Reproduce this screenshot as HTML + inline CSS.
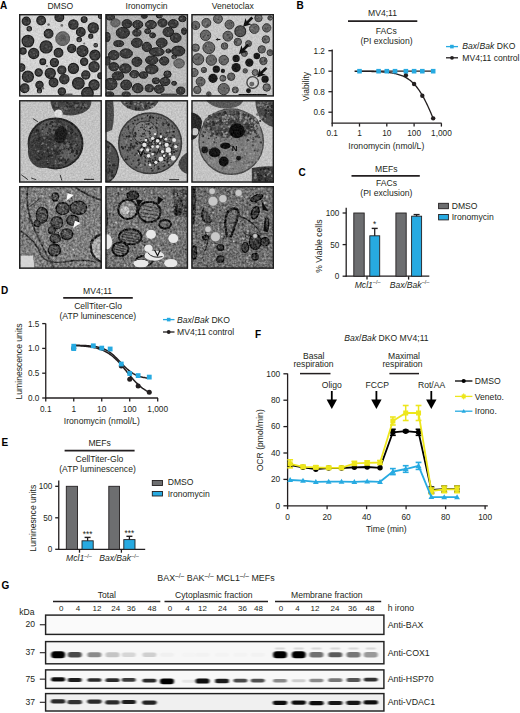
<!DOCTYPE html>
<html><head><meta charset="utf-8"><style>
html,body{margin:0;padding:0;background:#fff;}
svg{display:block;font-family:"Liberation Sans", sans-serif;}
</style></head><body>
<svg width="520" height="713" viewBox="0 0 520 713">
<rect width="520" height="713" fill="#fff"/>
<text x="0" y="9" font-size="10" font-weight="bold" fill="#000">A</text>
<text x="296.5" y="9.2" font-size="10" font-weight="bold" fill="#000">B</text>
<text x="298.5" y="175.6" font-size="10" font-weight="bold" fill="#000">C</text>
<text x="1" y="294" font-size="10" font-weight="bold" fill="#000">D</text>
<text x="1.5" y="446.4" font-size="10" font-weight="bold" fill="#000">E</text>
<text x="255" y="338.4" font-size="10" font-weight="bold" fill="#000">F</text>
<text x="1.5" y="588.6" font-size="10" font-weight="bold" fill="#000">G</text>
<text x="60.3" y="9.3" font-size="8.6" text-anchor="middle" fill="#231f20">DMSO</text>
<text x="146.6" y="9.3" font-size="8.6" text-anchor="middle" fill="#231f20">Ironomycin</text>
<text x="232.7" y="9.3" font-size="8.6" text-anchor="middle" fill="#231f20">Venetoclax</text>
<text x="382.5" y="15.6" font-size="8.6" text-anchor="middle" fill="#231f20">MV4;11</text>
<line x1="348" y1="21.2" x2="417.3" y2="21.2" stroke="#231f20" stroke-width="1.7"/>
<text x="386.2" y="33.8" font-size="8.6" text-anchor="middle" fill="#231f20">FACs</text>
<text x="386.5" y="43.8" font-size="8.6" text-anchor="middle" fill="#231f20">(PI exclusion)</text>
<line x1="332.2" y1="49.5" x2="332.2" y2="123.75" stroke="#231f20" stroke-width="1.3"/>
<line x1="331.65" y1="123.2" x2="441.6" y2="123.2" stroke="#231f20" stroke-width="1.3"/>
<line x1="328.4" y1="50.7" x2="332.2" y2="50.7" stroke="#231f20" stroke-width="1.3"/>
<text x="324.9" y="53.7" font-size="8.2" text-anchor="end" fill="#231f20">1.2</text>
<line x1="328.4" y1="71.2" x2="332.2" y2="71.2" stroke="#231f20" stroke-width="1.3"/>
<text x="324.9" y="74.2" font-size="8.2" text-anchor="end" fill="#231f20">1.0</text>
<line x1="328.4" y1="91.7" x2="332.2" y2="91.7" stroke="#231f20" stroke-width="1.3"/>
<text x="324.9" y="94.7" font-size="8.2" text-anchor="end" fill="#231f20">0.8</text>
<line x1="328.4" y1="112.2" x2="332.2" y2="112.2" stroke="#231f20" stroke-width="1.3"/>
<text x="324.9" y="115.2" font-size="8.2" text-anchor="end" fill="#231f20">0.6</text>
<line x1="332.2" y1="123.2" x2="332.2" y2="126.6" stroke="#231f20" stroke-width="1.3"/>
<text x="332.2" y="136.0" font-size="8.3" text-anchor="middle" fill="#231f20">0.1</text>
<line x1="359.5" y1="123.2" x2="359.5" y2="126.6" stroke="#231f20" stroke-width="1.3"/>
<text x="359.5" y="136.0" font-size="8.3" text-anchor="middle" fill="#231f20">1</text>
<line x1="386.8" y1="123.2" x2="386.8" y2="126.6" stroke="#231f20" stroke-width="1.3"/>
<text x="386.8" y="136.0" font-size="8.3" text-anchor="middle" fill="#231f20">10</text>
<line x1="414.1" y1="123.2" x2="414.1" y2="126.6" stroke="#231f20" stroke-width="1.3"/>
<text x="414.1" y="136.0" font-size="8.3" text-anchor="middle" fill="#231f20">100</text>
<line x1="441.4" y1="123.2" x2="441.4" y2="126.6" stroke="#231f20" stroke-width="1.3"/>
<text x="441.4" y="136.0" font-size="8.3" text-anchor="middle" fill="#231f20">1,000</text>
<text x="386.3" y="149.2" font-size="8.6" text-anchor="middle" fill="#231f20">Ironomycin (nmol/L)</text>
<text transform="translate(308.6,86.6) rotate(-90)" font-size="8.6" text-anchor="middle" fill="#231f20">Viability</text>
<path d="M354.59,71.26 L355.37,71.26 L356.16,71.26 L356.94,71.27 L357.73,71.27 L358.52,71.28 L359.30,71.29 L360.09,71.29 L360.87,71.30 L361.66,71.31 L362.45,71.32 L363.23,71.33 L364.02,71.33 L364.80,71.34 L365.59,71.36 L366.38,71.37 L367.16,71.38 L367.95,71.39 L368.73,71.41 L369.52,71.43 L370.31,71.44 L371.09,71.46 L371.88,71.48 L372.66,71.50 L373.45,71.52 L374.24,71.55 L375.02,71.58 L375.81,71.60 L376.59,71.64 L377.38,71.67 L378.17,71.70 L378.95,71.74 L379.74,71.78 L380.52,71.83 L381.31,71.88 L382.09,71.93 L382.88,71.98 L383.67,72.04 L384.45,72.10 L385.24,72.17 L386.02,72.25 L386.81,72.33 L387.60,72.41 L388.38,72.50 L389.17,72.60 L389.95,72.71 L390.74,72.82 L391.53,72.94 L392.31,73.07 L393.10,73.21 L393.88,73.36 L394.67,73.52 L395.46,73.70 L396.24,73.88 L397.03,74.08 L397.81,74.29 L398.60,74.52 L399.39,74.77 L400.17,75.03 L400.96,75.31 L401.74,75.61 L402.53,75.93 L403.32,76.27 L404.10,76.64 L404.89,77.03 L405.67,77.45 L406.46,77.90 L407.25,78.37 L408.03,78.88 L408.82,79.42 L409.60,79.99 L410.39,80.60 L411.18,81.25 L411.96,81.94 L412.75,82.66 L413.53,83.43 L414.32,84.25 L415.11,85.11 L415.89,86.02 L416.68,86.98 L417.46,87.98 L418.25,89.04 L419.04,90.15 L419.82,91.32 L420.61,92.53 L421.39,93.80 L422.18,95.13 L422.97,96.50 L423.75,97.93 L424.54,99.41 L425.32,100.94 L426.11,102.52 L426.89,104.14 L427.68,105.80 L428.47,107.51 L429.25,109.25 L430.04,111.03 L430.82,112.84 L431.61,114.67 L432.40,116.52 L433.18,118.39" fill="none" stroke="#231f20" stroke-width="1.3"/>
<circle cx="405.88" cy="75.30" r="2.2" fill="#231f20"/>
<circle cx="414.10" cy="84.01" r="2.2" fill="#231f20"/>
<circle cx="422.32" cy="95.80" r="2.2" fill="#231f20"/>
<circle cx="433.18" cy="118.35" r="2.2" fill="#231f20"/>
<line x1="359.5" y1="71.2" x2="433.1818811183733" y2="71.2" stroke="#231f20" stroke-width="1.3"/>
<rect x="357.20" y="68.90" width="4.6" height="4.6" fill="#27aae1"/>
<rect x="376.28" y="68.90" width="4.6" height="4.6" fill="#27aae1"/>
<rect x="384.50" y="68.90" width="4.6" height="4.6" fill="#27aae1"/>
<rect x="392.72" y="68.90" width="4.6" height="4.6" fill="#27aae1"/>
<rect x="403.58" y="68.90" width="4.6" height="4.6" fill="#27aae1"/>
<rect x="411.80" y="68.90" width="4.6" height="4.6" fill="#27aae1"/>
<rect x="420.02" y="68.90" width="4.6" height="4.6" fill="#27aae1"/>
<rect x="430.88" y="68.90" width="4.6" height="4.6" fill="#27aae1"/>
<line x1="446" y1="46.6" x2="458" y2="46.6" stroke="#27aae1" stroke-width="1.3"/>
<rect x="450.1" y="44.8" width="3.6" height="3.6" fill="#27aae1"/>
<text x="462.3" y="49.2" font-size="8.6" fill="#231f20"><tspan font-style="italic">Bax</tspan>/<tspan font-style="italic">Bak</tspan> DKO</text>
<line x1="446" y1="57.8" x2="458" y2="57.8" stroke="#231f20" stroke-width="1.3"/>
<circle cx="452" cy="57.8" r="1.9" fill="#231f20"/>
<text x="462.3" y="60.6" font-size="8.6" fill="#231f20">MV4;11 control</text>
<text x="386.3" y="172.2" font-size="8.6" text-anchor="middle" fill="#231f20">MEFs</text>
<line x1="351.5" y1="175.9" x2="419.8" y2="175.9" stroke="#231f20" stroke-width="1.7"/>
<text x="386.5" y="186.4" font-size="8.6" text-anchor="middle" fill="#231f20">FACs</text>
<text x="386.3" y="196.3" font-size="8.6" text-anchor="middle" fill="#231f20">(PI exclusion)</text>
<line x1="346.2" y1="207.8" x2="346.2" y2="276.75" stroke="#231f20" stroke-width="1.3"/>
<line x1="345.65" y1="276.2" x2="429.3" y2="276.2" stroke="#231f20" stroke-width="1.3"/>
<line x1="342.6" y1="213.0" x2="346.2" y2="213.0" stroke="#231f20" stroke-width="1.3"/>
<text x="339.3" y="215.9" font-size="8.2" text-anchor="end" fill="#231f20">100</text>
<line x1="342.6" y1="244.6" x2="346.2" y2="244.6" stroke="#231f20" stroke-width="1.3"/>
<text x="339.3" y="247.5" font-size="8.2" text-anchor="end" fill="#231f20">50</text>
<line x1="342.6" y1="276.2" x2="346.2" y2="276.2" stroke="#231f20" stroke-width="1.3"/>
<text x="339.3" y="279.09999999999997" font-size="8.2" text-anchor="end" fill="#231f20">0</text>
<line x1="367" y1="276.2" x2="367" y2="279.6" stroke="#231f20" stroke-width="1.3"/>
<line x1="408.6" y1="276.2" x2="408.6" y2="279.6" stroke="#231f20" stroke-width="1.3"/>
<line x1="374.7" y1="228.4" x2="374.7" y2="236" stroke="#231f20" stroke-width="1.3"/>
<line x1="371.7" y1="228.4" x2="377.7" y2="228.4" stroke="#231f20" stroke-width="1.4"/>
<rect x="353.8" y="213.0" width="10.399999999999977" height="63.19999999999999" fill="#6d6e70" stroke="#231f20" stroke-width="0.9"/>
<rect x="369.8" y="235.8" width="9.899999999999977" height="40.39999999999998" fill="#27aae1" stroke="#231f20" stroke-width="0.9"/>
<line x1="416.6" y1="214.6" x2="416.6" y2="217" stroke="#231f20" stroke-width="1.3"/>
<line x1="413.6" y1="214.6" x2="419.6" y2="214.6" stroke="#231f20" stroke-width="1.4"/>
<rect x="395.9" y="213.0" width="10.300000000000011" height="63.19999999999999" fill="#6d6e70" stroke="#231f20" stroke-width="0.9"/>
<rect x="411.6" y="216.2" width="10.0" height="60.0" fill="#27aae1" stroke="#231f20" stroke-width="0.9"/>
<text x="374.7" y="227.4" font-size="8.2" text-anchor="middle" fill="#231f20">*</text>
<text x="367.6" y="287.6" font-size="8.6" text-anchor="middle" fill="#231f20" font-style="italic">Mcl1<tspan font-size="5.5" dy="-3.4" font-style="normal">&#8211;/&#8211;</tspan></text>
<text x="409.5" y="287.6" font-size="8.6" text-anchor="middle" fill="#231f20" font-style="italic">Bax/Bak<tspan font-size="5.5" dy="-3.4" font-style="normal">&#8211;/&#8211;</tspan></text>
<rect x="438.6" y="203.3" width="9.799999999999955" height="5.399999999999977" fill="#6d6e70" stroke="#231f20" stroke-width="0.9"/>
<text x="451.7" y="208.9" font-size="8.6" fill="#231f20">DMSO</text>
<rect x="438.6" y="214.5" width="9.799999999999955" height="5.400000000000006" fill="#27aae1" stroke="#231f20" stroke-width="0.9"/>
<text x="451.7" y="220.2" font-size="8.6" fill="#231f20">Ironomycin</text>
<text transform="translate(321.6,246.2) rotate(-90)" font-size="8.6" text-anchor="middle" fill="#231f20">% Viable cells</text>
<text x="97.6" y="294.0" font-size="8.6" text-anchor="middle" fill="#231f20">MV4;11</text>
<line x1="63.2" y1="297.9" x2="132.8" y2="297.9" stroke="#231f20" stroke-width="1.7"/>
<text x="98.1" y="308.8" font-size="8.6" text-anchor="middle" fill="#231f20">CellTiter-Glo</text>
<text x="97.8" y="318.6" font-size="8.6" text-anchor="middle" fill="#231f20">(ATP luminescence)</text>
<line x1="45.75" y1="323.5" x2="45.75" y2="398.55" stroke="#231f20" stroke-width="1.3"/>
<line x1="45.2" y1="398" x2="157.9" y2="398" stroke="#231f20" stroke-width="1.3"/>
<line x1="42.2" y1="323.6" x2="45.75" y2="323.6" stroke="#231f20" stroke-width="1.3"/>
<text x="39.3" y="326.6" font-size="8.2" text-anchor="end" fill="#231f20">1.5</text>
<line x1="42.2" y1="348.4" x2="45.75" y2="348.4" stroke="#231f20" stroke-width="1.3"/>
<text x="39.3" y="351.4" font-size="8.2" text-anchor="end" fill="#231f20">1.0</text>
<line x1="42.2" y1="373.2" x2="45.75" y2="373.2" stroke="#231f20" stroke-width="1.3"/>
<text x="39.3" y="376.2" font-size="8.2" text-anchor="end" fill="#231f20">0.5</text>
<line x1="42.2" y1="398.0" x2="45.75" y2="398.0" stroke="#231f20" stroke-width="1.3"/>
<text x="39.3" y="401.0" font-size="8.2" text-anchor="end" fill="#231f20">0.0</text>
<line x1="45.75" y1="398" x2="45.75" y2="401.4" stroke="#231f20" stroke-width="1.3"/>
<text x="45.75" y="411.9" font-size="8.3" text-anchor="middle" fill="#231f20">0.1</text>
<line x1="73.74" y1="398" x2="73.74" y2="401.4" stroke="#231f20" stroke-width="1.3"/>
<text x="73.74" y="411.9" font-size="8.3" text-anchor="middle" fill="#231f20">1</text>
<line x1="101.72999999999999" y1="398" x2="101.72999999999999" y2="401.4" stroke="#231f20" stroke-width="1.3"/>
<text x="101.72999999999999" y="411.9" font-size="8.3" text-anchor="middle" fill="#231f20">10</text>
<line x1="129.72" y1="398" x2="129.72" y2="401.4" stroke="#231f20" stroke-width="1.3"/>
<text x="129.72" y="411.9" font-size="8.3" text-anchor="middle" fill="#231f20">100</text>
<line x1="157.70999999999998" y1="398" x2="157.70999999999998" y2="401.4" stroke="#231f20" stroke-width="1.3"/>
<text x="157.70999999999998" y="411.9" font-size="8.3" text-anchor="middle" fill="#231f20">1,000</text>
<text x="101.8" y="424.2" font-size="8.6" text-anchor="middle" fill="#231f20">Ironomycin (nmol/L)</text>
<text transform="translate(21.8,361.5) rotate(-90)" font-size="8.6" text-anchor="middle" fill="#231f20">Luminescence units</text>
<path d="M73.74,345.55 L74.68,345.59 L75.63,345.62 L76.57,345.66 L77.52,345.71 L78.46,345.76 L79.41,345.81 L80.35,345.87 L81.29,345.93 L82.24,346.00 L83.18,346.07 L84.13,346.15 L85.07,346.24 L86.02,346.34 L86.96,346.44 L87.90,346.56 L88.85,346.68 L89.79,346.81 L90.74,346.96 L91.68,347.12 L92.63,347.29 L93.57,347.47 L94.51,347.68 L95.46,347.89 L96.40,348.13 L97.35,348.39 L98.29,348.66 L99.24,348.96 L100.18,349.28 L101.12,349.63 L102.07,350.00 L103.01,350.40 L103.96,350.83 L104.90,351.29 L105.85,351.78 L106.79,352.31 L107.73,352.87 L108.68,353.47 L109.62,354.10 L110.57,354.77 L111.51,355.49 L112.46,356.24 L113.40,357.03 L114.34,357.86 L115.29,358.72 L116.23,359.63 L117.18,360.57 L118.12,361.55 L119.07,362.56 L120.01,363.60 L120.96,364.68 L121.90,365.77 L122.84,366.89 L123.79,368.02 L124.73,369.17 L125.68,370.33 L126.62,371.49 L127.57,372.65 L128.51,373.81 L129.45,374.96 L130.40,376.10 L131.34,377.22 L132.29,378.32 L133.23,379.39 L134.18,380.44 L135.12,381.46 L136.06,382.44 L137.01,383.39 L137.95,384.30 L138.90,385.18 L139.84,386.01 L140.79,386.81 L141.73,387.57 L142.67,388.29 L143.62,388.97 L144.56,389.61 L145.51,390.21 L146.45,390.78 L147.40,391.31 L148.34,391.81 L149.28,392.27" fill="none" stroke="#231f20" stroke-width="1.5"/>
<path d="M73.74,345.27 L74.68,345.28 L75.63,345.30 L76.57,345.31 L77.52,345.33 L78.46,345.35 L79.41,345.37 L80.35,345.40 L81.29,345.42 L82.24,345.45 L83.18,345.49 L84.13,345.53 L85.07,345.57 L86.02,345.62 L86.96,345.68 L87.90,345.74 L88.85,345.81 L89.79,345.89 L90.74,345.97 L91.68,346.07 L92.63,346.18 L93.57,346.30 L94.51,346.44 L95.46,346.59 L96.40,346.76 L97.35,346.95 L98.29,347.17 L99.24,347.40 L100.18,347.66 L101.12,347.95 L102.07,348.27 L103.01,348.62 L103.96,349.00 L104.90,349.42 L105.85,349.89 L106.79,350.39 L107.73,350.94 L108.68,351.53 L109.62,352.16 L110.57,352.85 L111.51,353.57 L112.46,354.35 L113.40,355.17 L114.34,356.02 L115.29,356.92 L116.23,357.85 L117.18,358.81 L118.12,359.79 L119.07,360.78 L120.01,361.79 L120.96,362.80 L121.90,363.81 L122.84,364.80 L123.79,365.77 L124.73,366.72 L125.68,367.65 L126.62,368.53 L127.57,369.38 L128.51,370.19 L129.45,370.95 L130.40,371.66 L131.34,372.34 L132.29,372.96 L133.23,373.54 L134.18,374.07 L135.12,374.57 L136.06,375.02 L137.01,375.43 L137.95,375.81 L138.90,376.15 L139.84,376.46 L140.79,376.74 L141.73,376.99 L142.67,377.22 L143.62,377.43 L144.56,377.61 L145.51,377.78 L146.45,377.92 L147.40,378.06 L148.34,378.18 L149.28,378.28" fill="none" stroke="#231f20" stroke-width="1.5"/>
<circle cx="73.74" cy="348.5" r="2.5" fill="#231f20"/>
<circle cx="121.29" cy="366.1" r="2.5" fill="#231f20"/>
<circle cx="129.72" cy="379.2" r="2.5" fill="#231f20"/>
<circle cx="138.15" cy="386.0" r="2.5" fill="#231f20"/>
<circle cx="149.28" cy="392.3" r="2.5" fill="#231f20"/>
<rect x="71.34" y="343.80" width="4.8" height="4.8" fill="#27aae1"/>
<rect x="71.34" y="346.20" width="4.8" height="4.8" fill="#27aae1"/>
<rect x="90.90" y="343.40" width="4.8" height="4.8" fill="#27aae1"/>
<rect x="99.33" y="345.70" width="4.8" height="4.8" fill="#27aae1"/>
<rect x="107.76" y="346.60" width="4.8" height="4.8" fill="#27aae1"/>
<rect x="118.89" y="361.60" width="4.8" height="4.8" fill="#27aae1"/>
<rect x="127.32" y="371.10" width="4.8" height="4.8" fill="#27aae1"/>
<rect x="135.75" y="373.20" width="4.8" height="4.8" fill="#27aae1"/>
<rect x="146.88" y="374.70" width="4.8" height="4.8" fill="#27aae1"/>
<line x1="163" y1="319.6" x2="174.5" y2="319.6" stroke="#27aae1" stroke-width="1.3"/>
<rect x="166.9" y="317.8" width="3.6" height="3.6" fill="#27aae1"/>
<text x="177" y="322.6" font-size="8.6" fill="#231f20"><tspan font-style="italic">Bax</tspan>/<tspan font-style="italic">Bak</tspan> DKO</text>
<line x1="163" y1="332" x2="174.5" y2="332" stroke="#231f20" stroke-width="1.3"/>
<circle cx="168.7" cy="332" r="1.9" fill="#231f20"/>
<text x="177" y="334.9" font-size="8.6" fill="#231f20">MV4;11 control</text>
<text x="99.6" y="445.9" font-size="8.6" text-anchor="middle" fill="#231f20">MEFs</text>
<line x1="64.6" y1="450.6" x2="134.6" y2="450.6" stroke="#231f20" stroke-width="1.7"/>
<text x="99.4" y="462.1" font-size="8.6" text-anchor="middle" fill="#231f20">CellTiter-Glo</text>
<text x="97.5" y="472.0" font-size="8.6" text-anchor="middle" fill="#231f20">(ATP luminescence)</text>
<line x1="58.75" y1="480.4" x2="58.75" y2="549.8499999999999" stroke="#231f20" stroke-width="1.3"/>
<line x1="58.2" y1="549.3" x2="145.2" y2="549.3" stroke="#231f20" stroke-width="1.3"/>
<line x1="55.2" y1="486.29999999999995" x2="58.75" y2="486.29999999999995" stroke="#231f20" stroke-width="1.3"/>
<text x="52.4" y="489.29999999999995" font-size="8.2" text-anchor="end" fill="#231f20">100</text>
<line x1="55.2" y1="517.8" x2="58.75" y2="517.8" stroke="#231f20" stroke-width="1.3"/>
<text x="52.4" y="520.8" font-size="8.2" text-anchor="end" fill="#231f20">50</text>
<line x1="55.2" y1="549.3" x2="58.75" y2="549.3" stroke="#231f20" stroke-width="1.3"/>
<text x="52.4" y="552.3" font-size="8.2" text-anchor="end" fill="#231f20">0</text>
<line x1="79.5" y1="549.3" x2="79.5" y2="552.7" stroke="#231f20" stroke-width="1.3"/>
<line x1="121.4" y1="549.3" x2="121.4" y2="552.7" stroke="#231f20" stroke-width="1.3"/>
<line x1="87.6" y1="537.4" x2="87.6" y2="541.5" stroke="#231f20" stroke-width="1.3"/>
<line x1="84.6" y1="537.4" x2="90.6" y2="537.4" stroke="#231f20" stroke-width="1.4"/>
<rect x="66.3" y="486.29999999999995" width="11.200000000000003" height="63.0" fill="#6d6e70" stroke="#231f20" stroke-width="0.9"/>
<rect x="82.0" y="540.8" width="11.200000000000003" height="8.5" fill="#27aae1" stroke="#231f20" stroke-width="0.9"/>
<line x1="129.4" y1="536.3" x2="129.4" y2="540.5" stroke="#231f20" stroke-width="1.3"/>
<line x1="126.4" y1="536.3" x2="132.4" y2="536.3" stroke="#231f20" stroke-width="1.4"/>
<rect x="108.8" y="486.29999999999995" width="10.700000000000003" height="63.0" fill="#6d6e70" stroke="#231f20" stroke-width="0.9"/>
<rect x="123.8" y="539.6" width="11.200000000000003" height="9.699999999999932" fill="#27aae1" stroke="#231f20" stroke-width="0.9"/>
<text x="87.6" y="536.6" font-size="8.2" text-anchor="middle" fill="#231f20">***</text>
<text x="129.4" y="536.2" font-size="8.2" text-anchor="middle" fill="#231f20">***</text>
<text x="79.0" y="561.0" font-size="8.6" text-anchor="middle" fill="#231f20" font-style="italic">Mcl1<tspan font-size="5.5" dy="-3.4" font-style="normal">&#8211;/&#8211;</tspan></text>
<text x="119.0" y="561.0" font-size="8.6" text-anchor="middle" fill="#231f20" font-style="italic">Bax/Bak<tspan font-size="5.5" dy="-3.4" font-style="normal">&#8211;/&#8211;</tspan></text>
<rect x="152.3" y="480.5" width="10.199999999999989" height="5.0" fill="#6d6e70" stroke="#231f20" stroke-width="0.9"/>
<text x="167.7" y="485.3" font-size="8.6" fill="#231f20">DMSO</text>
<rect x="152.3" y="491.5" width="10.199999999999989" height="4.5" fill="#27aae1" stroke="#231f20" stroke-width="0.9"/>
<text x="167.7" y="496.6" font-size="8.6" fill="#231f20">Ironomycin</text>
<text transform="translate(35.5,518.2) rotate(-90)" font-size="8.6" text-anchor="middle" fill="#231f20">Luminesnce units</text>
<text x="344.2" y="341.2" font-size="8.6" fill="#231f20"><tspan font-style="italic">Bax</tspan>/<tspan font-style="italic">Bak</tspan> DKO MV4;11</text>
<text x="313.7" y="359.1" font-size="8.6" text-anchor="middle" fill="#231f20">Basal</text>
<text x="313.5" y="367.2" font-size="8.6" text-anchor="middle" fill="#231f20">respiration</text>
<line x1="300" y1="373.6" x2="330.5" y2="373.6" stroke="#231f20" stroke-width="1.5"/>
<text x="404.0" y="358.8" font-size="8.6" text-anchor="middle" fill="#231f20">Maximal</text>
<text x="402.5" y="367.2" font-size="8.6" text-anchor="middle" fill="#231f20">respiration</text>
<line x1="389.4" y1="373.6" x2="419.0" y2="373.6" stroke="#231f20" stroke-width="1.5"/>
<text x="331.8" y="388.0" font-size="8.6" text-anchor="middle" fill="#231f20">Oligo</text>
<text x="377.2" y="388.0" font-size="8.6" text-anchor="middle" fill="#231f20">FCCP</text>
<text x="431.6" y="387.6" font-size="8.6" text-anchor="middle" fill="#231f20">Rot/AA</text>
<line x1="331.8" y1="391.0" x2="331.8" y2="401.0" stroke="#000" stroke-width="1.8"/>
<path d="M326.6,399.4 L337.0,399.4 L331.8,409.0 Z" fill="#000"/>
<line x1="376.4" y1="391.0" x2="376.4" y2="401.0" stroke="#000" stroke-width="1.8"/>
<path d="M371.2,399.4 L381.59999999999997,399.4 L376.4,409.0 Z" fill="#000"/>
<line x1="431.3" y1="391.0" x2="431.3" y2="401.0" stroke="#000" stroke-width="1.8"/>
<path d="M426.1,399.4 L436.5,399.4 L431.3,409.0 Z" fill="#000"/>
<line x1="287.6" y1="373.5" x2="287.6" y2="506.35" stroke="#231f20" stroke-width="1.3"/>
<line x1="287.05" y1="505.8" x2="487.8" y2="505.8" stroke="#231f20" stroke-width="1.3"/>
<line x1="283.4" y1="505.8" x2="287.6" y2="505.8" stroke="#231f20" stroke-width="1.3"/>
<text x="280.2" y="508.5" font-size="8.3" text-anchor="end" fill="#231f20">0</text>
<line x1="283.4" y1="479.40000000000003" x2="287.6" y2="479.40000000000003" stroke="#231f20" stroke-width="1.3"/>
<text x="280.2" y="482.1" font-size="8.3" text-anchor="end" fill="#231f20">20</text>
<line x1="283.4" y1="453.0" x2="287.6" y2="453.0" stroke="#231f20" stroke-width="1.3"/>
<text x="280.2" y="455.7" font-size="8.3" text-anchor="end" fill="#231f20">40</text>
<line x1="283.4" y1="426.6" x2="287.6" y2="426.6" stroke="#231f20" stroke-width="1.3"/>
<text x="280.2" y="429.3" font-size="8.3" text-anchor="end" fill="#231f20">60</text>
<line x1="283.4" y1="400.2" x2="287.6" y2="400.2" stroke="#231f20" stroke-width="1.3"/>
<text x="280.2" y="402.9" font-size="8.3" text-anchor="end" fill="#231f20">80</text>
<line x1="283.4" y1="373.8" x2="287.6" y2="373.8" stroke="#231f20" stroke-width="1.3"/>
<text x="280.2" y="376.5" font-size="8.3" text-anchor="end" fill="#231f20">100</text>
<line x1="287.6" y1="505.8" x2="287.6" y2="509.2" stroke="#231f20" stroke-width="1.3"/>
<text x="287.6" y="520.0" font-size="8.3" text-anchor="middle" fill="#231f20">0</text>
<line x1="327.1" y1="505.8" x2="327.1" y2="509.2" stroke="#231f20" stroke-width="1.3"/>
<text x="327.1" y="520.0" font-size="8.3" text-anchor="middle" fill="#231f20">20</text>
<line x1="366.6" y1="505.8" x2="366.6" y2="509.2" stroke="#231f20" stroke-width="1.3"/>
<text x="366.6" y="520.0" font-size="8.3" text-anchor="middle" fill="#231f20">40</text>
<line x1="406.1" y1="505.8" x2="406.1" y2="509.2" stroke="#231f20" stroke-width="1.3"/>
<text x="406.1" y="520.0" font-size="8.3" text-anchor="middle" fill="#231f20">60</text>
<line x1="445.6" y1="505.8" x2="445.6" y2="509.2" stroke="#231f20" stroke-width="1.3"/>
<text x="445.6" y="520.0" font-size="8.3" text-anchor="middle" fill="#231f20">80</text>
<line x1="485.1" y1="505.8" x2="485.1" y2="509.2" stroke="#231f20" stroke-width="1.3"/>
<text x="485.1" y="520.0" font-size="8.3" text-anchor="middle" fill="#231f20">100</text>
<text x="386.3" y="531.5" font-size="8.6" text-anchor="middle" fill="#231f20">Time (min)</text>
<text transform="translate(263.2,440.3) rotate(-90)" font-size="8.6" text-anchor="middle" fill="#231f20">OCR (pmol/min)</text>
<polyline points="290.17,465.0 303.00,467.3 315.84,469.2 328.68,468.0 341.52,468.0 354.36,467.3 367.19,467.0 380.03,467.8 392.87,432.3 405.71,431.2 418.54,432.3 431.38,490.0 444.22,489.1 457.06,489.1" fill="none" stroke="#000" stroke-width="1.8"/>
<line x1="392.8675" y1="429.3" x2="392.8675" y2="435.3" stroke="#000" stroke-width="1.5"/>
<line x1="389.96750000000003" y1="429.3" x2="395.7675" y2="429.3" stroke="#000" stroke-width="1.6"/>
<line x1="389.96750000000003" y1="435.3" x2="395.7675" y2="435.3" stroke="#000" stroke-width="1.6"/>
<line x1="405.70500000000004" y1="430.2" x2="405.70500000000004" y2="432.2" stroke="#000" stroke-width="1.5"/>
<line x1="402.80500000000006" y1="430.2" x2="408.605" y2="430.2" stroke="#000" stroke-width="1.6"/>
<line x1="402.80500000000006" y1="432.2" x2="408.605" y2="432.2" stroke="#000" stroke-width="1.6"/>
<line x1="418.5425" y1="429.3" x2="418.5425" y2="435.3" stroke="#000" stroke-width="1.5"/>
<line x1="415.64250000000004" y1="429.3" x2="421.4425" y2="429.3" stroke="#000" stroke-width="1.6"/>
<line x1="415.64250000000004" y1="435.3" x2="421.4425" y2="435.3" stroke="#000" stroke-width="1.6"/>
<line x1="431.38" y1="487.0" x2="431.38" y2="493.0" stroke="#000" stroke-width="1.5"/>
<line x1="428.48" y1="487.0" x2="434.28" y2="487.0" stroke="#000" stroke-width="1.6"/>
<line x1="428.48" y1="493.0" x2="434.28" y2="493.0" stroke="#000" stroke-width="1.6"/>
<line x1="444.21750000000003" y1="486.1" x2="444.21750000000003" y2="492.1" stroke="#000" stroke-width="1.5"/>
<line x1="441.31750000000005" y1="486.1" x2="447.1175" y2="486.1" stroke="#000" stroke-width="1.6"/>
<line x1="441.31750000000005" y1="492.1" x2="447.1175" y2="492.1" stroke="#000" stroke-width="1.6"/>
<line x1="457.05500000000006" y1="486.1" x2="457.05500000000006" y2="492.1" stroke="#000" stroke-width="1.5"/>
<line x1="454.1550000000001" y1="486.1" x2="459.95500000000004" y2="486.1" stroke="#000" stroke-width="1.6"/>
<line x1="454.1550000000001" y1="492.1" x2="459.95500000000004" y2="492.1" stroke="#000" stroke-width="1.6"/>
<circle cx="290.17" cy="465.0" r="2.7" fill="#000"/>
<circle cx="303.00" cy="467.3" r="2.7" fill="#000"/>
<circle cx="315.84" cy="469.2" r="2.7" fill="#000"/>
<circle cx="328.68" cy="468.0" r="2.7" fill="#000"/>
<circle cx="341.52" cy="468.0" r="2.7" fill="#000"/>
<circle cx="354.36" cy="467.3" r="2.7" fill="#000"/>
<circle cx="367.19" cy="467.0" r="2.7" fill="#000"/>
<circle cx="380.03" cy="467.8" r="2.7" fill="#000"/>
<circle cx="392.87" cy="432.3" r="2.7" fill="#000"/>
<circle cx="405.71" cy="431.2" r="2.7" fill="#000"/>
<circle cx="418.54" cy="432.3" r="2.7" fill="#000"/>
<circle cx="431.38" cy="490.0" r="2.7" fill="#000"/>
<circle cx="444.22" cy="489.1" r="2.7" fill="#000"/>
<circle cx="457.06" cy="489.1" r="2.7" fill="#000"/>
<polyline points="290.17,463.8 303.00,466.8 315.84,467.3 328.68,467.8 341.52,467.8 354.36,463.4 367.19,462.9 380.03,462.5 392.87,421.0 405.71,413.0 418.54,413.0 431.38,491.0 444.22,489.4 457.06,489.4" fill="none" stroke="#ede61c" stroke-width="1.8"/>
<line x1="290.1675" y1="459.8" x2="290.1675" y2="467.8" stroke="#ede61c" stroke-width="1.5"/>
<line x1="287.26750000000004" y1="459.8" x2="293.0675" y2="459.8" stroke="#ede61c" stroke-width="1.6"/>
<line x1="287.26750000000004" y1="467.8" x2="293.0675" y2="467.8" stroke="#ede61c" stroke-width="1.6"/>
<line x1="303.005" y1="465.3" x2="303.005" y2="468.3" stroke="#ede61c" stroke-width="1.5"/>
<line x1="300.105" y1="465.3" x2="305.905" y2="465.3" stroke="#ede61c" stroke-width="1.6"/>
<line x1="300.105" y1="468.3" x2="305.905" y2="468.3" stroke="#ede61c" stroke-width="1.6"/>
<line x1="315.84250000000003" y1="465.8" x2="315.84250000000003" y2="468.8" stroke="#ede61c" stroke-width="1.5"/>
<line x1="312.94250000000005" y1="465.8" x2="318.7425" y2="465.8" stroke="#ede61c" stroke-width="1.6"/>
<line x1="312.94250000000005" y1="468.8" x2="318.7425" y2="468.8" stroke="#ede61c" stroke-width="1.6"/>
<line x1="328.68" y1="466.3" x2="328.68" y2="469.3" stroke="#ede61c" stroke-width="1.5"/>
<line x1="325.78000000000003" y1="466.3" x2="331.58" y2="466.3" stroke="#ede61c" stroke-width="1.6"/>
<line x1="325.78000000000003" y1="469.3" x2="331.58" y2="469.3" stroke="#ede61c" stroke-width="1.6"/>
<line x1="341.51750000000004" y1="466.3" x2="341.51750000000004" y2="469.3" stroke="#ede61c" stroke-width="1.5"/>
<line x1="338.61750000000006" y1="466.3" x2="344.4175" y2="466.3" stroke="#ede61c" stroke-width="1.6"/>
<line x1="338.61750000000006" y1="469.3" x2="344.4175" y2="469.3" stroke="#ede61c" stroke-width="1.6"/>
<line x1="354.355" y1="461.4" x2="354.355" y2="465.4" stroke="#ede61c" stroke-width="1.5"/>
<line x1="351.45500000000004" y1="461.4" x2="357.255" y2="461.4" stroke="#ede61c" stroke-width="1.6"/>
<line x1="351.45500000000004" y1="465.4" x2="357.255" y2="465.4" stroke="#ede61c" stroke-width="1.6"/>
<line x1="367.1925" y1="460.9" x2="367.1925" y2="464.9" stroke="#ede61c" stroke-width="1.5"/>
<line x1="364.2925" y1="460.9" x2="370.0925" y2="460.9" stroke="#ede61c" stroke-width="1.6"/>
<line x1="364.2925" y1="464.9" x2="370.0925" y2="464.9" stroke="#ede61c" stroke-width="1.6"/>
<line x1="380.03000000000003" y1="460.5" x2="380.03000000000003" y2="464.5" stroke="#ede61c" stroke-width="1.5"/>
<line x1="377.13000000000005" y1="460.5" x2="382.93" y2="460.5" stroke="#ede61c" stroke-width="1.6"/>
<line x1="377.13000000000005" y1="464.5" x2="382.93" y2="464.5" stroke="#ede61c" stroke-width="1.6"/>
<line x1="392.8675" y1="417.0" x2="392.8675" y2="425.0" stroke="#ede61c" stroke-width="1.5"/>
<line x1="389.96750000000003" y1="417.0" x2="395.7675" y2="417.0" stroke="#ede61c" stroke-width="1.6"/>
<line x1="389.96750000000003" y1="425.0" x2="395.7675" y2="425.0" stroke="#ede61c" stroke-width="1.6"/>
<line x1="405.70500000000004" y1="405.5" x2="405.70500000000004" y2="420.5" stroke="#ede61c" stroke-width="1.5"/>
<line x1="402.80500000000006" y1="405.5" x2="408.605" y2="405.5" stroke="#ede61c" stroke-width="1.6"/>
<line x1="402.80500000000006" y1="420.5" x2="408.605" y2="420.5" stroke="#ede61c" stroke-width="1.6"/>
<line x1="418.5425" y1="405.5" x2="418.5425" y2="420.5" stroke="#ede61c" stroke-width="1.5"/>
<line x1="415.64250000000004" y1="405.5" x2="421.4425" y2="405.5" stroke="#ede61c" stroke-width="1.6"/>
<line x1="415.64250000000004" y1="420.5" x2="421.4425" y2="420.5" stroke="#ede61c" stroke-width="1.6"/>
<line x1="431.38" y1="488.0" x2="431.38" y2="494.0" stroke="#ede61c" stroke-width="1.5"/>
<line x1="428.48" y1="488.0" x2="434.28" y2="488.0" stroke="#ede61c" stroke-width="1.6"/>
<line x1="428.48" y1="494.0" x2="434.28" y2="494.0" stroke="#ede61c" stroke-width="1.6"/>
<line x1="444.21750000000003" y1="486.09999999999997" x2="444.21750000000003" y2="492.7" stroke="#ede61c" stroke-width="1.5"/>
<line x1="441.31750000000005" y1="486.09999999999997" x2="447.1175" y2="486.09999999999997" stroke="#ede61c" stroke-width="1.6"/>
<line x1="441.31750000000005" y1="492.7" x2="447.1175" y2="492.7" stroke="#ede61c" stroke-width="1.6"/>
<line x1="457.05500000000006" y1="486.09999999999997" x2="457.05500000000006" y2="492.7" stroke="#ede61c" stroke-width="1.5"/>
<line x1="454.1550000000001" y1="486.09999999999997" x2="459.95500000000004" y2="486.09999999999997" stroke="#ede61c" stroke-width="1.6"/>
<line x1="454.1550000000001" y1="492.7" x2="459.95500000000004" y2="492.7" stroke="#ede61c" stroke-width="1.6"/>
<rect x="287.67" y="461.3" width="5" height="5" fill="#ede61c"/>
<rect x="300.50" y="464.3" width="5" height="5" fill="#ede61c"/>
<rect x="313.34" y="464.8" width="5" height="5" fill="#ede61c"/>
<rect x="326.18" y="465.3" width="5" height="5" fill="#ede61c"/>
<rect x="339.02" y="465.3" width="5" height="5" fill="#ede61c"/>
<rect x="351.86" y="460.9" width="5" height="5" fill="#ede61c"/>
<rect x="364.69" y="460.4" width="5" height="5" fill="#ede61c"/>
<rect x="377.53" y="460.0" width="5" height="5" fill="#ede61c"/>
<rect x="390.37" y="418.5" width="5" height="5" fill="#ede61c"/>
<rect x="403.21" y="410.5" width="5" height="5" fill="#ede61c"/>
<rect x="416.04" y="410.5" width="5" height="5" fill="#ede61c"/>
<rect x="428.88" y="488.5" width="5" height="5" fill="#ede61c"/>
<rect x="441.72" y="486.9" width="5" height="5" fill="#ede61c"/>
<rect x="454.56" y="486.9" width="5" height="5" fill="#ede61c"/>
<polyline points="290.17,480.0 303.00,480.7 315.84,481.8 328.68,481.6 341.52,481.6 354.36,481.8 367.19,481.4 380.03,481.8 392.87,471.6 405.71,469.0 418.54,465.9 431.38,497.0 444.22,497.2 457.06,497.2" fill="none" stroke="#27aae1" stroke-width="1.8"/>
<line x1="392.8675" y1="468.6" x2="392.8675" y2="474.6" stroke="#27aae1" stroke-width="1.5"/>
<line x1="389.96750000000003" y1="468.6" x2="395.7675" y2="468.6" stroke="#27aae1" stroke-width="1.6"/>
<line x1="389.96750000000003" y1="474.6" x2="395.7675" y2="474.6" stroke="#27aae1" stroke-width="1.6"/>
<line x1="405.70500000000004" y1="465.7" x2="405.70500000000004" y2="472.3" stroke="#27aae1" stroke-width="1.5"/>
<line x1="402.80500000000006" y1="465.7" x2="408.605" y2="465.7" stroke="#27aae1" stroke-width="1.6"/>
<line x1="402.80500000000006" y1="472.3" x2="408.605" y2="472.3" stroke="#27aae1" stroke-width="1.6"/>
<line x1="418.5425" y1="462.4" x2="418.5425" y2="469.4" stroke="#27aae1" stroke-width="1.5"/>
<line x1="415.64250000000004" y1="462.4" x2="421.4425" y2="462.4" stroke="#27aae1" stroke-width="1.6"/>
<line x1="415.64250000000004" y1="469.4" x2="421.4425" y2="469.4" stroke="#27aae1" stroke-width="1.6"/>
<path d="M287.27,482.1 L293.07,482.1 L290.17,477.1 Z" fill="#27aae1"/>
<path d="M300.11,482.8 L305.90,482.8 L303.00,477.8 Z" fill="#27aae1"/>
<path d="M312.94,483.90000000000003 L318.74,483.90000000000003 L315.84,478.90000000000003 Z" fill="#27aae1"/>
<path d="M325.78,483.70000000000005 L331.58,483.70000000000005 L328.68,478.70000000000005 Z" fill="#27aae1"/>
<path d="M338.62,483.70000000000005 L344.42,483.70000000000005 L341.52,478.70000000000005 Z" fill="#27aae1"/>
<path d="M351.46,483.90000000000003 L357.25,483.90000000000003 L354.36,478.90000000000003 Z" fill="#27aae1"/>
<path d="M364.29,483.5 L370.09,483.5 L367.19,478.5 Z" fill="#27aae1"/>
<path d="M377.13,483.90000000000003 L382.93,483.90000000000003 L380.03,478.90000000000003 Z" fill="#27aae1"/>
<path d="M389.97,473.70000000000005 L395.77,473.70000000000005 L392.87,468.70000000000005 Z" fill="#27aae1"/>
<path d="M402.81,471.1 L408.61,471.1 L405.71,466.1 Z" fill="#27aae1"/>
<path d="M415.64,468.0 L421.44,468.0 L418.54,463.0 Z" fill="#27aae1"/>
<path d="M428.48,499.1 L434.28,499.1 L431.38,494.1 Z" fill="#27aae1"/>
<path d="M441.32,499.3 L447.12,499.3 L444.22,494.3 Z" fill="#27aae1"/>
<path d="M454.16,499.3 L459.96,499.3 L457.06,494.3 Z" fill="#27aae1"/>
<line x1="455" y1="381" x2="472.4" y2="381" stroke="#000" stroke-width="1.3"/>
<circle cx="463.7" cy="381" r="2.1" fill="#000"/>
<text x="474.8" y="384.2" font-size="8.6" fill="#231f20">DMSO</text>
<line x1="455" y1="396.4" x2="472.4" y2="396.4" stroke="#ede61c" stroke-width="1.3"/>
<rect x="461.7" y="394.4" width="4" height="4" fill="#ede61c"/>
<line x1="463.7" y1="393.4" x2="463.7" y2="399.4" stroke="#ede61c" stroke-width="1.0"/>
<text x="474.8" y="399.6" font-size="8.6" fill="#231f20">Veneto.</text>
<line x1="455" y1="411.2" x2="472.4" y2="411.2" stroke="#27aae1" stroke-width="1.3"/>
<path d="M461.5,412.8 L465.9,412.8 L463.7,409 Z" fill="#27aae1"/>
<text x="474.8" y="414.4" font-size="8.6" fill="#231f20">Irono.</text>
<defs>
<clipPath id="cp00"><rect x="19" y="14" width="82.9" height="82.6"/></clipPath>
<clipPath id="cp10"><rect x="105.3" y="14" width="82.8" height="82.6"/></clipPath>
<clipPath id="cp20"><rect x="191.3" y="14" width="82.69999999999999" height="82.6"/></clipPath>
<clipPath id="cp01"><rect x="19" y="100.1" width="82.9" height="82.6"/></clipPath>
<clipPath id="cp11"><rect x="105.3" y="100.1" width="82.8" height="82.6"/></clipPath>
<clipPath id="cp21"><rect x="191.3" y="100.1" width="82.69999999999999" height="82.6"/></clipPath>
<clipPath id="cp02"><rect x="19" y="186" width="82.9" height="82.80000000000001"/></clipPath>
<clipPath id="cp12"><rect x="105.3" y="186" width="82.8" height="82.80000000000001"/></clipPath>
<clipPath id="cp22"><rect x="191.3" y="186" width="82.69999999999999" height="82.80000000000001"/></clipPath>
<filter id="gr00" x="0" y="0" width="100%" height="100%" color-interpolation-filters="sRGB"><feGaussianBlur in="SourceGraphic" stdDeviation="0.45" result="b"/><feTurbulence type="fractalNoise" baseFrequency="0.6" numOctaves="2" seed="1" result="t"/><feColorMatrix in="t" type="matrix" values="1 0 0 0 0  1 0 0 0 0  1 0 0 0 0  0 0 0 0 1" result="n"/><feComposite in="b" in2="n" operator="arithmetic" k1="0" k2="1" k3="0.18" k4="-0.09"/></filter>
<filter id="gr10" x="0" y="0" width="100%" height="100%" color-interpolation-filters="sRGB"><feGaussianBlur in="SourceGraphic" stdDeviation="0.45" result="b"/><feTurbulence type="fractalNoise" baseFrequency="0.6" numOctaves="2" seed="11" result="t"/><feColorMatrix in="t" type="matrix" values="1 0 0 0 0  1 0 0 0 0  1 0 0 0 0  0 0 0 0 1" result="n"/><feComposite in="b" in2="n" operator="arithmetic" k1="0" k2="1" k3="0.18" k4="-0.09"/></filter>
<filter id="gr20" x="0" y="0" width="100%" height="100%" color-interpolation-filters="sRGB"><feGaussianBlur in="SourceGraphic" stdDeviation="0.45" result="b"/><feTurbulence type="fractalNoise" baseFrequency="0.6" numOctaves="2" seed="21" result="t"/><feColorMatrix in="t" type="matrix" values="1 0 0 0 0  1 0 0 0 0  1 0 0 0 0  0 0 0 0 1" result="n"/><feComposite in="b" in2="n" operator="arithmetic" k1="0" k2="1" k3="0.18" k4="-0.09"/></filter>
<filter id="gr01" x="0" y="0" width="100%" height="100%" color-interpolation-filters="sRGB"><feGaussianBlur in="SourceGraphic" stdDeviation="0.45" result="b"/><feTurbulence type="fractalNoise" baseFrequency="0.6" numOctaves="2" seed="2" result="t"/><feColorMatrix in="t" type="matrix" values="1 0 0 0 0  1 0 0 0 0  1 0 0 0 0  0 0 0 0 1" result="n"/><feComposite in="b" in2="n" operator="arithmetic" k1="0" k2="1" k3="0.2" k4="-0.1"/></filter>
<filter id="gr11" x="0" y="0" width="100%" height="100%" color-interpolation-filters="sRGB"><feGaussianBlur in="SourceGraphic" stdDeviation="0.45" result="b"/><feTurbulence type="fractalNoise" baseFrequency="0.6" numOctaves="2" seed="12" result="t"/><feColorMatrix in="t" type="matrix" values="1 0 0 0 0  1 0 0 0 0  1 0 0 0 0  0 0 0 0 1" result="n"/><feComposite in="b" in2="n" operator="arithmetic" k1="0" k2="1" k3="0.2" k4="-0.1"/></filter>
<filter id="gr21" x="0" y="0" width="100%" height="100%" color-interpolation-filters="sRGB"><feGaussianBlur in="SourceGraphic" stdDeviation="0.45" result="b"/><feTurbulence type="fractalNoise" baseFrequency="0.6" numOctaves="2" seed="22" result="t"/><feColorMatrix in="t" type="matrix" values="1 0 0 0 0  1 0 0 0 0  1 0 0 0 0  0 0 0 0 1" result="n"/><feComposite in="b" in2="n" operator="arithmetic" k1="0" k2="1" k3="0.2" k4="-0.1"/></filter>
<filter id="gr02" x="0" y="0" width="100%" height="100%" color-interpolation-filters="sRGB"><feGaussianBlur in="SourceGraphic" stdDeviation="0.45" result="b"/><feTurbulence type="fractalNoise" baseFrequency="0.45" numOctaves="2" seed="3" result="t"/><feColorMatrix in="t" type="matrix" values="1 0 0 0 0  1 0 0 0 0  1 0 0 0 0  0 0 0 0 1" result="n"/><feComposite in="b" in2="n" operator="arithmetic" k1="0" k2="1" k3="0.55" k4="-0.275"/></filter>
<filter id="gr12" x="0" y="0" width="100%" height="100%" color-interpolation-filters="sRGB"><feGaussianBlur in="SourceGraphic" stdDeviation="0.45" result="b"/><feTurbulence type="fractalNoise" baseFrequency="0.45" numOctaves="2" seed="13" result="t"/><feColorMatrix in="t" type="matrix" values="1 0 0 0 0  1 0 0 0 0  1 0 0 0 0  0 0 0 0 1" result="n"/><feComposite in="b" in2="n" operator="arithmetic" k1="0" k2="1" k3="0.55" k4="-0.275"/></filter>
<filter id="gr22" x="0" y="0" width="100%" height="100%" color-interpolation-filters="sRGB"><feGaussianBlur in="SourceGraphic" stdDeviation="0.45" result="b"/><feTurbulence type="fractalNoise" baseFrequency="0.45" numOctaves="2" seed="23" result="t"/><feColorMatrix in="t" type="matrix" values="1 0 0 0 0  1 0 0 0 0  1 0 0 0 0  0 0 0 0 1" result="n"/><feComposite in="b" in2="n" operator="arithmetic" k1="0" k2="1" k3="0.55" k4="-0.275"/></filter>
<filter id="soft" x="-5%" y="-5%" width="110%" height="110%"><feGaussianBlur stdDeviation="0.45"/></filter>
</defs>
<g clip-path="url(#cp00)"><g filter="url(#gr00)"><g transform="translate(18 13) scale(0.165371)">
<rect x="0" y="0" width="520" height="520" fill="#d3d3d3"/>
<circle cx="50" cy="50" r="24.64" fill="#3e3e3e" stroke="#1e1e1e" stroke-width="7"/>
<circle cx="140" cy="45" r="26.4" fill="#3e3e3e" stroke="#1e1e1e" stroke-width="7"/>
<circle cx="250" cy="25" r="26.4" fill="#3e3e3e" stroke="#1e1e1e" stroke-width="7"/>
<circle cx="335" cy="70" r="28.16" fill="#3e3e3e" stroke="#1e1e1e" stroke-width="7"/>
<circle cx="400" cy="40" r="17.6" fill="#3e3e3e" stroke="#1e1e1e" stroke-width="7"/>
<circle cx="455" cy="90" r="30.8" fill="#3e3e3e" stroke="#1e1e1e" stroke-width="7"/>
<circle cx="68" cy="95" r="13.2" fill="#3e3e3e" stroke="#1e1e1e" stroke-width="7"/>
<circle cx="185" cy="125" r="26.4" fill="#3e3e3e" stroke="#1e1e1e" stroke-width="7"/>
<circle cx="380" cy="115" r="26.4" fill="#3e3e3e" stroke="#1e1e1e" stroke-width="7"/>
<circle cx="60" cy="170" r="35.2" fill="#3e3e3e" stroke="#1e1e1e" stroke-width="7"/>
<circle cx="170" cy="205" r="36.96" fill="#3e3e3e" stroke="#1e1e1e" stroke-width="7"/>
<circle cx="370" cy="160" r="13.2" fill="#3e3e3e" stroke="#1e1e1e" stroke-width="7"/>
<circle cx="440" cy="140" r="12.32" fill="#3e3e3e" stroke="#1e1e1e" stroke-width="7"/>
<circle cx="30" cy="230" r="19.36" fill="#3e3e3e" stroke="#1e1e1e" stroke-width="7"/>
<circle cx="95" cy="245" r="30.8" fill="#3e3e3e" stroke="#1e1e1e" stroke-width="7"/>
<circle cx="245" cy="240" r="26.4" fill="#3e3e3e" stroke="#1e1e1e" stroke-width="7"/>
<circle cx="325" cy="215" r="24.64" fill="#3e3e3e" stroke="#1e1e1e" stroke-width="7"/>
<circle cx="390" cy="230" r="33.44" fill="#3e3e3e" stroke="#1e1e1e" stroke-width="7"/>
<circle cx="465" cy="255" r="30.8" fill="#3e3e3e" stroke="#1e1e1e" stroke-width="7"/>
<circle cx="150" cy="295" r="17.6" fill="#3e3e3e" stroke="#1e1e1e" stroke-width="7"/>
<circle cx="220" cy="300" r="24.64" fill="#3e3e3e" stroke="#1e1e1e" stroke-width="7"/>
<circle cx="400" cy="295" r="22.0" fill="#3e3e3e" stroke="#1e1e1e" stroke-width="7"/>
<circle cx="20" cy="330" r="22.0" fill="#3e3e3e" stroke="#1e1e1e" stroke-width="7"/>
<circle cx="265" cy="345" r="24.64" fill="#3e3e3e" stroke="#1e1e1e" stroke-width="7"/>
<circle cx="335" cy="335" r="30.8" fill="#3e3e3e" stroke="#1e1e1e" stroke-width="7"/>
<circle cx="460" cy="325" r="30.8" fill="#3e3e3e" stroke="#1e1e1e" stroke-width="7"/>
<circle cx="60" cy="385" r="33.44" fill="#3e3e3e" stroke="#1e1e1e" stroke-width="7"/>
<circle cx="125" cy="360" r="22.0" fill="#3e3e3e" stroke="#1e1e1e" stroke-width="7"/>
<circle cx="195" cy="365" r="30.8" fill="#3e3e3e" stroke="#1e1e1e" stroke-width="7"/>
<circle cx="410" cy="375" r="24.64" fill="#3e3e3e" stroke="#1e1e1e" stroke-width="7"/>
<circle cx="500" cy="380" r="17.6" fill="#3e3e3e" stroke="#1e1e1e" stroke-width="7"/>
<circle cx="40" cy="455" r="26.4" fill="#3e3e3e" stroke="#1e1e1e" stroke-width="7"/>
<circle cx="130" cy="435" r="22.0" fill="#3e3e3e" stroke="#1e1e1e" stroke-width="7"/>
<circle cx="215" cy="420" r="26.4" fill="#3e3e3e" stroke="#1e1e1e" stroke-width="7"/>
<circle cx="280" cy="400" r="28.16" fill="#3e3e3e" stroke="#1e1e1e" stroke-width="7"/>
<circle cx="365" cy="425" r="35.2" fill="#3e3e3e" stroke="#1e1e1e" stroke-width="7"/>
<circle cx="460" cy="435" r="30.8" fill="#3e3e3e" stroke="#1e1e1e" stroke-width="7"/>
<circle cx="265" cy="475" r="22.0" fill="#3e3e3e" stroke="#1e1e1e" stroke-width="7"/>
<circle cx="420" cy="485" r="35.2" fill="#3e3e3e" stroke="#1e1e1e" stroke-width="7"/>
<circle cx="500" cy="20" r="13.2" fill="#3e3e3e" stroke="#1e1e1e" stroke-width="7"/>
<circle cx="470" cy="195" r="10.56" fill="#3e3e3e" stroke="#1e1e1e" stroke-width="7"/>
<circle cx="130" cy="470" r="12.32" fill="#3e3e3e" stroke="#1e1e1e" stroke-width="7"/>
<circle cx="57" cy="39" r="6" fill="#2a2a2a"/>
<circle cx="63" cy="56" r="5" fill="#5e5e5e"/>
<circle cx="49" cy="40" r="6" fill="#2a2a2a"/>
<circle cx="57" cy="46" r="5" fill="#2a2a2a"/>
<circle cx="125" cy="39" r="3" fill="#2a2a2a"/>
<circle cx="134" cy="52" r="5" fill="#5e5e5e"/>
<circle cx="149" cy="43" r="6" fill="#5e5e5e"/>
<circle cx="139" cy="60" r="6" fill="#555"/>
<circle cx="259" cy="30" r="4" fill="#555"/>
<circle cx="240" cy="21" r="3" fill="#2a2a2a"/>
<circle cx="251" cy="15" r="4" fill="#5e5e5e"/>
<circle cx="259" cy="30" r="4" fill="#2a2a2a"/>
<circle cx="339" cy="59" r="5" fill="#5e5e5e"/>
<circle cx="326" cy="75" r="5" fill="#555"/>
<circle cx="321" cy="72" r="6" fill="#2a2a2a"/>
<circle cx="338" cy="73" r="4" fill="#2a2a2a"/>
<circle cx="398" cy="31" r="5" fill="#555"/>
<circle cx="398" cy="48" r="3" fill="#5e5e5e"/>
<circle cx="408" cy="47" r="3" fill="#555"/>
<circle cx="394" cy="48" r="4" fill="#2a2a2a"/>
<circle cx="452" cy="99" r="5" fill="#2a2a2a"/>
<circle cx="454" cy="98" r="6" fill="#5e5e5e"/>
<circle cx="442" cy="78" r="5" fill="#555"/>
<circle cx="448" cy="108" r="3" fill="#2a2a2a"/>
<circle cx="72" cy="101" r="6" fill="#555"/>
<circle cx="63" cy="91" r="5" fill="#5e5e5e"/>
<circle cx="68" cy="89" r="4" fill="#5e5e5e"/>
<circle cx="67" cy="98" r="4" fill="#555"/>
<circle cx="185" cy="131" r="6" fill="#555"/>
<circle cx="184" cy="111" r="4" fill="#555"/>
<circle cx="174" cy="119" r="6" fill="#555"/>
<circle cx="181" cy="136" r="5" fill="#555"/>
<circle cx="372" cy="125" r="3" fill="#5e5e5e"/>
<circle cx="372" cy="117" r="5" fill="#2a2a2a"/>
<circle cx="391" cy="123" r="6" fill="#2a2a2a"/>
<circle cx="375" cy="104" r="6" fill="#2a2a2a"/>
<circle cx="63" cy="148" r="6" fill="#2a2a2a"/>
<circle cx="41" cy="178" r="3" fill="#555"/>
<circle cx="70" cy="190" r="4" fill="#555"/>
<circle cx="50" cy="166" r="6" fill="#555"/>
<circle cx="164" cy="214" r="5" fill="#2a2a2a"/>
<circle cx="191" cy="214" r="5" fill="#555"/>
<circle cx="172" cy="204" r="6" fill="#555"/>
<circle cx="172" cy="203" r="5" fill="#555"/>
<circle cx="371" cy="164" r="3" fill="#5e5e5e"/>
<circle cx="371" cy="167" r="5" fill="#5e5e5e"/>
<circle cx="375" cy="163" r="3" fill="#5e5e5e"/>
<circle cx="369" cy="167" r="6" fill="#5e5e5e"/>
<circle cx="438" cy="148" r="5" fill="#555"/>
<circle cx="437" cy="134" r="6" fill="#2a2a2a"/>
<circle cx="440" cy="142" r="3" fill="#555"/>
<circle cx="439" cy="138" r="4" fill="#555"/>
<circle cx="21" cy="223" r="3" fill="#2a2a2a"/>
<circle cx="31" cy="240" r="3" fill="#2a2a2a"/>
<circle cx="31" cy="223" r="4" fill="#5e5e5e"/>
<circle cx="29" cy="235" r="4" fill="#5e5e5e"/>
<circle cx="96" cy="239" r="4" fill="#5e5e5e"/>
<circle cx="106" cy="261" r="4" fill="#2a2a2a"/>
<circle cx="112" cy="252" r="4" fill="#5e5e5e"/>
<circle cx="99" cy="252" r="6" fill="#555"/>
<circle cx="231" cy="233" r="3" fill="#555"/>
<circle cx="246" cy="233" r="3" fill="#555"/>
<circle cx="248" cy="251" r="4" fill="#555"/>
<circle cx="245" cy="238" r="5" fill="#5e5e5e"/>
<circle cx="336" cy="220" r="5" fill="#2a2a2a"/>
<circle cx="310" cy="210" r="5" fill="#2a2a2a"/>
<circle cx="335" cy="214" r="6" fill="#2a2a2a"/>
<circle cx="324" cy="200" r="3" fill="#555"/>
<circle cx="379" cy="219" r="4" fill="#2a2a2a"/>
<circle cx="401" cy="237" r="6" fill="#5e5e5e"/>
<circle cx="394" cy="239" r="4" fill="#555"/>
<circle cx="408" cy="224" r="6" fill="#2a2a2a"/>
<circle cx="457" cy="239" r="6" fill="#2a2a2a"/>
<circle cx="458" cy="269" r="6" fill="#5e5e5e"/>
<circle cx="475" cy="249" r="4" fill="#2a2a2a"/>
<circle cx="469" cy="244" r="5" fill="#5e5e5e"/>
<circle cx="155" cy="291" r="3" fill="#5e5e5e"/>
<circle cx="155" cy="301" r="4" fill="#2a2a2a"/>
<circle cx="147" cy="287" r="3" fill="#555"/>
<circle cx="145" cy="293" r="4" fill="#5e5e5e"/>
<circle cx="228" cy="291" r="4" fill="#2a2a2a"/>
<circle cx="227" cy="297" r="4" fill="#2a2a2a"/>
<circle cx="212" cy="313" r="4" fill="#2a2a2a"/>
<circle cx="223" cy="285" r="6" fill="#555"/>
<circle cx="393" cy="283" r="4" fill="#555"/>
<circle cx="402" cy="299" r="5" fill="#555"/>
<circle cx="410" cy="299" r="4" fill="#555"/>
<circle cx="398" cy="300" r="4" fill="#555"/>
<circle cx="28" cy="322" r="4" fill="#555"/>
<circle cx="19" cy="328" r="5" fill="#2a2a2a"/>
<circle cx="20" cy="330" r="4" fill="#555"/>
<circle cx="20" cy="343" r="6" fill="#555"/>
<circle cx="260" cy="343" r="4" fill="#5e5e5e"/>
<circle cx="269" cy="354" r="3" fill="#5e5e5e"/>
<circle cx="268" cy="340" r="6" fill="#555"/>
<circle cx="260" cy="340" r="4" fill="#555"/>
<circle cx="318" cy="336" r="4" fill="#2a2a2a"/>
<circle cx="351" cy="342" r="3" fill="#2a2a2a"/>
<circle cx="325" cy="325" r="3" fill="#2a2a2a"/>
<circle cx="346" cy="330" r="4" fill="#555"/>
<circle cx="468" cy="315" r="5" fill="#5e5e5e"/>
<circle cx="468" cy="313" r="6" fill="#555"/>
<circle cx="479" cy="330" r="5" fill="#5e5e5e"/>
<circle cx="468" cy="325" r="6" fill="#555"/>
<circle cx="59" cy="401" r="5" fill="#5e5e5e"/>
<circle cx="53" cy="404" r="5" fill="#2a2a2a"/>
<circle cx="62" cy="378" r="3" fill="#2a2a2a"/>
<circle cx="69" cy="379" r="4" fill="#555"/>
<circle cx="122" cy="369" r="5" fill="#555"/>
<circle cx="123" cy="353" r="4" fill="#555"/>
<circle cx="132" cy="354" r="5" fill="#555"/>
<circle cx="135" cy="360" r="6" fill="#555"/>
<circle cx="212" cy="373" r="4" fill="#555"/>
<circle cx="184" cy="368" r="5" fill="#2a2a2a"/>
<circle cx="206" cy="380" r="6" fill="#555"/>
<circle cx="187" cy="382" r="6" fill="#2a2a2a"/>
<circle cx="411" cy="366" r="5" fill="#2a2a2a"/>
<circle cx="420" cy="386" r="5" fill="#5e5e5e"/>
<circle cx="410" cy="368" r="5" fill="#555"/>
<circle cx="404" cy="386" r="6" fill="#555"/>
<circle cx="505" cy="375" r="6" fill="#5e5e5e"/>
<circle cx="501" cy="384" r="5" fill="#2a2a2a"/>
<circle cx="503" cy="389" r="4" fill="#2a2a2a"/>
<circle cx="503" cy="386" r="6" fill="#555"/>
<circle cx="51" cy="467" r="6" fill="#5e5e5e"/>
<circle cx="31" cy="465" r="5" fill="#2a2a2a"/>
<circle cx="37" cy="464" r="5" fill="#5e5e5e"/>
<circle cx="49" cy="448" r="5" fill="#555"/>
<circle cx="124" cy="427" r="3" fill="#2a2a2a"/>
<circle cx="120" cy="425" r="6" fill="#2a2a2a"/>
<circle cx="123" cy="431" r="3" fill="#555"/>
<circle cx="123" cy="434" r="5" fill="#555"/>
<circle cx="221" cy="424" r="5" fill="#2a2a2a"/>
<circle cx="217" cy="406" r="3" fill="#555"/>
<circle cx="222" cy="427" r="3" fill="#5e5e5e"/>
<circle cx="206" cy="424" r="5" fill="#5e5e5e"/>
<circle cx="274" cy="413" r="6" fill="#2a2a2a"/>
<circle cx="280" cy="399" r="6" fill="#555"/>
<circle cx="297" cy="394" r="4" fill="#555"/>
<circle cx="271" cy="396" r="5" fill="#2a2a2a"/>
<circle cx="358" cy="426" r="3" fill="#555"/>
<circle cx="346" cy="414" r="3" fill="#555"/>
<circle cx="350" cy="410" r="5" fill="#2a2a2a"/>
<circle cx="362" cy="445" r="3" fill="#5e5e5e"/>
<circle cx="467" cy="435" r="5" fill="#555"/>
<circle cx="455" cy="421" r="5" fill="#5e5e5e"/>
<circle cx="446" cy="443" r="5" fill="#5e5e5e"/>
<circle cx="477" cy="441" r="4" fill="#555"/>
<circle cx="269" cy="487" r="6" fill="#2a2a2a"/>
<circle cx="272" cy="487" r="4" fill="#5e5e5e"/>
<circle cx="271" cy="474" r="3" fill="#5e5e5e"/>
<circle cx="268" cy="471" r="4" fill="#555"/>
<circle cx="430" cy="465" r="3" fill="#555"/>
<circle cx="402" cy="488" r="5" fill="#555"/>
<circle cx="405" cy="475" r="3" fill="#2a2a2a"/>
<circle cx="410" cy="494" r="6" fill="#555"/>
<circle cx="492" cy="18" r="3" fill="#5e5e5e"/>
<circle cx="496" cy="16" r="5" fill="#5e5e5e"/>
<circle cx="508" cy="21" r="3" fill="#555"/>
<circle cx="496" cy="26" r="4" fill="#5e5e5e"/>
<circle cx="476" cy="192" r="5" fill="#5e5e5e"/>
<circle cx="467" cy="197" r="6" fill="#5e5e5e"/>
<circle cx="465" cy="195" r="4" fill="#5e5e5e"/>
<circle cx="474" cy="199" r="3" fill="#5e5e5e"/>
<circle cx="133" cy="474" r="4" fill="#5e5e5e"/>
<circle cx="132" cy="476" r="6" fill="#5e5e5e"/>
<circle cx="126" cy="466" r="4" fill="#555"/>
<circle cx="126" cy="476" r="6" fill="#555"/>
<circle cx="270" cy="155" r="42" fill="#6a6a6a" stroke="#505050" stroke-width="6"/>
<circle cx="270" cy="150" r="20" fill="#5a5a5a"/>
<circle cx="185" cy="70" r="8" fill="#6a6a6a"/>
<circle cx="265" cy="75" r="8" fill="#6a6a6a"/>
<circle cx="400" cy="185" r="6" fill="#6a6a6a"/>
<circle cx="150" cy="455" r="8" fill="#6a6a6a"/>
<circle cx="175" cy="320" r="6" fill="#6a6a6a"/>
<rect x="285" y="488" width="45" height="6" fill="#222"/>
</g></g>
</g>
<rect x="19.70" y="14.70" width="81.50" height="81.20" fill="none" stroke="#1e1e1e" stroke-width="1.4"/>
<g clip-path="url(#cp10)"><g filter="url(#gr10)"><g transform="translate(103 13) scale(0.165371)">
<rect x="0" y="0" width="520" height="520" fill="#b0b0b0"/>
<ellipse cx="465" cy="360" rx="60" ry="70" fill="#bdbdbd"/>
<ellipse cx="45" cy="25" rx="25" ry="18" fill="#3c3c3c" stroke="#1e1e1e" stroke-width="6"/>
<ellipse cx="145" cy="65" rx="30" ry="25" fill="#3c3c3c" stroke="#1e1e1e" stroke-width="6"/>
<ellipse cx="210" cy="70" rx="30" ry="25" fill="#3c3c3c" stroke="#1e1e1e" stroke-width="6"/>
<ellipse cx="290" cy="70" rx="33" ry="25" fill="#3c3c3c" stroke="#1e1e1e" stroke-width="6"/>
<ellipse cx="360" cy="60" rx="28" ry="25" fill="#3c3c3c" stroke="#1e1e1e" stroke-width="6"/>
<ellipse cx="425" cy="65" rx="30" ry="25" fill="#3c3c3c" stroke="#1e1e1e" stroke-width="6"/>
<ellipse cx="480" cy="35" rx="22" ry="18" fill="#3c3c3c" stroke="#1e1e1e" stroke-width="6"/>
<ellipse cx="25" cy="145" rx="18" ry="28" fill="#3c3c3c" stroke="#1e1e1e" stroke-width="6"/>
<ellipse cx="120" cy="120" rx="40" ry="33" fill="#3c3c3c" stroke="#1e1e1e" stroke-width="6"/>
<ellipse cx="205" cy="120" rx="25" ry="20" fill="#3c3c3c" stroke="#1e1e1e" stroke-width="6"/>
<ellipse cx="270" cy="110" rx="18" ry="15" fill="#3c3c3c" stroke="#1e1e1e" stroke-width="6"/>
<ellipse cx="300" cy="135" rx="18" ry="15" fill="#3c3c3c" stroke="#1e1e1e" stroke-width="6"/>
<ellipse cx="395" cy="115" rx="32" ry="28" fill="#3c3c3c" stroke="#1e1e1e" stroke-width="6"/>
<ellipse cx="440" cy="150" rx="32" ry="28" fill="#3c3c3c" stroke="#1e1e1e" stroke-width="6"/>
<ellipse cx="490" cy="110" rx="15" ry="20" fill="#3c3c3c" stroke="#1e1e1e" stroke-width="6"/>
<ellipse cx="95" cy="185" rx="30" ry="18" fill="#3c3c3c" stroke="#1e1e1e" stroke-width="6"/>
<ellipse cx="205" cy="180" rx="33" ry="28" fill="#3c3c3c" stroke="#1e1e1e" stroke-width="6"/>
<ellipse cx="265" cy="205" rx="28" ry="28" fill="#3c3c3c" stroke="#1e1e1e" stroke-width="6"/>
<ellipse cx="355" cy="180" rx="33" ry="28" fill="#3c3c3c" stroke="#1e1e1e" stroke-width="6"/>
<ellipse cx="325" cy="235" rx="45" ry="25" fill="#3c3c3c" stroke="#1e1e1e" stroke-width="6"/>
<ellipse cx="395" cy="230" rx="15" ry="12" fill="#3c3c3c" stroke="#1e1e1e" stroke-width="6"/>
<ellipse cx="455" cy="230" rx="40" ry="30" fill="#3c3c3c" stroke="#1e1e1e" stroke-width="6"/>
<ellipse cx="65" cy="255" rx="32" ry="28" fill="#3c3c3c" stroke="#1e1e1e" stroke-width="6"/>
<ellipse cx="140" cy="245" rx="38" ry="28" fill="#3c3c3c" stroke="#1e1e1e" stroke-width="6"/>
<ellipse cx="25" cy="290" rx="18" ry="25" fill="#3c3c3c" stroke="#1e1e1e" stroke-width="6"/>
<ellipse cx="205" cy="295" rx="30" ry="28" fill="#3c3c3c" stroke="#1e1e1e" stroke-width="6"/>
<ellipse cx="295" cy="285" rx="38" ry="25" fill="#3c3c3c" stroke="#1e1e1e" stroke-width="6"/>
<ellipse cx="370" cy="290" rx="28" ry="25" fill="#3c3c3c" stroke="#1e1e1e" stroke-width="6"/>
<ellipse cx="430" cy="265" rx="14" ry="12" fill="#3c3c3c" stroke="#1e1e1e" stroke-width="6"/>
<ellipse cx="65" cy="325" rx="30" ry="25" fill="#3c3c3c" stroke="#1e1e1e" stroke-width="6"/>
<ellipse cx="135" cy="335" rx="35" ry="28" fill="#3c3c3c" stroke="#1e1e1e" stroke-width="6"/>
<ellipse cx="295" cy="340" rx="38" ry="28" fill="#3c3c3c" stroke="#1e1e1e" stroke-width="6"/>
<ellipse cx="190" cy="370" rx="28" ry="22" fill="#3c3c3c" stroke="#1e1e1e" stroke-width="6"/>
<ellipse cx="245" cy="375" rx="25" ry="20" fill="#3c3c3c" stroke="#1e1e1e" stroke-width="6"/>
<ellipse cx="390" cy="370" rx="22" ry="20" fill="#3c3c3c" stroke="#1e1e1e" stroke-width="6"/>
<ellipse cx="90" cy="380" rx="35" ry="25" fill="#3c3c3c" stroke="#1e1e1e" stroke-width="6"/>
<ellipse cx="45" cy="430" rx="40" ry="35" fill="#3c3c3c" stroke="#1e1e1e" stroke-width="6"/>
<ellipse cx="140" cy="435" rx="33" ry="30" fill="#3c3c3c" stroke="#1e1e1e" stroke-width="6"/>
<ellipse cx="210" cy="455" rx="32" ry="28" fill="#3c3c3c" stroke="#1e1e1e" stroke-width="6"/>
<ellipse cx="280" cy="455" rx="25" ry="22" fill="#3c3c3c" stroke="#1e1e1e" stroke-width="6"/>
<ellipse cx="320" cy="410" rx="22" ry="18" fill="#3c3c3c" stroke="#1e1e1e" stroke-width="6"/>
<ellipse cx="375" cy="415" rx="30" ry="25" fill="#3c3c3c" stroke="#1e1e1e" stroke-width="6"/>
<ellipse cx="340" cy="460" rx="30" ry="25" fill="#3c3c3c" stroke="#1e1e1e" stroke-width="6"/>
<ellipse cx="430" cy="425" rx="15" ry="12" fill="#3c3c3c" stroke="#1e1e1e" stroke-width="6"/>
<ellipse cx="470" cy="470" rx="25" ry="22" fill="#3c3c3c" stroke="#1e1e1e" stroke-width="6"/>
<ellipse cx="140" cy="492" rx="25" ry="15" fill="#3c3c3c" stroke="#1e1e1e" stroke-width="6"/>
<ellipse cx="40" cy="492" rx="25" ry="15" fill="#3c3c3c" stroke="#1e1e1e" stroke-width="6"/>
<ellipse cx="250" cy="20" rx="18" ry="12" fill="#3c3c3c" stroke="#1e1e1e" stroke-width="6"/>
<ellipse cx="340" cy="18" rx="18" ry="12" fill="#3c3c3c" stroke="#1e1e1e" stroke-width="6"/>
<circle cx="33" cy="24" r="5" fill="#606060"/>
<circle cx="41" cy="21" r="5" fill="#555"/>
<circle cx="46" cy="14" r="4" fill="#555"/>
<circle cx="51" cy="29" r="4" fill="#555"/>
<circle cx="148" cy="54" r="6" fill="#2a2a2a"/>
<circle cx="144" cy="71" r="4" fill="#555"/>
<circle cx="163" cy="64" r="5" fill="#2a2a2a"/>
<circle cx="156" cy="60" r="4" fill="#2a2a2a"/>
<circle cx="195" cy="74" r="4" fill="#606060"/>
<circle cx="217" cy="59" r="4" fill="#2a2a2a"/>
<circle cx="213" cy="54" r="5" fill="#606060"/>
<circle cx="220" cy="83" r="4" fill="#2a2a2a"/>
<circle cx="312" cy="68" r="5" fill="#606060"/>
<circle cx="305" cy="77" r="6" fill="#606060"/>
<circle cx="273" cy="66" r="6" fill="#606060"/>
<circle cx="277" cy="81" r="3" fill="#555"/>
<circle cx="369" cy="50" r="4" fill="#606060"/>
<circle cx="345" cy="71" r="6" fill="#555"/>
<circle cx="366" cy="54" r="5" fill="#555"/>
<circle cx="363" cy="56" r="4" fill="#606060"/>
<circle cx="441" cy="60" r="5" fill="#555"/>
<circle cx="417" cy="74" r="4" fill="#555"/>
<circle cx="440" cy="53" r="6" fill="#555"/>
<circle cx="432" cy="60" r="4" fill="#2a2a2a"/>
<circle cx="486" cy="45" r="3" fill="#606060"/>
<circle cx="489" cy="43" r="4" fill="#2a2a2a"/>
<circle cx="476" cy="34" r="5" fill="#606060"/>
<circle cx="471" cy="34" r="5" fill="#606060"/>
<circle cx="19" cy="148" r="6" fill="#606060"/>
<circle cx="23" cy="155" r="6" fill="#2a2a2a"/>
<circle cx="19" cy="149" r="5" fill="#2a2a2a"/>
<circle cx="34" cy="133" r="6" fill="#555"/>
<circle cx="99" cy="135" r="6" fill="#2a2a2a"/>
<circle cx="133" cy="114" r="6" fill="#2a2a2a"/>
<circle cx="104" cy="106" r="6" fill="#555"/>
<circle cx="123" cy="116" r="5" fill="#606060"/>
<circle cx="197" cy="119" r="5" fill="#555"/>
<circle cx="195" cy="120" r="4" fill="#606060"/>
<circle cx="190" cy="113" r="5" fill="#2a2a2a"/>
<circle cx="217" cy="111" r="6" fill="#606060"/>
<circle cx="281" cy="108" r="5" fill="#555"/>
<circle cx="268" cy="114" r="5" fill="#606060"/>
<circle cx="259" cy="108" r="4" fill="#555"/>
<circle cx="260" cy="110" r="3" fill="#2a2a2a"/>
<circle cx="308" cy="129" r="6" fill="#2a2a2a"/>
<circle cx="292" cy="133" r="5" fill="#606060"/>
<circle cx="292" cy="133" r="4" fill="#606060"/>
<circle cx="299" cy="142" r="5" fill="#2a2a2a"/>
<circle cx="394" cy="122" r="5" fill="#606060"/>
<circle cx="393" cy="112" r="5" fill="#2a2a2a"/>
<circle cx="382" cy="113" r="4" fill="#555"/>
<circle cx="405" cy="114" r="4" fill="#555"/>
<circle cx="442" cy="140" r="6" fill="#555"/>
<circle cx="431" cy="154" r="4" fill="#2a2a2a"/>
<circle cx="431" cy="144" r="4" fill="#2a2a2a"/>
<circle cx="419" cy="144" r="6" fill="#555"/>
<circle cx="485" cy="99" r="5" fill="#555"/>
<circle cx="493" cy="97" r="5" fill="#606060"/>
<circle cx="494" cy="104" r="3" fill="#2a2a2a"/>
<circle cx="487" cy="99" r="6" fill="#2a2a2a"/>
<circle cx="112" cy="177" r="3" fill="#555"/>
<circle cx="88" cy="194" r="5" fill="#2a2a2a"/>
<circle cx="102" cy="189" r="5" fill="#2a2a2a"/>
<circle cx="77" cy="186" r="3" fill="#2a2a2a"/>
<circle cx="220" cy="184" r="5" fill="#555"/>
<circle cx="217" cy="165" r="3" fill="#2a2a2a"/>
<circle cx="223" cy="177" r="6" fill="#555"/>
<circle cx="203" cy="173" r="5" fill="#2a2a2a"/>
<circle cx="255" cy="192" r="4" fill="#555"/>
<circle cx="267" cy="213" r="5" fill="#606060"/>
<circle cx="258" cy="203" r="5" fill="#555"/>
<circle cx="284" cy="202" r="3" fill="#2a2a2a"/>
<circle cx="365" cy="168" r="3" fill="#2a2a2a"/>
<circle cx="355" cy="198" r="4" fill="#606060"/>
<circle cx="339" cy="183" r="5" fill="#555"/>
<circle cx="374" cy="183" r="5" fill="#2a2a2a"/>
<circle cx="343" cy="236" r="6" fill="#606060"/>
<circle cx="341" cy="221" r="6" fill="#606060"/>
<circle cx="309" cy="246" r="4" fill="#606060"/>
<circle cx="349" cy="244" r="3" fill="#606060"/>
<circle cx="395" cy="225" r="6" fill="#606060"/>
<circle cx="400" cy="233" r="4" fill="#2a2a2a"/>
<circle cx="401" cy="225" r="4" fill="#2a2a2a"/>
<circle cx="392" cy="224" r="3" fill="#606060"/>
<circle cx="432" cy="234" r="4" fill="#555"/>
<circle cx="461" cy="231" r="6" fill="#2a2a2a"/>
<circle cx="437" cy="236" r="3" fill="#606060"/>
<circle cx="461" cy="243" r="3" fill="#2a2a2a"/>
<circle cx="65" cy="259" r="4" fill="#555"/>
<circle cx="75" cy="265" r="4" fill="#606060"/>
<circle cx="75" cy="259" r="3" fill="#2a2a2a"/>
<circle cx="75" cy="245" r="4" fill="#606060"/>
<circle cx="135" cy="230" r="6" fill="#555"/>
<circle cx="134" cy="247" r="4" fill="#555"/>
<circle cx="122" cy="239" r="4" fill="#555"/>
<circle cx="155" cy="260" r="4" fill="#555"/>
<circle cx="37" cy="292" r="4" fill="#555"/>
<circle cx="23" cy="300" r="3" fill="#555"/>
<circle cx="22" cy="283" r="4" fill="#606060"/>
<circle cx="24" cy="287" r="4" fill="#555"/>
<circle cx="222" cy="284" r="5" fill="#2a2a2a"/>
<circle cx="208" cy="283" r="3" fill="#2a2a2a"/>
<circle cx="214" cy="281" r="5" fill="#2a2a2a"/>
<circle cx="211" cy="305" r="4" fill="#2a2a2a"/>
<circle cx="299" cy="288" r="4" fill="#606060"/>
<circle cx="281" cy="291" r="6" fill="#2a2a2a"/>
<circle cx="273" cy="291" r="5" fill="#2a2a2a"/>
<circle cx="279" cy="285" r="3" fill="#2a2a2a"/>
<circle cx="352" cy="294" r="5" fill="#555"/>
<circle cx="358" cy="280" r="5" fill="#2a2a2a"/>
<circle cx="365" cy="275" r="4" fill="#606060"/>
<circle cx="378" cy="277" r="6" fill="#555"/>
<circle cx="430" cy="259" r="3" fill="#555"/>
<circle cx="426" cy="266" r="5" fill="#606060"/>
<circle cx="434" cy="266" r="3" fill="#555"/>
<circle cx="433" cy="272" r="6" fill="#606060"/>
<circle cx="69" cy="335" r="4" fill="#606060"/>
<circle cx="84" cy="330" r="4" fill="#555"/>
<circle cx="49" cy="327" r="3" fill="#2a2a2a"/>
<circle cx="68" cy="335" r="3" fill="#606060"/>
<circle cx="136" cy="326" r="5" fill="#2a2a2a"/>
<circle cx="122" cy="329" r="6" fill="#606060"/>
<circle cx="146" cy="337" r="6" fill="#555"/>
<circle cx="118" cy="341" r="4" fill="#2a2a2a"/>
<circle cx="285" cy="351" r="3" fill="#2a2a2a"/>
<circle cx="275" cy="343" r="6" fill="#606060"/>
<circle cx="278" cy="348" r="5" fill="#606060"/>
<circle cx="297" cy="349" r="6" fill="#606060"/>
<circle cx="187" cy="367" r="6" fill="#555"/>
<circle cx="182" cy="381" r="6" fill="#606060"/>
<circle cx="181" cy="379" r="4" fill="#606060"/>
<circle cx="196" cy="384" r="4" fill="#606060"/>
<circle cx="245" cy="375" r="5" fill="#2a2a2a"/>
<circle cx="258" cy="380" r="5" fill="#555"/>
<circle cx="254" cy="385" r="5" fill="#2a2a2a"/>
<circle cx="241" cy="373" r="3" fill="#555"/>
<circle cx="390" cy="362" r="6" fill="#606060"/>
<circle cx="398" cy="379" r="3" fill="#2a2a2a"/>
<circle cx="378" cy="367" r="4" fill="#555"/>
<circle cx="398" cy="378" r="4" fill="#555"/>
<circle cx="98" cy="384" r="5" fill="#2a2a2a"/>
<circle cx="80" cy="387" r="4" fill="#555"/>
<circle cx="95" cy="368" r="5" fill="#2a2a2a"/>
<circle cx="82" cy="373" r="5" fill="#2a2a2a"/>
<circle cx="49" cy="431" r="4" fill="#555"/>
<circle cx="41" cy="412" r="5" fill="#555"/>
<circle cx="51" cy="415" r="6" fill="#606060"/>
<circle cx="61" cy="436" r="4" fill="#606060"/>
<circle cx="120" cy="431" r="6" fill="#555"/>
<circle cx="139" cy="414" r="4" fill="#606060"/>
<circle cx="132" cy="431" r="5" fill="#2a2a2a"/>
<circle cx="123" cy="432" r="5" fill="#555"/>
<circle cx="196" cy="453" r="5" fill="#555"/>
<circle cx="211" cy="446" r="4" fill="#2a2a2a"/>
<circle cx="195" cy="465" r="5" fill="#555"/>
<circle cx="209" cy="471" r="5" fill="#555"/>
<circle cx="281" cy="467" r="6" fill="#606060"/>
<circle cx="273" cy="467" r="3" fill="#2a2a2a"/>
<circle cx="289" cy="450" r="6" fill="#555"/>
<circle cx="284" cy="464" r="6" fill="#555"/>
<circle cx="328" cy="400" r="4" fill="#606060"/>
<circle cx="327" cy="415" r="4" fill="#606060"/>
<circle cx="310" cy="415" r="6" fill="#2a2a2a"/>
<circle cx="314" cy="399" r="4" fill="#606060"/>
<circle cx="376" cy="399" r="5" fill="#555"/>
<circle cx="378" cy="414" r="6" fill="#606060"/>
<circle cx="378" cy="421" r="6" fill="#2a2a2a"/>
<circle cx="364" cy="416" r="5" fill="#2a2a2a"/>
<circle cx="343" cy="466" r="4" fill="#2a2a2a"/>
<circle cx="331" cy="455" r="5" fill="#555"/>
<circle cx="342" cy="473" r="5" fill="#555"/>
<circle cx="339" cy="475" r="5" fill="#606060"/>
<circle cx="425" cy="429" r="4" fill="#606060"/>
<circle cx="426" cy="424" r="4" fill="#2a2a2a"/>
<circle cx="440" cy="427" r="3" fill="#2a2a2a"/>
<circle cx="429" cy="424" r="3" fill="#606060"/>
<circle cx="468" cy="469" r="6" fill="#606060"/>
<circle cx="458" cy="467" r="5" fill="#2a2a2a"/>
<circle cx="473" cy="469" r="3" fill="#2a2a2a"/>
<circle cx="461" cy="470" r="4" fill="#2a2a2a"/>
<circle cx="153" cy="498" r="6" fill="#555"/>
<circle cx="138" cy="495" r="5" fill="#606060"/>
<circle cx="147" cy="501" r="6" fill="#2a2a2a"/>
<circle cx="142" cy="487" r="4" fill="#555"/>
<circle cx="27" cy="495" r="5" fill="#555"/>
<circle cx="28" cy="487" r="3" fill="#555"/>
<circle cx="30" cy="495" r="4" fill="#606060"/>
<circle cx="47" cy="490" r="6" fill="#2a2a2a"/>
<circle cx="253" cy="14" r="6" fill="#2a2a2a"/>
<circle cx="253" cy="15" r="6" fill="#2a2a2a"/>
<circle cx="248" cy="19" r="3" fill="#2a2a2a"/>
<circle cx="239" cy="19" r="4" fill="#2a2a2a"/>
<circle cx="338" cy="20" r="6" fill="#555"/>
<circle cx="349" cy="16" r="4" fill="#2a2a2a"/>
<circle cx="330" cy="18" r="3" fill="#2a2a2a"/>
<circle cx="352" cy="19" r="5" fill="#555"/>
<ellipse cx="75" cy="60" rx="28" ry="25" fill="#6a6a6a" stroke="#444" stroke-width="5"/>
<ellipse cx="460" cy="305" rx="32" ry="28" fill="#6e6e6e" stroke="#444" stroke-width="5"/>
<rect x="350" y="488" width="100" height="6" fill="#111"/>
</g></g>
</g>
<rect x="106.00" y="14.70" width="81.40" height="81.20" fill="none" stroke="#1e1e1e" stroke-width="1.4"/>
<g clip-path="url(#cp20)"><g filter="url(#gr20)"><g transform="translate(189 13) scale(0.165371)">
<rect x="0" y="0" width="520" height="520" fill="#c8c8c8"/>
<circle cx="40" cy="75" r="25.2" fill="#676767" stroke="#383838" stroke-width="6"/>
<circle cx="105" cy="60" r="27.0" fill="#676767" stroke="#383838" stroke-width="6"/>
<circle cx="175" cy="35" r="27.0" fill="#676767" stroke="#383838" stroke-width="6"/>
<circle cx="245" cy="70" r="27.0" fill="#676767" stroke="#383838" stroke-width="6"/>
<circle cx="395" cy="95" r="28.8" fill="#676767" stroke="#383838" stroke-width="6"/>
<circle cx="470" cy="90" r="25.2" fill="#676767" stroke="#383838" stroke-width="6"/>
<circle cx="100" cy="135" r="31.5" fill="#676767" stroke="#383838" stroke-width="6"/>
<circle cx="235" cy="140" r="29.7" fill="#676767" stroke="#383838" stroke-width="6"/>
<circle cx="295" cy="175" r="22.5" fill="#676767" stroke="#383838" stroke-width="6"/>
<circle cx="360" cy="185" r="18.0" fill="#676767" stroke="#383838" stroke-width="6"/>
<circle cx="465" cy="160" r="22.5" fill="#676767" stroke="#383838" stroke-width="6"/>
<circle cx="40" cy="210" r="22.5" fill="#676767" stroke="#383838" stroke-width="6"/>
<circle cx="120" cy="210" r="36.0" fill="#676767" stroke="#383838" stroke-width="6"/>
<circle cx="215" cy="200" r="19.8" fill="#676767" stroke="#383838" stroke-width="6"/>
<circle cx="440" cy="220" r="22.5" fill="#676767" stroke="#383838" stroke-width="6"/>
<circle cx="490" cy="240" r="18.0" fill="#676767" stroke="#383838" stroke-width="6"/>
<circle cx="55" cy="280" r="34.2" fill="#676767" stroke="#383838" stroke-width="6"/>
<circle cx="135" cy="285" r="31.5" fill="#676767" stroke="#383838" stroke-width="6"/>
<circle cx="210" cy="285" r="28.8" fill="#676767" stroke="#383838" stroke-width="6"/>
<circle cx="450" cy="290" r="22.5" fill="#676767" stroke="#383838" stroke-width="6"/>
<circle cx="335" cy="245" r="18.0" fill="#676767" stroke="#383838" stroke-width="6"/>
<circle cx="30" cy="360" r="25.2" fill="#676767" stroke="#383838" stroke-width="6"/>
<circle cx="90" cy="345" r="16.2" fill="#676767" stroke="#383838" stroke-width="6"/>
<circle cx="340" cy="350" r="13.5" fill="#676767" stroke="#383838" stroke-width="6"/>
<circle cx="400" cy="360" r="18.0" fill="#676767" stroke="#383838" stroke-width="6"/>
<circle cx="70" cy="415" r="27.0" fill="#676767" stroke="#383838" stroke-width="6"/>
<circle cx="205" cy="395" r="18.0" fill="#676767" stroke="#383838" stroke-width="6"/>
<circle cx="255" cy="385" r="22.5" fill="#676767" stroke="#383838" stroke-width="6"/>
<circle cx="470" cy="450" r="22.5" fill="#676767" stroke="#383838" stroke-width="6"/>
<circle cx="50" cy="465" r="22.5" fill="#676767" stroke="#383838" stroke-width="6"/>
<circle cx="210" cy="460" r="34.2" fill="#676767" stroke="#383838" stroke-width="6"/>
<circle cx="280" cy="465" r="18.0" fill="#676767" stroke="#383838" stroke-width="6"/>
<circle cx="120" cy="490" r="13.5" fill="#676767" stroke="#383838" stroke-width="6"/>
<circle cx="420" cy="30" r="22.5" fill="#676767" stroke="#383838" stroke-width="6"/>
<circle cx="490" cy="30" r="13.5" fill="#676767" stroke="#383838" stroke-width="6"/>
<circle cx="43" cy="70" r="3" fill="#7e7e7e"/>
<circle cx="41" cy="88" r="5" fill="#4a4a4a"/>
<circle cx="29" cy="73" r="4" fill="#4a4a4a"/>
<circle cx="44" cy="87" r="6" fill="#404040"/>
<circle cx="40" cy="75" r="5" fill="#404040"/>
<circle cx="101" cy="71" r="4" fill="#7e7e7e"/>
<circle cx="110" cy="76" r="5" fill="#4a4a4a"/>
<circle cx="103" cy="62" r="6" fill="#7e7e7e"/>
<circle cx="89" cy="66" r="5" fill="#7e7e7e"/>
<circle cx="116" cy="71" r="6" fill="#4a4a4a"/>
<circle cx="191" cy="36" r="5" fill="#7e7e7e"/>
<circle cx="171" cy="24" r="6" fill="#7e7e7e"/>
<circle cx="169" cy="51" r="3" fill="#404040"/>
<circle cx="177" cy="40" r="5" fill="#404040"/>
<circle cx="177" cy="48" r="6" fill="#7e7e7e"/>
<circle cx="246" cy="66" r="4" fill="#404040"/>
<circle cx="257" cy="61" r="5" fill="#404040"/>
<circle cx="252" cy="57" r="4" fill="#4a4a4a"/>
<circle cx="256" cy="76" r="4" fill="#4a4a4a"/>
<circle cx="235" cy="64" r="3" fill="#404040"/>
<circle cx="381" cy="92" r="6" fill="#7e7e7e"/>
<circle cx="403" cy="85" r="5" fill="#4a4a4a"/>
<circle cx="402" cy="88" r="3" fill="#7e7e7e"/>
<circle cx="393" cy="90" r="5" fill="#4a4a4a"/>
<circle cx="388" cy="105" r="4" fill="#4a4a4a"/>
<circle cx="460" cy="92" r="5" fill="#7e7e7e"/>
<circle cx="471" cy="97" r="5" fill="#4a4a4a"/>
<circle cx="460" cy="92" r="5" fill="#404040"/>
<circle cx="476" cy="89" r="5" fill="#4a4a4a"/>
<circle cx="462" cy="104" r="4" fill="#4a4a4a"/>
<circle cx="97" cy="136" r="4" fill="#404040"/>
<circle cx="88" cy="144" r="4" fill="#404040"/>
<circle cx="114" cy="137" r="5" fill="#404040"/>
<circle cx="103" cy="139" r="5" fill="#7e7e7e"/>
<circle cx="97" cy="152" r="3" fill="#7e7e7e"/>
<circle cx="240" cy="132" r="5" fill="#404040"/>
<circle cx="234" cy="132" r="5" fill="#404040"/>
<circle cx="251" cy="143" r="3" fill="#404040"/>
<circle cx="245" cy="149" r="5" fill="#404040"/>
<circle cx="242" cy="153" r="3" fill="#404040"/>
<circle cx="291" cy="184" r="4" fill="#7e7e7e"/>
<circle cx="289" cy="182" r="4" fill="#404040"/>
<circle cx="293" cy="165" r="5" fill="#4a4a4a"/>
<circle cx="284" cy="174" r="6" fill="#404040"/>
<circle cx="300" cy="174" r="5" fill="#7e7e7e"/>
<circle cx="353" cy="194" r="4" fill="#404040"/>
<circle cx="366" cy="193" r="3" fill="#404040"/>
<circle cx="371" cy="183" r="5" fill="#4a4a4a"/>
<circle cx="364" cy="189" r="5" fill="#404040"/>
<circle cx="366" cy="187" r="3" fill="#4a4a4a"/>
<circle cx="466" cy="151" r="4" fill="#7e7e7e"/>
<circle cx="461" cy="159" r="6" fill="#4a4a4a"/>
<circle cx="455" cy="154" r="3" fill="#4a4a4a"/>
<circle cx="455" cy="162" r="4" fill="#404040"/>
<circle cx="478" cy="165" r="5" fill="#7e7e7e"/>
<circle cx="49" cy="203" r="3" fill="#7e7e7e"/>
<circle cx="39" cy="221" r="4" fill="#4a4a4a"/>
<circle cx="41" cy="202" r="4" fill="#7e7e7e"/>
<circle cx="33" cy="222" r="6" fill="#4a4a4a"/>
<circle cx="42" cy="213" r="4" fill="#7e7e7e"/>
<circle cx="127" cy="217" r="3" fill="#4a4a4a"/>
<circle cx="112" cy="197" r="4" fill="#7e7e7e"/>
<circle cx="102" cy="201" r="6" fill="#4a4a4a"/>
<circle cx="133" cy="226" r="5" fill="#404040"/>
<circle cx="112" cy="201" r="3" fill="#7e7e7e"/>
<circle cx="217" cy="212" r="4" fill="#4a4a4a"/>
<circle cx="207" cy="191" r="4" fill="#4a4a4a"/>
<circle cx="214" cy="197" r="5" fill="#7e7e7e"/>
<circle cx="208" cy="200" r="5" fill="#4a4a4a"/>
<circle cx="223" cy="198" r="5" fill="#4a4a4a"/>
<circle cx="431" cy="209" r="3" fill="#404040"/>
<circle cx="434" cy="217" r="4" fill="#7e7e7e"/>
<circle cx="427" cy="224" r="3" fill="#4a4a4a"/>
<circle cx="442" cy="207" r="3" fill="#7e7e7e"/>
<circle cx="449" cy="220" r="5" fill="#4a4a4a"/>
<circle cx="488" cy="238" r="3" fill="#404040"/>
<circle cx="493" cy="230" r="5" fill="#4a4a4a"/>
<circle cx="494" cy="231" r="3" fill="#4a4a4a"/>
<circle cx="490" cy="233" r="6" fill="#4a4a4a"/>
<circle cx="498" cy="235" r="5" fill="#4a4a4a"/>
<circle cx="69" cy="294" r="4" fill="#7e7e7e"/>
<circle cx="67" cy="278" r="3" fill="#404040"/>
<circle cx="61" cy="268" r="6" fill="#4a4a4a"/>
<circle cx="42" cy="280" r="5" fill="#404040"/>
<circle cx="54" cy="277" r="5" fill="#4a4a4a"/>
<circle cx="133" cy="293" r="4" fill="#4a4a4a"/>
<circle cx="125" cy="283" r="4" fill="#404040"/>
<circle cx="126" cy="278" r="4" fill="#7e7e7e"/>
<circle cx="149" cy="279" r="5" fill="#4a4a4a"/>
<circle cx="117" cy="285" r="5" fill="#7e7e7e"/>
<circle cx="217" cy="268" r="4" fill="#7e7e7e"/>
<circle cx="197" cy="297" r="4" fill="#404040"/>
<circle cx="218" cy="280" r="5" fill="#4a4a4a"/>
<circle cx="223" cy="298" r="3" fill="#404040"/>
<circle cx="217" cy="279" r="4" fill="#4a4a4a"/>
<circle cx="458" cy="291" r="5" fill="#404040"/>
<circle cx="447" cy="277" r="5" fill="#7e7e7e"/>
<circle cx="439" cy="295" r="6" fill="#404040"/>
<circle cx="458" cy="293" r="4" fill="#404040"/>
<circle cx="459" cy="285" r="6" fill="#404040"/>
<circle cx="334" cy="248" r="4" fill="#7e7e7e"/>
<circle cx="326" cy="240" r="5" fill="#404040"/>
<circle cx="342" cy="242" r="5" fill="#404040"/>
<circle cx="341" cy="254" r="4" fill="#4a4a4a"/>
<circle cx="335" cy="234" r="6" fill="#404040"/>
<circle cx="23" cy="348" r="5" fill="#7e7e7e"/>
<circle cx="25" cy="367" r="4" fill="#404040"/>
<circle cx="29" cy="369" r="5" fill="#7e7e7e"/>
<circle cx="28" cy="344" r="5" fill="#7e7e7e"/>
<circle cx="33" cy="375" r="4" fill="#4a4a4a"/>
<circle cx="98" cy="352" r="4" fill="#4a4a4a"/>
<circle cx="84" cy="341" r="5" fill="#7e7e7e"/>
<circle cx="83" cy="346" r="5" fill="#4a4a4a"/>
<circle cx="97" cy="348" r="6" fill="#404040"/>
<circle cx="87" cy="352" r="4" fill="#404040"/>
<circle cx="344" cy="354" r="3" fill="#7e7e7e"/>
<circle cx="346" cy="349" r="4" fill="#7e7e7e"/>
<circle cx="345" cy="349" r="4" fill="#4a4a4a"/>
<circle cx="345" cy="352" r="4" fill="#404040"/>
<circle cx="339" cy="346" r="3" fill="#4a4a4a"/>
<circle cx="402" cy="365" r="6" fill="#7e7e7e"/>
<circle cx="390" cy="358" r="4" fill="#4a4a4a"/>
<circle cx="394" cy="353" r="4" fill="#7e7e7e"/>
<circle cx="392" cy="365" r="5" fill="#7e7e7e"/>
<circle cx="402" cy="367" r="6" fill="#7e7e7e"/>
<circle cx="72" cy="402" r="3" fill="#404040"/>
<circle cx="76" cy="403" r="6" fill="#4a4a4a"/>
<circle cx="61" cy="428" r="5" fill="#404040"/>
<circle cx="74" cy="428" r="6" fill="#4a4a4a"/>
<circle cx="72" cy="404" r="4" fill="#4a4a4a"/>
<circle cx="196" cy="391" r="5" fill="#7e7e7e"/>
<circle cx="195" cy="398" r="5" fill="#7e7e7e"/>
<circle cx="205" cy="387" r="4" fill="#7e7e7e"/>
<circle cx="211" cy="386" r="5" fill="#4a4a4a"/>
<circle cx="201" cy="390" r="3" fill="#7e7e7e"/>
<circle cx="266" cy="395" r="4" fill="#404040"/>
<circle cx="262" cy="374" r="4" fill="#7e7e7e"/>
<circle cx="262" cy="374" r="4" fill="#4a4a4a"/>
<circle cx="246" cy="395" r="5" fill="#4a4a4a"/>
<circle cx="247" cy="379" r="3" fill="#4a4a4a"/>
<circle cx="474" cy="457" r="4" fill="#4a4a4a"/>
<circle cx="477" cy="454" r="5" fill="#7e7e7e"/>
<circle cx="461" cy="445" r="6" fill="#7e7e7e"/>
<circle cx="480" cy="456" r="4" fill="#4a4a4a"/>
<circle cx="470" cy="448" r="6" fill="#7e7e7e"/>
<circle cx="60" cy="459" r="4" fill="#7e7e7e"/>
<circle cx="43" cy="477" r="3" fill="#4a4a4a"/>
<circle cx="59" cy="466" r="3" fill="#4a4a4a"/>
<circle cx="47" cy="456" r="6" fill="#7e7e7e"/>
<circle cx="41" cy="473" r="3" fill="#4a4a4a"/>
<circle cx="230" cy="465" r="6" fill="#7e7e7e"/>
<circle cx="213" cy="453" r="5" fill="#404040"/>
<circle cx="216" cy="474" r="3" fill="#4a4a4a"/>
<circle cx="230" cy="457" r="5" fill="#404040"/>
<circle cx="189" cy="463" r="3" fill="#4a4a4a"/>
<circle cx="288" cy="461" r="4" fill="#404040"/>
<circle cx="271" cy="464" r="5" fill="#404040"/>
<circle cx="276" cy="470" r="6" fill="#7e7e7e"/>
<circle cx="289" cy="472" r="5" fill="#404040"/>
<circle cx="289" cy="463" r="4" fill="#7e7e7e"/>
<circle cx="116" cy="491" r="5" fill="#404040"/>
<circle cx="122" cy="484" r="4" fill="#404040"/>
<circle cx="115" cy="492" r="4" fill="#4a4a4a"/>
<circle cx="120" cy="491" r="3" fill="#404040"/>
<circle cx="118" cy="494" r="6" fill="#404040"/>
<circle cx="422" cy="26" r="6" fill="#4a4a4a"/>
<circle cx="414" cy="31" r="4" fill="#4a4a4a"/>
<circle cx="433" cy="25" r="5" fill="#7e7e7e"/>
<circle cx="413" cy="27" r="4" fill="#7e7e7e"/>
<circle cx="424" cy="22" r="5" fill="#7e7e7e"/>
<circle cx="497" cy="31" r="6" fill="#7e7e7e"/>
<circle cx="484" cy="35" r="4" fill="#4a4a4a"/>
<circle cx="493" cy="26" r="6" fill="#404040"/>
<circle cx="495" cy="24" r="4" fill="#4a4a4a"/>
<circle cx="497" cy="34" r="4" fill="#7e7e7e"/>
<circle cx="310" cy="110" r="33" fill="#555" stroke="#2a2a2a" stroke-width="7"/>
<circle cx="285" cy="275" r="22" fill="#1a1a1a"/>
<circle cx="365" cy="300" r="25" fill="#1a1a1a"/>
<circle cx="410" cy="260" r="20" fill="#1a1a1a"/>
<circle cx="165" cy="340" r="22" fill="#1a1a1a"/>
<circle cx="205" cy="350" r="13" fill="#1a1a1a"/>
<circle cx="285" cy="330" r="28" fill="#1a1a1a"/>
<circle cx="460" cy="400" r="22" fill="#1a1a1a"/>
<circle cx="145" cy="395" r="28" fill="#1a1a1a"/>
<circle cx="360" cy="470" r="15" fill="#1a1a1a"/>
<circle cx="385" cy="420" r="35" fill="#d0d0d0" stroke="#444" stroke-width="8"/>
<circle cx="380" cy="430" r="15" fill="#666"/>
<g transform="translate(327 83) rotate(135)"><path d="M0,0 L-48,-26.400000000000002 L-33.599999999999994,0 L-48,26.400000000000002 Z" fill="#111"/><rect x="-79.19999999999999" y="-8.16" width="52.800000000000004" height="16.32" fill="#111"/></g>
<g transform="translate(302 248) rotate(135)"><path d="M0,0 L-48,-26.400000000000002 L-33.599999999999994,0 L-48,26.400000000000002 Z" fill="#111"/><rect x="-79.19999999999999" y="-8.16" width="52.800000000000004" height="16.32" fill="#111"/></g>
<g transform="translate(412 388) rotate(135)"><path d="M0,0 L-48,-26.400000000000002 L-33.599999999999994,0 L-48,26.400000000000002 Z" fill="#111"/><rect x="-79.19999999999999" y="-8.16" width="52.800000000000004" height="16.32" fill="#111"/></g>
<g transform="translate(160 160) rotate(180)"><path d="M0,0 L-18,-9.9 L-12.6,0 L-18,9.9 Z" fill="#111"/><rect x="-29.7" y="-3.06" width="19.8" height="6.12" fill="#111"/></g>
<rect x="300" y="490" width="170" height="6" fill="#111"/>
</g></g>
</g>
<rect x="192.00" y="14.70" width="81.30" height="81.20" fill="none" stroke="#1e1e1e" stroke-width="1.4"/>
<g clip-path="url(#cp01)"><g filter="url(#gr01)"><g transform="translate(18 97) scale(0.165371)">
<rect x="0" y="0" width="520" height="520" fill="#c3c3c3"/>
<path d="M195,15 L440,15 Q450,40 430,70 Q400,105 330,112 Q260,108 230,95 Q200,75 195,15 Z" fill="#454545"/>
<circle cx="310" cy="60" r="9" fill="#666"/>
<circle cx="309" cy="83" r="5" fill="#333"/>
<circle cx="315" cy="64" r="5" fill="#666"/>
<circle cx="277" cy="22" r="8" fill="#333"/>
<circle cx="350" cy="63" r="6" fill="#666"/>
<circle cx="354" cy="64" r="5" fill="#2a2a2a"/>
<circle cx="342" cy="77" r="6" fill="#333"/>
<circle cx="395" cy="57" r="7" fill="#666"/>
<circle cx="354" cy="48" r="7" fill="#2a2a2a"/>
<circle cx="366" cy="40" r="5" fill="#666"/>
<circle cx="217" cy="60" r="5" fill="#2a2a2a"/>
<circle cx="396" cy="46" r="9" fill="#333"/>
<circle cx="410" cy="53" r="9" fill="#666"/>
<circle cx="302" cy="60" r="5" fill="#333"/>
<circle cx="269" cy="22" r="6" fill="#666"/>
<circle cx="377" cy="24" r="5" fill="#2a2a2a"/>
<circle cx="212" cy="52" r="6" fill="#333"/>
<circle cx="333" cy="51" r="5" fill="#333"/>
<circle cx="379" cy="49" r="6" fill="#666"/>
<circle cx="303" cy="32" r="5" fill="#333"/>
<circle cx="277" cy="86" r="5" fill="#666"/>
<circle cx="337" cy="18" r="5" fill="#666"/>
<circle cx="267" cy="77" r="6" fill="#666"/>
<circle cx="295" cy="21" r="5" fill="#333"/>
<circle cx="263" cy="63" r="6" fill="#666"/>
<circle cx="238" cy="62" r="8" fill="#2a2a2a"/>
<circle cx="401" cy="30" r="5" fill="#2a2a2a"/>
<circle cx="390" cy="35" r="5" fill="#333"/>
<circle cx="348" cy="59" r="7" fill="#666"/>
<circle cx="404" cy="63" r="6" fill="#2a2a2a"/>
<circle cx="234" cy="56" r="5" fill="#333"/>
<circle cx="365" cy="36" r="8" fill="#333"/>
<circle cx="318" cy="57" r="9" fill="#2a2a2a"/>
<circle cx="238" cy="53" r="7" fill="#333"/>
<circle cx="345" cy="37" r="9" fill="#2a2a2a"/>
<circle cx="375" cy="21" r="6" fill="#2a2a2a"/>
<circle cx="291" cy="61" r="5" fill="#666"/>
<circle cx="240" cy="51" r="6" fill="#333"/>
<circle cx="362" cy="62" r="5" fill="#2a2a2a"/>
<circle cx="413" cy="53" r="6" fill="#666"/>
<circle cx="350" cy="54" r="8" fill="#666"/>
<circle cx="310" cy="44" r="4" fill="#333"/>
<circle cx="372" cy="25" r="9" fill="#666"/>
<circle cx="287" cy="70" r="9" fill="#666"/>
<circle cx="320" cy="16" r="7" fill="#666"/>
<circle cx="338" cy="64" r="4" fill="#333"/>
<circle cx="235" cy="36" r="6" fill="#666"/>
<circle cx="295" cy="74" r="7" fill="#666"/>
<circle cx="312" cy="58" r="7" fill="#333"/>
<circle cx="217" cy="63" r="6" fill="#2a2a2a"/>
<circle cx="382" cy="68" r="6" fill="#2a2a2a"/>
<circle cx="291" cy="26" r="7" fill="#333"/>
<circle cx="355" cy="50" r="8" fill="#666"/>
<circle cx="299" cy="35" r="7" fill="#2a2a2a"/>
<circle cx="404" cy="46" r="7" fill="#666"/>
<circle cx="256" cy="26" r="6" fill="#2a2a2a"/>
<circle cx="366" cy="91" r="5" fill="#2a2a2a"/>
<circle cx="235" cy="53" r="9" fill="#666"/>
<circle cx="294" cy="57" r="7" fill="#333"/>
<circle cx="310" cy="21" r="4" fill="#333"/>
<circle cx="245" cy="100" r="25" fill="#dadada"/>
<ellipse cx="227" cy="281" rx="163" ry="151" fill="#484848" stroke="#262626" stroke-width="12"/>
<ellipse cx="150" cy="330" rx="90" ry="100" fill="#3e3e3e"/>
<ellipse cx="305" cy="330" rx="62" ry="58" fill="#606060"/>
<ellipse cx="200" cy="185" rx="70" ry="45" fill="#5a5a5a"/>
<circle cx="219" cy="325" r="7" fill="#262626"/>
<circle cx="222" cy="321" r="6" fill="#3a3a3a"/>
<circle cx="264" cy="415" r="6" fill="#333"/>
<circle cx="283" cy="235" r="6" fill="#262626"/>
<circle cx="352" cy="283" r="4" fill="#333"/>
<circle cx="204" cy="179" r="6" fill="#3a3a3a"/>
<circle cx="244" cy="414" r="8" fill="#3a3a3a"/>
<circle cx="128" cy="369" r="6" fill="#333"/>
<circle cx="277" cy="272" r="7" fill="#3a3a3a"/>
<circle cx="276" cy="241" r="6" fill="#3a3a3a"/>
<circle cx="193" cy="228" r="5" fill="#333"/>
<circle cx="186" cy="284" r="8" fill="#3a3a3a"/>
<circle cx="131" cy="248" r="8" fill="#262626"/>
<circle cx="233" cy="203" r="6" fill="#333"/>
<circle cx="138" cy="311" r="8" fill="#262626"/>
<circle cx="130" cy="336" r="4" fill="#333"/>
<circle cx="226" cy="310" r="8" fill="#3a3a3a"/>
<circle cx="215" cy="199" r="5" fill="#333"/>
<circle cx="286" cy="381" r="5" fill="#262626"/>
<circle cx="216" cy="295" r="5" fill="#3a3a3a"/>
<circle cx="143" cy="311" r="9" fill="#333"/>
<circle cx="131" cy="364" r="7" fill="#262626"/>
<circle cx="263" cy="416" r="9" fill="#3a3a3a"/>
<circle cx="342" cy="328" r="5" fill="#262626"/>
<circle cx="146" cy="289" r="6" fill="#3a3a3a"/>
<circle cx="183" cy="333" r="6" fill="#3a3a3a"/>
<circle cx="126" cy="223" r="8" fill="#333"/>
<circle cx="176" cy="382" r="7" fill="#333"/>
<circle cx="288" cy="201" r="5" fill="#333"/>
<circle cx="85" cy="297" r="5" fill="#262626"/>
<circle cx="149" cy="263" r="9" fill="#3a3a3a"/>
<circle cx="248" cy="342" r="9" fill="#333"/>
<circle cx="305" cy="258" r="7" fill="#333"/>
<circle cx="314" cy="303" r="6" fill="#333"/>
<circle cx="268" cy="249" r="5" fill="#3a3a3a"/>
<circle cx="290" cy="394" r="8" fill="#262626"/>
<circle cx="350" cy="291" r="8" fill="#333"/>
<circle cx="315" cy="340" r="5" fill="#333"/>
<circle cx="357" cy="334" r="7" fill="#3a3a3a"/>
<circle cx="260" cy="200" r="7" fill="#3a3a3a"/>
<circle cx="195" cy="210" r="6" fill="#333"/>
<circle cx="102" cy="234" r="7" fill="#3a3a3a"/>
<circle cx="171" cy="336" r="8" fill="#3a3a3a"/>
<circle cx="268" cy="263" r="5" fill="#262626"/>
<circle cx="223" cy="265" r="5" fill="#3a3a3a"/>
<circle cx="255" cy="269" r="8" fill="#262626"/>
<circle cx="185" cy="219" r="5" fill="#333"/>
<circle cx="166" cy="286" r="5" fill="#3a3a3a"/>
<circle cx="177" cy="281" r="6" fill="#3a3a3a"/>
<circle cx="330" cy="211" r="6" fill="#262626"/>
<circle cx="327" cy="205" r="7" fill="#333"/>
<circle cx="233" cy="264" r="4" fill="#262626"/>
<circle cx="243" cy="332" r="6" fill="#3a3a3a"/>
<circle cx="346" cy="318" r="5" fill="#333"/>
<circle cx="145" cy="293" r="5" fill="#262626"/>
<circle cx="206" cy="243" r="6" fill="#3a3a3a"/>
<circle cx="257" cy="250" r="8" fill="#3a3a3a"/>
<circle cx="173" cy="176" r="7" fill="#3a3a3a"/>
<circle cx="260" cy="361" r="6" fill="#3a3a3a"/>
<circle cx="275" cy="236" r="8" fill="#333"/>
<circle cx="192" cy="253" r="8" fill="#262626"/>
<circle cx="314" cy="375" r="5" fill="#333"/>
<circle cx="234" cy="156" r="8" fill="#3a3a3a"/>
<circle cx="323" cy="241" r="8" fill="#333"/>
<circle cx="308" cy="382" r="6" fill="#262626"/>
<circle cx="302" cy="382" r="7" fill="#262626"/>
<circle cx="126" cy="341" r="5" fill="#262626"/>
<circle cx="241" cy="147" r="9" fill="#333"/>
<circle cx="282" cy="291" r="6" fill="#3a3a3a"/>
<circle cx="195" cy="277" r="5" fill="#333"/>
<circle cx="267" cy="250" r="6" fill="#3a3a3a"/>
<circle cx="304" cy="244" r="5" fill="#3a3a3a"/>
<circle cx="316" cy="295" r="9" fill="#333"/>
<circle cx="303" cy="376" r="5" fill="#262626"/>
<circle cx="147" cy="259" r="8" fill="#262626"/>
<circle cx="283" cy="299" r="9" fill="#3a3a3a"/>
<circle cx="220" cy="199" r="8" fill="#333"/>
<circle cx="272" cy="374" r="8" fill="#333"/>
<circle cx="103" cy="311" r="9" fill="#3a3a3a"/>
<circle cx="357" cy="242" r="5" fill="#333"/>
<circle cx="257" cy="328" r="4" fill="#262626"/>
<circle cx="114" cy="263" r="6" fill="#333"/>
<circle cx="304" cy="236" r="6" fill="#333"/>
<circle cx="180" cy="390" r="7" fill="#3a3a3a"/>
<circle cx="185" cy="206" r="6" fill="#3a3a3a"/>
<circle cx="246" cy="376" r="7" fill="#333"/>
<circle cx="300" cy="212" r="6" fill="#262626"/>
<circle cx="113" cy="305" r="6" fill="#333"/>
<circle cx="241" cy="308" r="7" fill="#333"/>
<circle cx="178" cy="246" r="9" fill="#333"/>
<circle cx="360" cy="309" r="4" fill="#3a3a3a"/>
<circle cx="197" cy="198" r="6" fill="#333"/>
<circle cx="262" cy="381" r="5" fill="#333"/>
<circle cx="177" cy="325" r="6" fill="#3a3a3a"/>
<circle cx="176" cy="291" r="8" fill="#3a3a3a"/>
<circle cx="107" cy="211" r="8" fill="#262626"/>
<circle cx="279" cy="189" r="6" fill="#333"/>
<circle cx="97" cy="334" r="5" fill="#333"/>
<circle cx="268" cy="319" r="7" fill="#333"/>
<circle cx="300" cy="228" r="5" fill="#333"/>
<circle cx="195" cy="271" r="6" fill="#3a3a3a"/>
<circle cx="254" cy="361" r="6" fill="#3a3a3a"/>
<circle cx="276" cy="314" r="8" fill="#333"/>
<circle cx="197" cy="179" r="4" fill="#3a3a3a"/>
<circle cx="314" cy="250" r="9" fill="#333"/>
<circle cx="122" cy="375" r="6" fill="#333"/>
<circle cx="131" cy="259" r="8" fill="#262626"/>
<circle cx="169" cy="185" r="5" fill="#3a3a3a"/>
<circle cx="191" cy="278" r="7" fill="#262626"/>
<circle cx="121" cy="205" r="8" fill="#333"/>
<circle cx="357" cy="289" r="6" fill="#262626"/>
<circle cx="115" cy="199" r="8" fill="#262626"/>
<circle cx="314" cy="214" r="7" fill="#333"/>
<circle cx="110" cy="314" r="5" fill="#3a3a3a"/>
<circle cx="329" cy="321" r="6" fill="#262626"/>
<circle cx="241" cy="396" r="6" fill="#3a3a3a"/>
<circle cx="228" cy="257" r="5" fill="#333"/>
<circle cx="316" cy="289" r="7" fill="#333"/>
<circle cx="143" cy="255" r="8" fill="#3a3a3a"/>
<circle cx="195" cy="164" r="7" fill="#262626"/>
<circle cx="338" cy="323" r="6" fill="#333"/>
<circle cx="181" cy="324" r="8" fill="#262626"/>
<circle cx="258" cy="179" r="9" fill="#3a3a3a"/>
<circle cx="127" cy="295" r="8" fill="#333"/>
<circle cx="198" cy="326" r="5" fill="#3a3a3a"/>
<circle cx="214" cy="232" r="5" fill="#333"/>
<circle cx="302" cy="221" r="8" fill="#333"/>
<circle cx="356" cy="240" r="5" fill="#3a3a3a"/>
<circle cx="224" cy="257" r="6" fill="#3a3a3a"/>
<circle cx="168" cy="385" r="7" fill="#3a3a3a"/>
<circle cx="348" cy="225" r="8" fill="#333"/>
<circle cx="119" cy="376" r="9" fill="#262626"/>
<circle cx="357" cy="326" r="8" fill="#262626"/>
<circle cx="365" cy="312" r="8" fill="#3a3a3a"/>
<circle cx="179" cy="216" r="4" fill="#262626"/>
<circle cx="350" cy="230" r="4" fill="#333"/>
<circle cx="275" cy="275" r="5" fill="#262626"/>
<circle cx="263" cy="372" r="7" fill="#333"/>
<circle cx="231" cy="330" r="6" fill="#333"/>
<circle cx="331" cy="331" r="7" fill="#262626"/>
<circle cx="236" cy="342" r="9" fill="#262626"/>
<circle cx="138" cy="256" r="5" fill="#3a3a3a"/>
<circle cx="98" cy="273" r="9" fill="#333"/>
<circle cx="232" cy="262" r="6" fill="#262626"/>
<circle cx="128" cy="378" r="7" fill="#262626"/>
<circle cx="272" cy="181" r="7" fill="#262626"/>
<circle cx="294" cy="316" r="7" fill="#262626"/>
<circle cx="147" cy="346" r="6" fill="#262626"/>
<circle cx="359" cy="311" r="7" fill="#3a3a3a"/>
<circle cx="232" cy="307" r="7" fill="#3a3a3a"/>
<circle cx="155" cy="163" r="5" fill="#333"/>
<circle cx="352" cy="294" r="7" fill="#262626"/>
<circle cx="205" cy="153" r="8" fill="#262626"/>
<circle cx="366" cy="317" r="8" fill="#3a3a3a"/>
<circle cx="297" cy="180" r="5" fill="#262626"/>
<circle cx="104" cy="323" r="8" fill="#3a3a3a"/>
<circle cx="322" cy="284" r="8" fill="#262626"/>
<circle cx="101" cy="215" r="8" fill="#333"/>
<circle cx="168" cy="241" r="9" fill="#3a3a3a"/>
<circle cx="128" cy="308" r="8" fill="#3a3a3a"/>
<circle cx="208" cy="417" r="6" fill="#333"/>
<circle cx="109" cy="218" r="7" fill="#333"/>
<circle cx="310" cy="275" r="6" fill="#262626"/>
<circle cx="281" cy="383" r="9" fill="#333"/>
<circle cx="343" cy="355" r="6" fill="#262626"/>
<circle cx="124" cy="266" r="7" fill="#3a3a3a"/>
<circle cx="331" cy="267" r="7" fill="#3a3a3a"/>
<circle cx="136" cy="279" r="7" fill="#3a3a3a"/>
<circle cx="318" cy="257" r="4" fill="#333"/>
<circle cx="216" cy="241" r="6" fill="#333"/>
<circle cx="148" cy="196" r="6" fill="#262626"/>
<circle cx="355" cy="342" r="9" fill="#262626"/>
<circle cx="299" cy="204" r="5" fill="#3a3a3a"/>
<circle cx="272" cy="339" r="4" fill="#333"/>
<circle cx="238" cy="166" r="5" fill="#333"/>
<circle cx="264" cy="166" r="4" fill="#3a3a3a"/>
<circle cx="183" cy="275" r="5" fill="#262626"/>
<circle cx="293" cy="235" r="5" fill="#3a3a3a"/>
<circle cx="122" cy="266" r="5" fill="#262626"/>
<circle cx="231" cy="208" r="6" fill="#262626"/>
<circle cx="204" cy="257" r="4" fill="#262626"/>
<circle cx="251" cy="323" r="6" fill="#333"/>
<circle cx="251" cy="294" r="6" fill="#3a3a3a"/>
<circle cx="217" cy="413" r="5" fill="#262626"/>
<circle cx="320" cy="220" r="7" fill="#262626"/>
<circle cx="139" cy="372" r="8" fill="#262626"/>
<circle cx="128" cy="298" r="8" fill="#333"/>
<circle cx="286" cy="327" r="5" fill="#3a3a3a"/>
<circle cx="242" cy="230" r="5" fill="#333"/>
<circle cx="154" cy="341" r="7" fill="#333"/>
<circle cx="178" cy="404" r="6" fill="#262626"/>
<circle cx="269" cy="338" r="8" fill="#3a3a3a"/>
<circle cx="227" cy="150" r="8" fill="#3a3a3a"/>
<circle cx="192" cy="315" r="4" fill="#333"/>
<circle cx="90" cy="239" r="5" fill="#333"/>
<circle cx="108" cy="328" r="7" fill="#333"/>
<circle cx="190" cy="194" r="6" fill="#333"/>
<circle cx="150" cy="400" r="5" fill="#333"/>
<circle cx="258" cy="386" r="9" fill="#262626"/>
<circle cx="306" cy="316" r="7" fill="#262626"/>
<circle cx="309" cy="182" r="8" fill="#333"/>
<circle cx="188" cy="282" r="7" fill="#3a3a3a"/>
<circle cx="226" cy="328" r="4" fill="#262626"/>
<circle cx="120" cy="368" r="6" fill="#3a3a3a"/>
<circle cx="361" cy="234" r="4" fill="#262626"/>
<circle cx="284" cy="259" r="7" fill="#262626"/>
<circle cx="334" cy="285" r="7" fill="#333"/>
<circle cx="263" cy="375" r="8" fill="#3a3a3a"/>
<circle cx="260" cy="153" r="6" fill="#3a3a3a"/>
<circle cx="303" cy="190" r="7" fill="#3a3a3a"/>
<circle cx="224" cy="179" r="6" fill="#3a3a3a"/>
<circle cx="255" cy="151" r="9" fill="#333"/>
<circle cx="186" cy="356" r="9" fill="#262626"/>
<circle cx="203" cy="355" r="7" fill="#262626"/>
<circle cx="143" cy="273" r="9" fill="#333"/>
<circle cx="324" cy="317" r="8" fill="#262626"/>
<circle cx="203" cy="228" r="9" fill="#3a3a3a"/>
<circle cx="251" cy="410" r="5" fill="#333"/>
<circle cx="243" cy="181" r="5" fill="#333"/>
<circle cx="207" cy="333" r="5" fill="#3a3a3a"/>
<circle cx="257" cy="391" r="5" fill="#333"/>
<circle cx="347" cy="270" r="6" fill="#333"/>
<circle cx="324" cy="196" r="8" fill="#262626"/>
<circle cx="259" cy="232" r="4" fill="#3a3a3a"/>
<circle cx="228" cy="317" r="5" fill="#333"/>
<circle cx="219" cy="313" r="7" fill="#3a3a3a"/>
<circle cx="113" cy="293" r="5" fill="#3a3a3a"/>
<circle cx="205" cy="342" r="6" fill="#3a3a3a"/>
<circle cx="187" cy="244" r="8" fill="#3a3a3a"/>
<circle cx="345" cy="313" r="7" fill="#3a3a3a"/>
<circle cx="249" cy="220" r="4" fill="#3a3a3a"/>
<circle cx="231" cy="178" r="7" fill="#333"/>
<circle cx="318" cy="181" r="7" fill="#3a3a3a"/>
<circle cx="173" cy="166" r="7" fill="#262626"/>
<circle cx="119" cy="226" r="7" fill="#3a3a3a"/>
<circle cx="199" cy="165" r="5" fill="#3a3a3a"/>
<circle cx="281" cy="280" r="8" fill="#262626"/>
<circle cx="329" cy="247" r="5" fill="#333"/>
<circle cx="183" cy="337" r="7" fill="#3a3a3a"/>
<circle cx="256" cy="325" r="7" fill="#262626"/>
<circle cx="211" cy="175" r="6" fill="#262626"/>
<circle cx="226" cy="260" r="7" fill="#262626"/>
<circle cx="296" cy="271" r="8" fill="#3a3a3a"/>
<circle cx="295" cy="255" r="8" fill="#3a3a3a"/>
<circle cx="279" cy="304" r="7" fill="#3a3a3a"/>
<circle cx="199" cy="237" r="4" fill="#3a3a3a"/>
<circle cx="104" cy="285" r="7" fill="#3a3a3a"/>
<circle cx="276" cy="169" r="9" fill="#3a3a3a"/>
<circle cx="328" cy="332" r="8" fill="#262626"/>
<circle cx="159" cy="362" r="8" fill="#333"/>
<circle cx="248" cy="284" r="6" fill="#3a3a3a"/>
<circle cx="311" cy="257" r="6" fill="#3a3a3a"/>
<circle cx="215" cy="401" r="7" fill="#3a3a3a"/>
<circle cx="152" cy="183" r="4" fill="#333"/>
<circle cx="320" cy="316" r="8" fill="#333"/>
<circle cx="229" cy="255" r="7" fill="#262626"/>
<circle cx="349" cy="243" r="6" fill="#3a3a3a"/>
<circle cx="325" cy="306" r="7" fill="#262626"/>
<circle cx="188" cy="201" r="5" fill="#333"/>
<circle cx="144" cy="311" r="5" fill="#333"/>
<circle cx="160" cy="329" r="6" fill="#6a6a6a"/>
<circle cx="270" cy="324" r="6" fill="#606060"/>
<circle cx="293" cy="185" r="5" fill="#6a6a6a"/>
<circle cx="122" cy="329" r="7" fill="#707070"/>
<circle cx="309" cy="382" r="4" fill="#707070"/>
<circle cx="309" cy="218" r="6" fill="#707070"/>
<circle cx="339" cy="294" r="7" fill="#606060"/>
<circle cx="189" cy="263" r="4" fill="#6a6a6a"/>
<circle cx="184" cy="306" r="6" fill="#707070"/>
<circle cx="280" cy="295" r="6" fill="#6a6a6a"/>
<circle cx="210" cy="341" r="5" fill="#707070"/>
<circle cx="144" cy="287" r="4" fill="#707070"/>
<circle cx="160" cy="224" r="7" fill="#606060"/>
<circle cx="224" cy="212" r="4" fill="#6a6a6a"/>
<circle cx="283" cy="185" r="5" fill="#606060"/>
<circle cx="354" cy="252" r="6" fill="#6a6a6a"/>
<circle cx="150" cy="280" r="6" fill="#707070"/>
<circle cx="266" cy="193" r="5" fill="#707070"/>
<circle cx="335" cy="360" r="4" fill="#606060"/>
<circle cx="192" cy="337" r="4" fill="#606060"/>
<circle cx="256" cy="339" r="4" fill="#606060"/>
<circle cx="99" cy="333" r="3" fill="#606060"/>
<circle cx="291" cy="240" r="4" fill="#6a6a6a"/>
<circle cx="307" cy="295" r="7" fill="#6a6a6a"/>
<circle cx="106" cy="318" r="5" fill="#606060"/>
<circle cx="318" cy="319" r="5" fill="#6a6a6a"/>
<circle cx="171" cy="221" r="5" fill="#6a6a6a"/>
<circle cx="350" cy="287" r="6" fill="#6a6a6a"/>
<circle cx="226" cy="403" r="5" fill="#707070"/>
<circle cx="149" cy="205" r="6" fill="#707070"/>
<circle cx="227" cy="388" r="6" fill="#707070"/>
<circle cx="206" cy="365" r="4" fill="#707070"/>
<circle cx="252" cy="243" r="4" fill="#707070"/>
<circle cx="207" cy="318" r="5" fill="#707070"/>
<circle cx="198" cy="174" r="6" fill="#606060"/>
<circle cx="345" cy="321" r="4" fill="#707070"/>
<circle cx="222" cy="295" r="4" fill="#707070"/>
<circle cx="235" cy="398" r="4" fill="#6a6a6a"/>
<circle cx="148" cy="230" r="5" fill="#6a6a6a"/>
<circle cx="184" cy="177" r="5" fill="#606060"/>
<circle cx="99" cy="290" r="4" fill="#6a6a6a"/>
<circle cx="177" cy="383" r="5" fill="#6a6a6a"/>
<circle cx="342" cy="328" r="3" fill="#707070"/>
<circle cx="107" cy="220" r="6" fill="#6a6a6a"/>
<circle cx="288" cy="324" r="7" fill="#606060"/>
<circle cx="307" cy="350" r="4" fill="#707070"/>
<circle cx="261" cy="369" r="7" fill="#6a6a6a"/>
<circle cx="259" cy="396" r="6" fill="#707070"/>
<circle cx="236" cy="229" r="7" fill="#707070"/>
<circle cx="160" cy="248" r="7" fill="#6a6a6a"/>
<circle cx="291" cy="179" r="6" fill="#6a6a6a"/>
<circle cx="206" cy="313" r="6" fill="#606060"/>
<circle cx="283" cy="390" r="3" fill="#6a6a6a"/>
<circle cx="219" cy="221" r="6" fill="#707070"/>
<circle cx="171" cy="288" r="5" fill="#707070"/>
<circle cx="180" cy="395" r="4" fill="#707070"/>
<circle cx="300" cy="277" r="4" fill="#707070"/>
<circle cx="249" cy="400" r="5" fill="#707070"/>
<circle cx="287" cy="367" r="3" fill="#6a6a6a"/>
<circle cx="222" cy="281" r="4" fill="#6a6a6a"/>
<circle cx="252" cy="231" r="7" fill="#707070"/>
<circle cx="247" cy="339" r="3" fill="#606060"/>
<circle cx="296" cy="320" r="5" fill="#606060"/>
<circle cx="127" cy="369" r="4" fill="#6a6a6a"/>
<circle cx="292" cy="262" r="6" fill="#6a6a6a"/>
<circle cx="223" cy="309" r="4" fill="#606060"/>
<circle cx="228" cy="300" r="7" fill="#707070"/>
<circle cx="270" cy="309" r="5" fill="#707070"/>
<circle cx="153" cy="284" r="3" fill="#707070"/>
<circle cx="316" cy="367" r="6" fill="#606060"/>
<ellipse cx="258" cy="228" rx="38" ry="52" fill="#1e1e1e" transform="rotate(15 258 228)"/>
<path d="M20,470 L60,500 M80,490 L110,500 M255,470 L265,505 M90,130 L120,150" stroke="#333" stroke-width="6" fill="none"/>
<rect x="400" y="495" width="60" height="6" fill="#222"/>
</g></g>
</g>
<rect x="19.70" y="100.80" width="81.50" height="81.20" fill="none" stroke="#1e1e1e" stroke-width="1.4"/>
<g clip-path="url(#cp11)"><g filter="url(#gr11)"><g transform="translate(103 97) scale(0.165371)">
<rect x="0" y="0" width="520" height="520" fill="#c5c5c5"/>
<path d="M100,15 L340,15 Q320,80 220,85 Q130,80 100,15 Z" fill="#505050"/>
<circle cx="153" cy="56" r="7" fill="#888"/>
<circle cx="215" cy="73" r="5" fill="#2a2a2a"/>
<circle cx="307" cy="41" r="5" fill="#2a2a2a"/>
<circle cx="304" cy="57" r="6" fill="#888"/>
<circle cx="243" cy="17" r="5" fill="#888"/>
<circle cx="259" cy="54" r="8" fill="#2a2a2a"/>
<circle cx="151" cy="64" r="4" fill="#2a2a2a"/>
<circle cx="211" cy="48" r="5" fill="#888"/>
<circle cx="150" cy="55" r="6" fill="#2a2a2a"/>
<circle cx="255" cy="63" r="7" fill="#2a2a2a"/>
<circle cx="144" cy="44" r="7" fill="#2a2a2a"/>
<circle cx="188" cy="24" r="6" fill="#888"/>
<circle cx="193" cy="42" r="6" fill="#888"/>
<circle cx="197" cy="17" r="4" fill="#888"/>
<circle cx="240" cy="46" r="6" fill="#888"/>
<circle cx="231" cy="52" r="5" fill="#2a2a2a"/>
<circle cx="245" cy="65" r="5" fill="#888"/>
<circle cx="169" cy="25" r="8" fill="#2a2a2a"/>
<circle cx="275" cy="37" r="7" fill="#2a2a2a"/>
<circle cx="201" cy="74" r="8" fill="#2a2a2a"/>
<circle cx="297" cy="44" r="6" fill="#2a2a2a"/>
<circle cx="232" cy="41" r="6" fill="#888"/>
<circle cx="131" cy="32" r="7" fill="#888"/>
<circle cx="199" cy="67" r="7" fill="#2a2a2a"/>
<circle cx="216" cy="30" r="8" fill="#888"/>
<circle cx="288" cy="63" r="8" fill="#888"/>
<circle cx="217" cy="69" r="6" fill="#2a2a2a"/>
<circle cx="227" cy="32" r="7" fill="#2a2a2a"/>
<circle cx="196" cy="23" r="7" fill="#888"/>
<circle cx="239" cy="54" r="7" fill="#888"/>
<circle cx="171" cy="39" r="8" fill="#2a2a2a"/>
<circle cx="209" cy="23" r="7" fill="#888"/>
<circle cx="145" cy="47" r="5" fill="#888"/>
<circle cx="298" cy="52" r="5" fill="#888"/>
<circle cx="160" cy="60" r="7" fill="#2a2a2a"/>
<circle cx="213" cy="19" r="7" fill="#2a2a2a"/>
<circle cx="291" cy="29" r="8" fill="#888"/>
<circle cx="269" cy="30" r="5" fill="#888"/>
<circle cx="284" cy="63" r="6" fill="#2a2a2a"/>
<circle cx="229" cy="19" r="6" fill="#888"/>
<path d="M0,20 L60,20 Q75,120 55,200 L0,220 Z" fill="#4a4a4a"/>
<path d="M0,260 Q80,280 95,380 Q90,480 40,510 L0,510 Z" fill="#4e4e4e" stroke="#2a2a2a" stroke-width="8"/>
<circle cx="7" cy="314" r="7" fill="#6a6a6a"/>
<circle cx="40" cy="437" r="6" fill="#2a2a2a"/>
<circle cx="42" cy="294" r="5" fill="#6a6a6a"/>
<circle cx="7" cy="460" r="7" fill="#2a2a2a"/>
<circle cx="53" cy="412" r="5" fill="#6a6a6a"/>
<circle cx="18" cy="446" r="9" fill="#2a2a2a"/>
<circle cx="15" cy="344" r="7" fill="#6a6a6a"/>
<circle cx="-6" cy="396" r="4" fill="#6a6a6a"/>
<circle cx="36" cy="393" r="6" fill="#2a2a2a"/>
<circle cx="18" cy="365" r="7" fill="#6a6a6a"/>
<circle cx="42" cy="402" r="7" fill="#6a6a6a"/>
<circle cx="22" cy="376" r="6" fill="#2a2a2a"/>
<circle cx="36" cy="370" r="4" fill="#2a2a2a"/>
<circle cx="5" cy="399" r="6" fill="#6a6a6a"/>
<circle cx="72" cy="416" r="6" fill="#2a2a2a"/>
<circle cx="38" cy="449" r="7" fill="#2a2a2a"/>
<circle cx="49" cy="310" r="5" fill="#2a2a2a"/>
<circle cx="31" cy="459" r="6" fill="#2a2a2a"/>
<circle cx="43" cy="488" r="8" fill="#6a6a6a"/>
<circle cx="33" cy="303" r="8" fill="#2a2a2a"/>
<circle cx="64" cy="412" r="9" fill="#2a2a2a"/>
<circle cx="7" cy="360" r="4" fill="#2a2a2a"/>
<circle cx="5" cy="428" r="6" fill="#6a6a6a"/>
<circle cx="7" cy="426" r="9" fill="#6a6a6a"/>
<circle cx="34" cy="304" r="4" fill="#2a2a2a"/>
<circle cx="42" cy="414" r="6" fill="#2a2a2a"/>
<circle cx="56" cy="475" r="8" fill="#2a2a2a"/>
<circle cx="11" cy="458" r="7" fill="#2a2a2a"/>
<circle cx="8" cy="388" r="6" fill="#6a6a6a"/>
<circle cx="32" cy="340" r="5" fill="#6a6a6a"/>
<circle cx="41" cy="326" r="9" fill="#6a6a6a"/>
<circle cx="-5" cy="390" r="7" fill="#2a2a2a"/>
<circle cx="66" cy="430" r="5" fill="#2a2a2a"/>
<circle cx="9" cy="452" r="6" fill="#2a2a2a"/>
<circle cx="30" cy="376" r="6" fill="#6a6a6a"/>
<circle cx="68" cy="454" r="4" fill="#6a6a6a"/>
<circle cx="45" cy="311" r="8" fill="#6a6a6a"/>
<circle cx="15" cy="459" r="5" fill="#6a6a6a"/>
<circle cx="15" cy="322" r="8" fill="#6a6a6a"/>
<circle cx="53" cy="453" r="9" fill="#2a2a2a"/>
<path d="M520,330 Q460,360 455,410 Q470,460 520,470 Z" fill="#484848"/>
<ellipse cx="285" cy="280" rx="190" ry="183" fill="#686868" stroke="#3a3a3a" stroke-width="9"/>
<ellipse cx="255" cy="215" rx="75" ry="70" fill="#7a7a7a" stroke="#333" stroke-width="6"/>
<circle cx="318" cy="254" r="5" fill="#1e1e1e"/>
<circle cx="365" cy="201" r="3" fill="#3a3a3a"/>
<circle cx="269" cy="118" r="3" fill="#3a3a3a"/>
<circle cx="284" cy="117" r="6" fill="#2a2a2a"/>
<circle cx="235" cy="130" r="6" fill="#3a3a3a"/>
<circle cx="238" cy="168" r="4" fill="#3a3a3a"/>
<circle cx="236" cy="368" r="4" fill="#3a3a3a"/>
<circle cx="311" cy="387" r="4" fill="#2a2a2a"/>
<circle cx="317" cy="262" r="6" fill="#1e1e1e"/>
<circle cx="391" cy="291" r="6" fill="#3a3a3a"/>
<circle cx="177" cy="149" r="3" fill="#1e1e1e"/>
<circle cx="309" cy="430" r="4" fill="#3a3a3a"/>
<circle cx="225" cy="236" r="4" fill="#2a2a2a"/>
<circle cx="425" cy="265" r="4" fill="#1e1e1e"/>
<circle cx="145" cy="376" r="6" fill="#2a2a2a"/>
<circle cx="192" cy="295" r="7" fill="#3a3a3a"/>
<circle cx="143" cy="240" r="5" fill="#1e1e1e"/>
<circle cx="127" cy="252" r="3" fill="#1e1e1e"/>
<circle cx="299" cy="446" r="6" fill="#2a2a2a"/>
<circle cx="282" cy="123" r="4" fill="#3a3a3a"/>
<circle cx="144" cy="290" r="4" fill="#3a3a3a"/>
<circle cx="306" cy="191" r="3" fill="#1e1e1e"/>
<circle cx="428" cy="261" r="4" fill="#2a2a2a"/>
<circle cx="352" cy="250" r="6" fill="#3a3a3a"/>
<circle cx="372" cy="296" r="5" fill="#2a2a2a"/>
<circle cx="382" cy="299" r="5" fill="#2a2a2a"/>
<circle cx="146" cy="325" r="4" fill="#3a3a3a"/>
<circle cx="366" cy="256" r="4" fill="#3a3a3a"/>
<circle cx="135" cy="301" r="5" fill="#1e1e1e"/>
<circle cx="204" cy="225" r="3" fill="#1e1e1e"/>
<circle cx="374" cy="247" r="6" fill="#1e1e1e"/>
<circle cx="169" cy="263" r="5" fill="#1e1e1e"/>
<circle cx="257" cy="204" r="5" fill="#3a3a3a"/>
<circle cx="363" cy="170" r="5" fill="#2a2a2a"/>
<circle cx="284" cy="374" r="6" fill="#3a3a3a"/>
<circle cx="254" cy="342" r="5" fill="#2a2a2a"/>
<circle cx="204" cy="426" r="4" fill="#1e1e1e"/>
<circle cx="256" cy="388" r="5" fill="#3a3a3a"/>
<circle cx="421" cy="293" r="6" fill="#2a2a2a"/>
<circle cx="184" cy="200" r="6" fill="#3a3a3a"/>
<circle cx="239" cy="321" r="7" fill="#2a2a2a"/>
<circle cx="309" cy="260" r="6" fill="#2a2a2a"/>
<circle cx="386" cy="148" r="6" fill="#3a3a3a"/>
<circle cx="333" cy="125" r="6" fill="#2a2a2a"/>
<circle cx="178" cy="302" r="5" fill="#1e1e1e"/>
<circle cx="171" cy="283" r="5" fill="#2a2a2a"/>
<circle cx="211" cy="137" r="7" fill="#3a3a3a"/>
<circle cx="322" cy="124" r="3" fill="#3a3a3a"/>
<circle cx="325" cy="157" r="6" fill="#2a2a2a"/>
<circle cx="426" cy="210" r="6" fill="#1e1e1e"/>
<circle cx="399" cy="315" r="5" fill="#2a2a2a"/>
<circle cx="117" cy="229" r="4" fill="#1e1e1e"/>
<circle cx="180" cy="255" r="4" fill="#3a3a3a"/>
<circle cx="186" cy="310" r="7" fill="#3a3a3a"/>
<circle cx="236" cy="331" r="6" fill="#3a3a3a"/>
<circle cx="218" cy="411" r="7" fill="#3a3a3a"/>
<circle cx="153" cy="239" r="6" fill="#1e1e1e"/>
<circle cx="282" cy="229" r="4" fill="#3a3a3a"/>
<circle cx="297" cy="182" r="5" fill="#1e1e1e"/>
<circle cx="275" cy="164" r="7" fill="#2a2a2a"/>
<circle cx="195" cy="217" r="6" fill="#2a2a2a"/>
<circle cx="398" cy="246" r="4" fill="#2a2a2a"/>
<circle cx="451" cy="292" r="5" fill="#2a2a2a"/>
<circle cx="397" cy="172" r="5" fill="#1e1e1e"/>
<circle cx="342" cy="256" r="3" fill="#1e1e1e"/>
<circle cx="246" cy="240" r="3" fill="#1e1e1e"/>
<circle cx="257" cy="229" r="7" fill="#3a3a3a"/>
<circle cx="359" cy="337" r="4" fill="#1e1e1e"/>
<circle cx="374" cy="386" r="5" fill="#1e1e1e"/>
<circle cx="437" cy="254" r="6" fill="#3a3a3a"/>
<circle cx="391" cy="150" r="3" fill="#3a3a3a"/>
<circle cx="323" cy="291" r="4" fill="#2a2a2a"/>
<circle cx="386" cy="216" r="6" fill="#2a2a2a"/>
<circle cx="283" cy="296" r="6" fill="#2a2a2a"/>
<circle cx="227" cy="361" r="4" fill="#3a3a3a"/>
<circle cx="310" cy="416" r="4" fill="#3a3a3a"/>
<circle cx="385" cy="157" r="7" fill="#3a3a3a"/>
<circle cx="390" cy="355" r="7" fill="#3a3a3a"/>
<circle cx="301" cy="253" r="6" fill="#1e1e1e"/>
<circle cx="419" cy="177" r="6" fill="#3a3a3a"/>
<circle cx="348" cy="333" r="4" fill="#1e1e1e"/>
<circle cx="281" cy="360" r="7" fill="#2a2a2a"/>
<circle cx="395" cy="368" r="5" fill="#3a3a3a"/>
<circle cx="257" cy="126" r="3" fill="#1e1e1e"/>
<circle cx="391" cy="230" r="5" fill="#3a3a3a"/>
<circle cx="306" cy="442" r="3" fill="#2a2a2a"/>
<circle cx="136" cy="221" r="6" fill="#3a3a3a"/>
<circle cx="216" cy="396" r="3" fill="#1e1e1e"/>
<circle cx="157" cy="308" r="7" fill="#3a3a3a"/>
<circle cx="406" cy="366" r="4" fill="#1e1e1e"/>
<circle cx="293" cy="292" r="5" fill="#1e1e1e"/>
<circle cx="406" cy="201" r="5" fill="#3a3a3a"/>
<circle cx="288" cy="232" r="4" fill="#3a3a3a"/>
<circle cx="242" cy="224" r="6" fill="#3a3a3a"/>
<circle cx="195" cy="236" r="7" fill="#2a2a2a"/>
<circle cx="184" cy="300" r="6" fill="#2a2a2a"/>
<circle cx="121" cy="312" r="7" fill="#1e1e1e"/>
<circle cx="369" cy="162" r="5" fill="#3a3a3a"/>
<circle cx="398" cy="165" r="7" fill="#2a2a2a"/>
<circle cx="370" cy="268" r="6" fill="#2a2a2a"/>
<circle cx="214" cy="383" r="7" fill="#1e1e1e"/>
<circle cx="251" cy="337" r="5" fill="#3a3a3a"/>
<circle cx="113" cy="302" r="6" fill="#1e1e1e"/>
<circle cx="384" cy="346" r="3" fill="#3a3a3a"/>
<circle cx="345" cy="332" r="6" fill="#2a2a2a"/>
<circle cx="444" cy="325" r="7" fill="#1e1e1e"/>
<circle cx="253" cy="153" r="4" fill="#3a3a3a"/>
<circle cx="446" cy="326" r="5" fill="#3a3a3a"/>
<circle cx="332" cy="284" r="6" fill="#1e1e1e"/>
<circle cx="321" cy="247" r="4" fill="#1e1e1e"/>
<circle cx="387" cy="297" r="7" fill="#2a2a2a"/>
<circle cx="232" cy="425" r="6" fill="#3a3a3a"/>
<circle cx="376" cy="137" r="4" fill="#1e1e1e"/>
<circle cx="324" cy="187" r="7" fill="#2a2a2a"/>
<circle cx="321" cy="387" r="5" fill="#2a2a2a"/>
<circle cx="198" cy="425" r="7" fill="#3a3a3a"/>
<circle cx="168" cy="293" r="7" fill="#2a2a2a"/>
<circle cx="367" cy="364" r="6" fill="#2a2a2a"/>
<circle cx="239" cy="185" r="5" fill="#3a3a3a"/>
<circle cx="125" cy="238" r="4" fill="#3a3a3a"/>
<circle cx="262" cy="404" r="4" fill="#1e1e1e"/>
<circle cx="430" cy="234" r="4" fill="#3a3a3a"/>
<circle cx="308" cy="245" r="5" fill="#3a3a3a"/>
<circle cx="207" cy="282" r="6" fill="#1e1e1e"/>
<circle cx="367" cy="397" r="6" fill="#3a3a3a"/>
<circle cx="248" cy="332" r="4" fill="#1e1e1e"/>
<circle cx="366" cy="421" r="6" fill="#2a2a2a"/>
<circle cx="384" cy="295" r="4" fill="#3a3a3a"/>
<circle cx="420" cy="306" r="3" fill="#2a2a2a"/>
<circle cx="316" cy="368" r="6" fill="#2a2a2a"/>
<circle cx="280" cy="273" r="6" fill="#2a2a2a"/>
<circle cx="257" cy="178" r="6" fill="#2a2a2a"/>
<circle cx="150" cy="360" r="4" fill="#2a2a2a"/>
<circle cx="403" cy="187" r="4" fill="#3a3a3a"/>
<circle cx="351" cy="285" r="5" fill="#1e1e1e"/>
<circle cx="254" cy="177" r="7" fill="#3a3a3a"/>
<circle cx="121" cy="305" r="5" fill="#3a3a3a"/>
<circle cx="223" cy="275" r="6" fill="#1e1e1e"/>
<circle cx="423" cy="186" r="3" fill="#1e1e1e"/>
<circle cx="354" cy="260" r="4" fill="#2a2a2a"/>
<circle cx="288" cy="386" r="3" fill="#1e1e1e"/>
<circle cx="304" cy="168" r="4" fill="#3a3a3a"/>
<circle cx="276" cy="389" r="5" fill="#1e1e1e"/>
<circle cx="218" cy="307" r="3" fill="#3a3a3a"/>
<circle cx="302" cy="337" r="6" fill="#1e1e1e"/>
<circle cx="280" cy="140" r="6" fill="#3a3a3a"/>
<circle cx="401" cy="327" r="6" fill="#3a3a3a"/>
<circle cx="218" cy="377" r="4" fill="#1e1e1e"/>
<circle cx="339" cy="122" r="3" fill="#2a2a2a"/>
<circle cx="248" cy="304" r="6" fill="#1e1e1e"/>
<circle cx="313" cy="415" r="4" fill="#1e1e1e"/>
<circle cx="258" cy="147" r="3" fill="#3a3a3a"/>
<circle cx="344" cy="273" r="3" fill="#1e1e1e"/>
<circle cx="294" cy="405" r="4" fill="#2a2a2a"/>
<circle cx="394" cy="170" r="6" fill="#1e1e1e"/>
<circle cx="292" cy="432" r="4" fill="#1e1e1e"/>
<circle cx="413" cy="375" r="4" fill="#2a2a2a"/>
<circle cx="175" cy="292" r="4" fill="#1e1e1e"/>
<circle cx="416" cy="314" r="5" fill="#1e1e1e"/>
<circle cx="393" cy="369" r="6" fill="#2a2a2a"/>
<circle cx="379" cy="263" r="3" fill="#2a2a2a"/>
<circle cx="336" cy="433" r="7" fill="#2a2a2a"/>
<circle cx="138" cy="188" r="4" fill="#1e1e1e"/>
<circle cx="349" cy="222" r="6" fill="#1e1e1e"/>
<circle cx="233" cy="338" r="4" fill="#3a3a3a"/>
<circle cx="193" cy="141" r="5" fill="#1e1e1e"/>
<circle cx="386" cy="237" r="4" fill="#3a3a3a"/>
<circle cx="140" cy="240" r="3" fill="#1e1e1e"/>
<circle cx="221" cy="345" r="4" fill="#2a2a2a"/>
<circle cx="153" cy="194" r="5" fill="#3a3a3a"/>
<circle cx="216" cy="203" r="4" fill="#2a2a2a"/>
<circle cx="431" cy="190" r="5" fill="#3a3a3a"/>
<circle cx="261" cy="304" r="5" fill="#3a3a3a"/>
<circle cx="417" cy="340" r="6" fill="#3a3a3a"/>
<circle cx="386" cy="313" r="5" fill="#1e1e1e"/>
<circle cx="247" cy="271" r="5" fill="#1e1e1e"/>
<circle cx="320" cy="386" r="3" fill="#3a3a3a"/>
<circle cx="173" cy="406" r="4" fill="#2a2a2a"/>
<circle cx="366" cy="242" r="7" fill="#3a3a3a"/>
<circle cx="375" cy="327" r="6" fill="#2a2a2a"/>
<circle cx="356" cy="369" r="6" fill="#1e1e1e"/>
<circle cx="337" cy="434" r="5" fill="#1e1e1e"/>
<circle cx="148" cy="364" r="4" fill="#2a2a2a"/>
<circle cx="434" cy="241" r="5" fill="#3a3a3a"/>
<circle cx="394" cy="349" r="3" fill="#2a2a2a"/>
<circle cx="136" cy="302" r="4" fill="#3a3a3a"/>
<circle cx="317" cy="233" r="6" fill="#1e1e1e"/>
<circle cx="276" cy="401" r="5" fill="#2a2a2a"/>
<circle cx="281" cy="360" r="6" fill="#3a3a3a"/>
<circle cx="272" cy="280" r="3" fill="#1e1e1e"/>
<circle cx="254" cy="411" r="6" fill="#2a2a2a"/>
<circle cx="303" cy="125" r="6" fill="#1e1e1e"/>
<circle cx="202" cy="341" r="6" fill="#3a3a3a"/>
<circle cx="149" cy="321" r="7" fill="#3a3a3a"/>
<circle cx="233" cy="269" r="5" fill="#2a2a2a"/>
<circle cx="152" cy="185" r="6" fill="#3a3a3a"/>
<circle cx="393" cy="186" r="3" fill="#1e1e1e"/>
<circle cx="291" cy="289" r="5" fill="#3a3a3a"/>
<circle cx="340" cy="335" r="5" fill="#2a2a2a"/>
<circle cx="402" cy="210" r="6" fill="#1e1e1e"/>
<circle cx="228" cy="309" r="6" fill="#3a3a3a"/>
<circle cx="235" cy="238" r="5" fill="#1e1e1e"/>
<circle cx="157" cy="172" r="3" fill="#3a3a3a"/>
<circle cx="200" cy="277" r="6" fill="#1e1e1e"/>
<circle cx="200" cy="276" r="5" fill="#2a2a2a"/>
<circle cx="401" cy="396" r="3" fill="#1e1e1e"/>
<circle cx="377" cy="297" r="5" fill="#3a3a3a"/>
<circle cx="328" cy="250" r="6" fill="#3a3a3a"/>
<circle cx="285" cy="217" r="5" fill="#3a3a3a"/>
<circle cx="159" cy="212" r="3" fill="#1e1e1e"/>
<circle cx="220" cy="405" r="5" fill="#2a2a2a"/>
<circle cx="272" cy="207" r="4" fill="#3a3a3a"/>
<circle cx="368" cy="132" r="4" fill="#3a3a3a"/>
<circle cx="342" cy="309" r="4" fill="#3a3a3a"/>
<circle cx="411" cy="246" r="6" fill="#2a2a2a"/>
<circle cx="224" cy="399" r="4" fill="#2a2a2a"/>
<circle cx="422" cy="313" r="6" fill="#3a3a3a"/>
<circle cx="253" cy="169" r="3" fill="#1e1e1e"/>
<circle cx="252" cy="407" r="4" fill="#3a3a3a"/>
<circle cx="429" cy="332" r="6" fill="#2a2a2a"/>
<circle cx="445" cy="291" r="4" fill="#2a2a2a"/>
<circle cx="286" cy="189" r="6" fill="#1e1e1e"/>
<circle cx="413" cy="314" r="6" fill="#1e1e1e"/>
<circle cx="398" cy="411" r="6" fill="#2a2a2a"/>
<circle cx="287" cy="306" r="5" fill="#2a2a2a"/>
<circle cx="281" cy="221" r="4" fill="#2a2a2a"/>
<circle cx="422" cy="231" r="4" fill="#1e1e1e"/>
<circle cx="364" cy="163" r="5" fill="#2a2a2a"/>
<circle cx="268" cy="359" r="4" fill="#3a3a3a"/>
<circle cx="443" cy="313" r="5" fill="#3a3a3a"/>
<circle cx="140" cy="256" r="4" fill="#2a2a2a"/>
<circle cx="279" cy="161" r="4" fill="#2a2a2a"/>
<circle cx="285" cy="326" r="5" fill="#3a3a3a"/>
<circle cx="184" cy="389" r="6" fill="#3a3a3a"/>
<circle cx="285" cy="124" r="6" fill="#1e1e1e"/>
<circle cx="271" cy="111" r="5" fill="#1e1e1e"/>
<circle cx="351" cy="127" r="4" fill="#1e1e1e"/>
<circle cx="316" cy="285" r="5" fill="#2a2a2a"/>
<circle cx="458" cy="306" r="3" fill="#2a2a2a"/>
<circle cx="282" cy="327" r="3" fill="#3a3a3a"/>
<circle cx="153" cy="332" r="4" fill="#3a3a3a"/>
<circle cx="165" cy="218" r="7" fill="#3a3a3a"/>
<circle cx="431" cy="210" r="4" fill="#1e1e1e"/>
<circle cx="371" cy="318" r="4" fill="#2a2a2a"/>
<circle cx="395" cy="400" r="4" fill="#3a3a3a"/>
<circle cx="429" cy="239" r="4" fill="#3a3a3a"/>
<circle cx="375" cy="219" r="4" fill="#2a2a2a"/>
<circle cx="362" cy="156" r="4" fill="#1e1e1e"/>
<circle cx="229" cy="258" r="4" fill="#1e1e1e"/>
<circle cx="163" cy="321" r="6" fill="#3a3a3a"/>
<circle cx="413" cy="308" r="4" fill="#1e1e1e"/>
<circle cx="373" cy="370" r="4" fill="#2a2a2a"/>
<circle cx="235" cy="329" r="3" fill="#3a3a3a"/>
<circle cx="159" cy="238" r="7" fill="#1e1e1e"/>
<circle cx="342" cy="256" r="6" fill="#1e1e1e"/>
<circle cx="276" cy="266" r="3" fill="#3a3a3a"/>
<circle cx="262" cy="164" r="6" fill="#2a2a2a"/>
<circle cx="284" cy="244" r="4" fill="#2a2a2a"/>
<circle cx="138" cy="376" r="6" fill="#1e1e1e"/>
<circle cx="166" cy="314" r="4" fill="#3a3a3a"/>
<circle cx="323" cy="343" r="7" fill="#2a2a2a"/>
<circle cx="396" cy="319" r="4" fill="#1e1e1e"/>
<circle cx="193" cy="352" r="5" fill="#1e1e1e"/>
<circle cx="296" cy="119" r="5" fill="#3a3a3a"/>
<circle cx="301" cy="265" r="6" fill="#1e1e1e"/>
<circle cx="161" cy="374" r="4" fill="#2a2a2a"/>
<circle cx="356" cy="374" r="3" fill="#1e1e1e"/>
<circle cx="177" cy="340" r="5" fill="#1e1e1e"/>
<circle cx="371" cy="384" r="5" fill="#1e1e1e"/>
<circle cx="391" cy="395" r="6" fill="#3a3a3a"/>
<circle cx="390" cy="378" r="6" fill="#2a2a2a"/>
<circle cx="183" cy="161" r="6" fill="#2a2a2a"/>
<circle cx="291" cy="278" r="5" fill="#1e1e1e"/>
<circle cx="229" cy="183" r="6" fill="#3a3a3a"/>
<circle cx="283" cy="411" r="5" fill="#3a3a3a"/>
<circle cx="282" cy="208" r="5" fill="#2a2a2a"/>
<circle cx="329" cy="223" r="4" fill="#3a3a3a"/>
<circle cx="316" cy="402" r="6" fill="#3a3a3a"/>
<circle cx="373" cy="416" r="6" fill="#2a2a2a"/>
<circle cx="261" cy="253" r="7" fill="#1e1e1e"/>
<circle cx="274" cy="340" r="3" fill="#1e1e1e"/>
<circle cx="324" cy="140" r="5" fill="#2a2a2a"/>
<circle cx="413" cy="268" r="5" fill="#3a3a3a"/>
<circle cx="457" cy="279" r="3" fill="#3a3a3a"/>
<circle cx="301" cy="382" r="5" fill="#1e1e1e"/>
<circle cx="349" cy="437" r="3" fill="#3a3a3a"/>
<circle cx="287" cy="218" r="5" fill="#1e1e1e"/>
<circle cx="249" cy="195" r="5" fill="#1e1e1e"/>
<circle cx="376" cy="282" r="4" fill="#2a2a2a"/>
<circle cx="384" cy="393" r="5" fill="#3a3a3a"/>
<circle cx="326" cy="271" r="6" fill="#2a2a2a"/>
<circle cx="167" cy="307" r="6" fill="#2a2a2a"/>
<circle cx="382" cy="335" r="3" fill="#1e1e1e"/>
<circle cx="152" cy="177" r="4" fill="#1e1e1e"/>
<circle cx="250" cy="220" r="5" fill="#2a2a2a"/>
<circle cx="272" cy="294" r="6" fill="#2a2a2a"/>
<circle cx="284" cy="129" r="4" fill="#1e1e1e"/>
<circle cx="196" cy="222" r="7" fill="#1e1e1e"/>
<circle cx="331" cy="441" r="4" fill="#3a3a3a"/>
<circle cx="334" cy="424" r="7" fill="#3a3a3a"/>
<circle cx="303" cy="397" r="6" fill="#1e1e1e"/>
<circle cx="425" cy="285" r="4" fill="#2a2a2a"/>
<circle cx="228" cy="332" r="3" fill="#1e1e1e"/>
<circle cx="347" cy="361" r="4" fill="#2a2a2a"/>
<circle cx="401" cy="263" r="4" fill="#2a2a2a"/>
<circle cx="335" cy="389" r="6" fill="#1e1e1e"/>
<circle cx="352" cy="294" r="4" fill="#1e1e1e"/>
<circle cx="356" cy="243" r="4" fill="#1e1e1e"/>
<circle cx="333" cy="253" r="6" fill="#1e1e1e"/>
<circle cx="339" cy="244" r="5" fill="#2a2a2a"/>
<circle cx="410" cy="310" r="5" fill="#2a2a2a"/>
<circle cx="317" cy="378" r="4" fill="#1e1e1e"/>
<circle cx="231" cy="303" r="5" fill="#2a2a2a"/>
<circle cx="314" cy="334" r="6" fill="#1e1e1e"/>
<circle cx="247" cy="272" r="4" fill="#1e1e1e"/>
<circle cx="268" cy="256" r="6" fill="#2a2a2a"/>
<circle cx="266" cy="344" r="6" fill="#2a2a2a"/>
<circle cx="301" cy="295" r="4" fill="#2a2a2a"/>
<circle cx="370" cy="311" r="4" fill="#1e1e1e"/>
<circle cx="411" cy="277" r="4" fill="#1e1e1e"/>
<circle cx="376" cy="332" r="5" fill="#1e1e1e"/>
<circle cx="346" cy="262" r="5" fill="#1e1e1e"/>
<circle cx="383" cy="277" r="5" fill="#1e1e1e"/>
<circle cx="334" cy="259" r="6" fill="#2a2a2a"/>
<circle cx="290" cy="248" r="5" fill="#1e1e1e"/>
<circle cx="340" cy="253" r="6" fill="#1e1e1e"/>
<circle cx="373" cy="269" r="5" fill="#1e1e1e"/>
<circle cx="236" cy="341" r="3" fill="#1e1e1e"/>
<circle cx="331" cy="271" r="3" fill="#1e1e1e"/>
<circle cx="372" cy="283" r="4" fill="#2a2a2a"/>
<circle cx="395" cy="296" r="4" fill="#1e1e1e"/>
<circle cx="409" cy="280" r="4" fill="#2a2a2a"/>
<circle cx="295" cy="316" r="3" fill="#2a2a2a"/>
<circle cx="319" cy="377" r="3" fill="#2a2a2a"/>
<circle cx="289" cy="394" r="5" fill="#2a2a2a"/>
<circle cx="312" cy="273" r="5" fill="#1e1e1e"/>
<circle cx="403" cy="301" r="3" fill="#1e1e1e"/>
<circle cx="367" cy="358" r="6" fill="#2a2a2a"/>
<circle cx="284" cy="328" r="6" fill="#1e1e1e"/>
<circle cx="237" cy="297" r="6" fill="#1e1e1e"/>
<circle cx="410" cy="377" r="3" fill="#2a2a2a"/>
<circle cx="428" cy="317" r="4" fill="#2a2a2a"/>
<circle cx="392" cy="391" r="5" fill="#1e1e1e"/>
<circle cx="305" cy="296" r="3" fill="#1e1e1e"/>
<circle cx="288" cy="398" r="5" fill="#1e1e1e"/>
<circle cx="259" cy="320" r="3" fill="#2a2a2a"/>
<circle cx="234" cy="347" r="5" fill="#2a2a2a"/>
<circle cx="260" cy="372" r="3" fill="#1e1e1e"/>
<circle cx="282" cy="389" r="5" fill="#1e1e1e"/>
<circle cx="322" cy="255" r="4" fill="#1e1e1e"/>
<circle cx="256" cy="366" r="4" fill="#1e1e1e"/>
<circle cx="382" cy="291" r="4" fill="#2a2a2a"/>
<circle cx="299" cy="386" r="4" fill="#2a2a2a"/>
<circle cx="381" cy="322" r="5" fill="#1e1e1e"/>
<circle cx="340" cy="277" r="5" fill="#1e1e1e"/>
<circle cx="418" cy="372" r="6" fill="#2a2a2a"/>
<circle cx="412" cy="319" r="4" fill="#2a2a2a"/>
<circle cx="333" cy="374" r="4" fill="#1e1e1e"/>
<circle cx="336" cy="317" r="4" fill="#1e1e1e"/>
<circle cx="386" cy="333" r="3" fill="#1e1e1e"/>
<circle cx="278" cy="298" r="4" fill="#2a2a2a"/>
<circle cx="379" cy="358" r="6" fill="#1e1e1e"/>
<circle cx="324" cy="408" r="3" fill="#2a2a2a"/>
<circle cx="344" cy="328" r="5" fill="#2a2a2a"/>
<circle cx="411" cy="307" r="6" fill="#1e1e1e"/>
<circle cx="332" cy="334" r="6" fill="#1e1e1e"/>
<circle cx="404" cy="326" r="5" fill="#1e1e1e"/>
<circle cx="348" cy="325" r="4" fill="#2a2a2a"/>
<circle cx="359" cy="251" r="4" fill="#1e1e1e"/>
<circle cx="414" cy="340" r="6" fill="#1e1e1e"/>
<circle cx="297" cy="281" r="3" fill="#2a2a2a"/>
<circle cx="426" cy="286" r="3" fill="#1e1e1e"/>
<circle cx="361" cy="353" r="6" fill="#1e1e1e"/>
<circle cx="432" cy="334" r="5" fill="#1e1e1e"/>
<circle cx="416" cy="329" r="5" fill="#1e1e1e"/>
<circle cx="351" cy="328" r="5" fill="#2a2a2a"/>
<circle cx="403" cy="282" r="6" fill="#1e1e1e"/>
<circle cx="309" cy="388" r="4" fill="#1e1e1e"/>
<circle cx="295" cy="306" r="4" fill="#2a2a2a"/>
<circle cx="269" cy="350" r="6" fill="#2a2a2a"/>
<circle cx="258" cy="277" r="6" fill="#2a2a2a"/>
<circle cx="354" cy="379" r="5" fill="#1e1e1e"/>
<circle cx="392" cy="341" r="5" fill="#1e1e1e"/>
<circle cx="330" cy="399" r="4" fill="#2a2a2a"/>
<circle cx="393" cy="278" r="6" fill="#2a2a2a"/>
<circle cx="263" cy="258" r="6" fill="#1e1e1e"/>
<circle cx="365" cy="287" r="4" fill="#1e1e1e"/>
<circle cx="276" cy="287" r="4" fill="#2a2a2a"/>
<circle cx="367" cy="344" r="4" fill="#1e1e1e"/>
<circle cx="361" cy="381" r="4" fill="#1e1e1e"/>
<circle cx="244" cy="274" r="6" fill="#1e1e1e"/>
<circle cx="252" cy="358" r="4" fill="#1e1e1e"/>
<circle cx="365" cy="324" r="5" fill="#2a2a2a"/>
<circle cx="252" cy="341" r="4" fill="#1e1e1e"/>
<circle cx="434" cy="346" r="3" fill="#2a2a2a"/>
<circle cx="381" cy="257" r="5" fill="#1e1e1e"/>
<circle cx="298" cy="288" r="5" fill="#2a2a2a"/>
<circle cx="250" cy="313" r="4" fill="#1e1e1e"/>
<circle cx="419" cy="345" r="3" fill="#1e1e1e"/>
<circle cx="292" cy="241" r="3" fill="#1e1e1e"/>
<circle cx="327" cy="393" r="5" fill="#1e1e1e"/>
<circle cx="336" cy="325" r="4" fill="#1e1e1e"/>
<circle cx="366" cy="340" r="5" fill="#1e1e1e"/>
<circle cx="365" cy="259" r="5" fill="#2a2a2a"/>
<circle cx="230" cy="338" r="5" fill="#2a2a2a"/>
<circle cx="311" cy="403" r="4" fill="#1e1e1e"/>
<circle cx="371" cy="308" r="5" fill="#2a2a2a"/>
<circle cx="273" cy="372" r="3" fill="#2a2a2a"/>
<circle cx="329" cy="274" r="5" fill="#1e1e1e"/>
<circle cx="309" cy="329" r="4" fill="#2a2a2a"/>
<circle cx="346" cy="241" r="6" fill="#2a2a2a"/>
<circle cx="271" cy="263" r="6" fill="#1e1e1e"/>
<circle cx="394" cy="326" r="3" fill="#1e1e1e"/>
<circle cx="312" cy="351" r="4" fill="#2a2a2a"/>
<circle cx="238" cy="285" r="4" fill="#1e1e1e"/>
<circle cx="367" cy="285" r="5" fill="#2a2a2a"/>
<circle cx="281" cy="390" r="4" fill="#2a2a2a"/>
<circle cx="242" cy="276" r="4" fill="#2a2a2a"/>
<circle cx="368" cy="340" r="6" fill="#2a2a2a"/>
<circle cx="308" cy="400" r="3" fill="#2a2a2a"/>
<circle cx="361" cy="396" r="4" fill="#8a8a8a"/>
<circle cx="176" cy="338" r="3" fill="#8a8a8a"/>
<circle cx="394" cy="206" r="7" fill="#8a8a8a"/>
<circle cx="264" cy="404" r="7" fill="#8a8a8a"/>
<circle cx="282" cy="397" r="6" fill="#7c7c7c"/>
<circle cx="378" cy="397" r="4" fill="#7c7c7c"/>
<circle cx="338" cy="335" r="3" fill="#8a8a8a"/>
<circle cx="220" cy="414" r="3" fill="#8a8a8a"/>
<circle cx="195" cy="313" r="4" fill="#7c7c7c"/>
<circle cx="413" cy="201" r="6" fill="#8a8a8a"/>
<circle cx="140" cy="278" r="4" fill="#8a8a8a"/>
<circle cx="222" cy="177" r="5" fill="#8a8a8a"/>
<circle cx="276" cy="198" r="5" fill="#8a8a8a"/>
<circle cx="296" cy="192" r="6" fill="#7c7c7c"/>
<circle cx="219" cy="294" r="4" fill="#8a8a8a"/>
<circle cx="390" cy="247" r="5" fill="#7c7c7c"/>
<circle cx="196" cy="173" r="5" fill="#7c7c7c"/>
<circle cx="229" cy="411" r="7" fill="#8a8a8a"/>
<circle cx="128" cy="263" r="4" fill="#7c7c7c"/>
<circle cx="136" cy="222" r="5" fill="#7c7c7c"/>
<circle cx="299" cy="306" r="5" fill="#7c7c7c"/>
<circle cx="405" cy="206" r="4" fill="#8a8a8a"/>
<circle cx="227" cy="418" r="6" fill="#8a8a8a"/>
<circle cx="249" cy="244" r="4" fill="#7c7c7c"/>
<circle cx="243" cy="368" r="4" fill="#8a8a8a"/>
<circle cx="248" cy="117" r="5" fill="#8a8a8a"/>
<circle cx="167" cy="189" r="4" fill="#8a8a8a"/>
<circle cx="136" cy="190" r="3" fill="#7c7c7c"/>
<circle cx="390" cy="145" r="4" fill="#8a8a8a"/>
<circle cx="384" cy="370" r="5" fill="#7c7c7c"/>
<circle cx="293" cy="214" r="6" fill="#7c7c7c"/>
<circle cx="271" cy="239" r="7" fill="#8a8a8a"/>
<circle cx="228" cy="175" r="4" fill="#8a8a8a"/>
<circle cx="264" cy="226" r="7" fill="#8a8a8a"/>
<circle cx="335" cy="156" r="3" fill="#8a8a8a"/>
<circle cx="434" cy="267" r="4" fill="#7c7c7c"/>
<circle cx="456" cy="302" r="5" fill="#7c7c7c"/>
<circle cx="460" cy="265" r="6" fill="#8a8a8a"/>
<circle cx="175" cy="390" r="3" fill="#7c7c7c"/>
<circle cx="216" cy="341" r="6" fill="#8a8a8a"/>
<circle cx="425" cy="200" r="4" fill="#7c7c7c"/>
<circle cx="303" cy="430" r="4" fill="#7c7c7c"/>
<circle cx="439" cy="234" r="4" fill="#7c7c7c"/>
<circle cx="225" cy="139" r="5" fill="#7c7c7c"/>
<circle cx="234" cy="263" r="5" fill="#8a8a8a"/>
<circle cx="384" cy="325" r="5" fill="#8a8a8a"/>
<circle cx="315" cy="232" r="4" fill="#8a8a8a"/>
<circle cx="234" cy="432" r="6" fill="#8a8a8a"/>
<circle cx="291" cy="318" r="6" fill="#8a8a8a"/>
<circle cx="206" cy="399" r="4" fill="#8a8a8a"/>
<circle cx="208" cy="307" r="5" fill="#8a8a8a"/>
<circle cx="279" cy="112" r="5" fill="#7c7c7c"/>
<circle cx="157" cy="293" r="4" fill="#7c7c7c"/>
<circle cx="444" cy="316" r="6" fill="#7c7c7c"/>
<circle cx="330" cy="171" r="5" fill="#8a8a8a"/>
<circle cx="169" cy="253" r="7" fill="#7c7c7c"/>
<circle cx="306" cy="269" r="4" fill="#8a8a8a"/>
<circle cx="274" cy="361" r="6" fill="#8a8a8a"/>
<circle cx="400" cy="399" r="7" fill="#8a8a8a"/>
<circle cx="305" cy="281" r="5" fill="#8a8a8a"/>
<circle cx="369" cy="394" r="6" fill="#7c7c7c"/>
<circle cx="312" cy="168" r="4" fill="#7c7c7c"/>
<circle cx="328" cy="153" r="4" fill="#7c7c7c"/>
<circle cx="257" cy="174" r="7" fill="#8a8a8a"/>
<circle cx="262" cy="401" r="4" fill="#8a8a8a"/>
<circle cx="277" cy="184" r="4" fill="#8a8a8a"/>
<circle cx="286" cy="364" r="5" fill="#8a8a8a"/>
<circle cx="205" cy="355" r="4" fill="#7c7c7c"/>
<circle cx="297" cy="209" r="4" fill="#7c7c7c"/>
<circle cx="143" cy="257" r="4" fill="#7c7c7c"/>
<circle cx="364" cy="409" r="4" fill="#7c7c7c"/>
<circle cx="325" cy="279" r="3" fill="#8a8a8a"/>
<circle cx="261" cy="270" r="3" fill="#7c7c7c"/>
<circle cx="368" cy="314" r="5" fill="#7c7c7c"/>
<circle cx="141" cy="270" r="6" fill="#8a8a8a"/>
<circle cx="382" cy="330" r="6" fill="#7c7c7c"/>
<circle cx="332" cy="121" r="4" fill="#8a8a8a"/>
<circle cx="319" cy="420" r="4" fill="#8a8a8a"/>
<circle cx="313" cy="312" r="3" fill="#7c7c7c"/>
<circle cx="373" cy="222" r="4" fill="#7c7c7c"/>
</g></g>
<g filter="url(#soft)"><g transform="translate(103 97) scale(0.165371)">
<circle cx="300" cy="250" r="10" fill="#e6e6e6"/>
<circle cx="330" cy="265" r="11" fill="#e6e6e6"/>
<circle cx="350" cy="240" r="8" fill="#e6e6e6"/>
<circle cx="385" cy="290" r="13" fill="#e6e6e6"/>
<circle cx="395" cy="320" r="16" fill="#e6e6e6"/>
<circle cx="360" cy="330" r="10" fill="#e6e6e6"/>
<circle cx="250" cy="290" r="13" fill="#e6e6e6"/>
<circle cx="270" cy="320" r="10" fill="#e6e6e6"/>
<circle cx="235" cy="320" r="10" fill="#e6e6e6"/>
<circle cx="300" cy="300" r="8" fill="#e6e6e6"/>
<circle cx="330" cy="300" r="10" fill="#e6e6e6"/>
<circle cx="350" cy="375" r="15" fill="#e6e6e6"/>
<circle cx="430" cy="260" r="12" fill="#e6e6e6"/>
<circle cx="425" cy="370" r="15" fill="#e6e6e6"/>
<circle cx="300" cy="345" r="8" fill="#e6e6e6"/>
<circle cx="275" cy="355" r="11" fill="#e6e6e6"/>
<circle cx="220" cy="340" r="8" fill="#e6e6e6"/>
<circle cx="260" cy="260" r="8" fill="#e6e6e6"/>
<circle cx="315" cy="225" r="7" fill="#e6e6e6"/>
<circle cx="370" cy="355" r="8" fill="#e6e6e6"/>
<circle cx="405" cy="345" r="8" fill="#e6e6e6"/>
<circle cx="440" cy="300" r="10" fill="#e6e6e6"/>
<circle cx="320" cy="395" r="10" fill="#e6e6e6"/>
<circle cx="285" cy="410" r="8" fill="#e6e6e6"/>
<circle cx="345" cy="280" r="7" fill="#e6e6e6"/>
<circle cx="380" cy="255" r="8" fill="#e6e6e6"/>
<path d="M210,320 L230,355 L245,320" stroke="#111" stroke-width="8" fill="none"/>
<rect x="400" y="497" width="60" height="6" fill="#222"/>
</g></g>
</g>
<rect x="106.00" y="100.80" width="81.40" height="81.20" fill="none" stroke="#1e1e1e" stroke-width="1.4"/>
<g clip-path="url(#cp21)"><g filter="url(#gr21)"><g transform="translate(189 97) scale(0.165371)">
<rect x="0" y="0" width="520" height="520" fill="#c4c4c4"/>
<path d="M100,15 L330,15 Q320,65 220,70 Q130,65 100,15 Z" fill="#5a5a5a"/>
<path d="M400,15 L520,15 L520,185 Q450,170 420,110 Q400,60 400,15 Z" fill="#4a4a4a"/>
<circle cx="449" cy="116" r="5" fill="#2a2a2a"/>
<circle cx="464" cy="120" r="5" fill="#2a2a2a"/>
<circle cx="476" cy="39" r="7" fill="#777"/>
<circle cx="463" cy="49" r="7" fill="#2a2a2a"/>
<circle cx="450" cy="48" r="6" fill="#777"/>
<circle cx="470" cy="55" r="8" fill="#777"/>
<circle cx="468" cy="97" r="9" fill="#2a2a2a"/>
<circle cx="446" cy="49" r="8" fill="#777"/>
<circle cx="497" cy="111" r="5" fill="#777"/>
<circle cx="483" cy="47" r="7" fill="#2a2a2a"/>
<circle cx="458" cy="57" r="5" fill="#777"/>
<circle cx="458" cy="111" r="6" fill="#2a2a2a"/>
<circle cx="489" cy="63" r="5" fill="#777"/>
<circle cx="502" cy="104" r="7" fill="#2a2a2a"/>
<circle cx="477" cy="60" r="6" fill="#2a2a2a"/>
<circle cx="421" cy="48" r="6" fill="#777"/>
<circle cx="489" cy="99" r="5" fill="#2a2a2a"/>
<circle cx="497" cy="109" r="9" fill="#2a2a2a"/>
<circle cx="444" cy="120" r="8" fill="#777"/>
<circle cx="416" cy="106" r="7" fill="#777"/>
<circle cx="508" cy="89" r="7" fill="#2a2a2a"/>
<circle cx="459" cy="132" r="7" fill="#777"/>
<circle cx="435" cy="127" r="9" fill="#777"/>
<circle cx="434" cy="34" r="7" fill="#777"/>
<circle cx="415" cy="106" r="5" fill="#2a2a2a"/>
<circle cx="479" cy="98" r="7" fill="#777"/>
<circle cx="433" cy="47" r="7" fill="#777"/>
<circle cx="482" cy="85" r="5" fill="#2a2a2a"/>
<circle cx="462" cy="69" r="5" fill="#777"/>
<circle cx="479" cy="101" r="5" fill="#2a2a2a"/>
<circle cx="483" cy="49" r="5" fill="#777"/>
<circle cx="430" cy="145" r="6" fill="#2a2a2a"/>
<circle cx="502" cy="58" r="9" fill="#2a2a2a"/>
<circle cx="413" cy="106" r="8" fill="#777"/>
<circle cx="464" cy="81" r="8" fill="#2a2a2a"/>
<circle cx="450" cy="134" r="6" fill="#2a2a2a"/>
<circle cx="434" cy="65" r="5" fill="#777"/>
<circle cx="421" cy="50" r="9" fill="#777"/>
<circle cx="499" cy="83" r="7" fill="#2a2a2a"/>
<circle cx="452" cy="30" r="5" fill="#777"/>
<path d="M0,90 Q70,95 80,150 Q70,240 20,260 L0,260 Z" fill="#2a2a2a"/>
<circle cx="35" cy="210" r="22" fill="#c8c8c8"/>
<path d="M380,430 Q440,415 520,420 L520,520 L380,520 Z" fill="#3c3c3c"/>
<circle cx="426" cy="502" r="6" fill="#222"/>
<circle cx="402" cy="471" r="8" fill="#777"/>
<circle cx="481" cy="440" r="4" fill="#222"/>
<circle cx="395" cy="458" r="5" fill="#777"/>
<circle cx="477" cy="469" r="7" fill="#777"/>
<circle cx="458" cy="476" r="8" fill="#777"/>
<circle cx="418" cy="456" r="5" fill="#777"/>
<circle cx="491" cy="453" r="7" fill="#777"/>
<circle cx="421" cy="474" r="5" fill="#222"/>
<circle cx="473" cy="506" r="6" fill="#222"/>
<circle cx="464" cy="472" r="7" fill="#222"/>
<circle cx="436" cy="476" r="6" fill="#222"/>
<circle cx="463" cy="496" r="7" fill="#222"/>
<circle cx="465" cy="507" r="6" fill="#222"/>
<circle cx="504" cy="477" r="9" fill="#777"/>
<circle cx="483" cy="463" r="5" fill="#777"/>
<circle cx="400" cy="455" r="5" fill="#777"/>
<circle cx="426" cy="503" r="7" fill="#222"/>
<circle cx="406" cy="485" r="5" fill="#777"/>
<circle cx="435" cy="496" r="4" fill="#222"/>
<circle cx="462" cy="446" r="7" fill="#777"/>
<circle cx="435" cy="439" r="6" fill="#222"/>
<circle cx="418" cy="465" r="6" fill="#222"/>
<circle cx="420" cy="474" r="5" fill="#222"/>
<circle cx="477" cy="440" r="5" fill="#777"/>
<circle cx="480" cy="436" r="7" fill="#222"/>
<circle cx="450" cy="435" r="5" fill="#222"/>
<circle cx="428" cy="487" r="7" fill="#222"/>
<circle cx="457" cy="432" r="9" fill="#222"/>
<circle cx="400" cy="488" r="9" fill="#777"/>
<ellipse cx="255" cy="270" rx="195" ry="198" fill="#7e7e7e" stroke="#4a4a4a" stroke-width="8"/>
<circle cx="359" cy="420" r="3" fill="#6a6a6a"/>
<circle cx="139" cy="275" r="6" fill="#959595"/>
<circle cx="277" cy="340" r="6" fill="#959595"/>
<circle cx="365" cy="423" r="5" fill="#5e5e5e"/>
<circle cx="260" cy="378" r="4" fill="#959595"/>
<circle cx="141" cy="379" r="5" fill="#6a6a6a"/>
<circle cx="136" cy="353" r="5" fill="#959595"/>
<circle cx="225" cy="299" r="4" fill="#959595"/>
<circle cx="411" cy="385" r="7" fill="#959595"/>
<circle cx="295" cy="267" r="6" fill="#6a6a6a"/>
<circle cx="258" cy="319" r="7" fill="#5e5e5e"/>
<circle cx="184" cy="346" r="4" fill="#6a6a6a"/>
<circle cx="161" cy="300" r="8" fill="#6a6a6a"/>
<circle cx="81" cy="301" r="5" fill="#6a6a6a"/>
<circle cx="278" cy="385" r="3" fill="#6a6a6a"/>
<circle cx="239" cy="264" r="7" fill="#5e5e5e"/>
<circle cx="353" cy="428" r="4" fill="#6a6a6a"/>
<circle cx="175" cy="277" r="3" fill="#959595"/>
<circle cx="324" cy="439" r="3" fill="#5e5e5e"/>
<circle cx="254" cy="229" r="6" fill="#959595"/>
<circle cx="223" cy="255" r="5" fill="#5e5e5e"/>
<circle cx="125" cy="318" r="4" fill="#5e5e5e"/>
<circle cx="321" cy="283" r="5" fill="#6a6a6a"/>
<circle cx="162" cy="233" r="5" fill="#959595"/>
<circle cx="204" cy="237" r="6" fill="#959595"/>
<circle cx="307" cy="306" r="3" fill="#6a6a6a"/>
<circle cx="266" cy="356" r="6" fill="#6a6a6a"/>
<circle cx="203" cy="432" r="6" fill="#5e5e5e"/>
<circle cx="333" cy="390" r="4" fill="#5e5e5e"/>
<circle cx="336" cy="372" r="6" fill="#6a6a6a"/>
<circle cx="268" cy="348" r="3" fill="#6a6a6a"/>
<circle cx="227" cy="313" r="6" fill="#6a6a6a"/>
<circle cx="254" cy="385" r="7" fill="#959595"/>
<circle cx="327" cy="387" r="3" fill="#5e5e5e"/>
<circle cx="137" cy="384" r="8" fill="#959595"/>
<circle cx="262" cy="361" r="7" fill="#6a6a6a"/>
<circle cx="259" cy="299" r="7" fill="#5e5e5e"/>
<circle cx="228" cy="354" r="6" fill="#5e5e5e"/>
<circle cx="316" cy="287" r="7" fill="#6a6a6a"/>
<circle cx="404" cy="391" r="5" fill="#5e5e5e"/>
<circle cx="211" cy="230" r="4" fill="#5e5e5e"/>
<circle cx="154" cy="390" r="5" fill="#959595"/>
<circle cx="216" cy="274" r="7" fill="#959595"/>
<circle cx="217" cy="312" r="4" fill="#5e5e5e"/>
<circle cx="236" cy="343" r="3" fill="#6a6a6a"/>
<circle cx="192" cy="253" r="5" fill="#6a6a6a"/>
<circle cx="385" cy="376" r="7" fill="#6a6a6a"/>
<circle cx="197" cy="245" r="6" fill="#5e5e5e"/>
<circle cx="267" cy="355" r="4" fill="#6a6a6a"/>
<circle cx="383" cy="396" r="7" fill="#5e5e5e"/>
<circle cx="303" cy="385" r="4" fill="#959595"/>
<circle cx="168" cy="236" r="5" fill="#959595"/>
<circle cx="264" cy="366" r="6" fill="#959595"/>
<circle cx="316" cy="434" r="6" fill="#6a6a6a"/>
<circle cx="282" cy="230" r="7" fill="#6a6a6a"/>
<circle cx="415" cy="324" r="8" fill="#5e5e5e"/>
<circle cx="255" cy="391" r="7" fill="#959595"/>
<circle cx="206" cy="367" r="3" fill="#6a6a6a"/>
<circle cx="94" cy="330" r="7" fill="#5e5e5e"/>
<circle cx="223" cy="322" r="5" fill="#959595"/>
<circle cx="124" cy="361" r="6" fill="#6a6a6a"/>
<circle cx="418" cy="370" r="3" fill="#5e5e5e"/>
<circle cx="345" cy="307" r="8" fill="#959595"/>
<circle cx="313" cy="237" r="4" fill="#959595"/>
<circle cx="246" cy="265" r="3" fill="#6a6a6a"/>
<circle cx="297" cy="241" r="4" fill="#6a6a6a"/>
<circle cx="332" cy="349" r="3" fill="#6a6a6a"/>
<circle cx="216" cy="356" r="4" fill="#959595"/>
<circle cx="208" cy="294" r="8" fill="#5e5e5e"/>
<circle cx="285" cy="389" r="8" fill="#5e5e5e"/>
<circle cx="306" cy="257" r="7" fill="#5e5e5e"/>
<circle cx="254" cy="217" r="8" fill="#6a6a6a"/>
<circle cx="80" cy="337" r="3" fill="#959595"/>
<circle cx="350" cy="387" r="5" fill="#6a6a6a"/>
<circle cx="386" cy="372" r="8" fill="#959595"/>
<circle cx="154" cy="255" r="6" fill="#6a6a6a"/>
<circle cx="389" cy="377" r="5" fill="#6a6a6a"/>
<circle cx="346" cy="239" r="7" fill="#5e5e5e"/>
<circle cx="348" cy="428" r="7" fill="#959595"/>
<circle cx="263" cy="425" r="6" fill="#959595"/>
<circle cx="207" cy="293" r="5" fill="#959595"/>
<circle cx="104" cy="340" r="4" fill="#959595"/>
<circle cx="320" cy="388" r="6" fill="#959595"/>
<circle cx="386" cy="270" r="7" fill="#5e5e5e"/>
<circle cx="121" cy="398" r="7" fill="#959595"/>
<circle cx="214" cy="263" r="6" fill="#5e5e5e"/>
<circle cx="245" cy="300" r="7" fill="#959595"/>
<circle cx="372" cy="317" r="3" fill="#6a6a6a"/>
<circle cx="236" cy="220" r="4" fill="#959595"/>
<circle cx="262" cy="290" r="4" fill="#6a6a6a"/>
<circle cx="255" cy="395" r="6" fill="#5e5e5e"/>
<circle cx="327" cy="325" r="7" fill="#959595"/>
<circle cx="215" cy="224" r="4" fill="#5e5e5e"/>
<circle cx="247" cy="427" r="5" fill="#959595"/>
<circle cx="262" cy="289" r="5" fill="#6a6a6a"/>
<circle cx="152" cy="404" r="3" fill="#959595"/>
<circle cx="359" cy="358" r="3" fill="#6a6a6a"/>
<circle cx="275" cy="314" r="7" fill="#5e5e5e"/>
<circle cx="280" cy="365" r="5" fill="#959595"/>
<circle cx="322" cy="366" r="7" fill="#5e5e5e"/>
<circle cx="169" cy="249" r="6" fill="#5e5e5e"/>
<circle cx="403" cy="265" r="3" fill="#959595"/>
<circle cx="206" cy="432" r="7" fill="#5e5e5e"/>
<circle cx="213" cy="301" r="4" fill="#6a6a6a"/>
<circle cx="419" cy="323" r="7" fill="#5e5e5e"/>
<circle cx="193" cy="267" r="5" fill="#5e5e5e"/>
<circle cx="324" cy="223" r="8" fill="#5e5e5e"/>
<circle cx="124" cy="371" r="8" fill="#5e5e5e"/>
<circle cx="84" cy="309" r="3" fill="#5e5e5e"/>
<circle cx="355" cy="248" r="3" fill="#959595"/>
<circle cx="205" cy="240" r="6" fill="#6a6a6a"/>
<circle cx="249" cy="293" r="5" fill="#959595"/>
<circle cx="276" cy="350" r="3" fill="#959595"/>
<circle cx="428" cy="350" r="5" fill="#959595"/>
<circle cx="221" cy="308" r="4" fill="#959595"/>
<circle cx="324" cy="317" r="7" fill="#5e5e5e"/>
<circle cx="361" cy="394" r="7" fill="#5e5e5e"/>
<circle cx="198" cy="219" r="5" fill="#959595"/>
<circle cx="328" cy="294" r="3" fill="#5e5e5e"/>
<circle cx="182" cy="362" r="8" fill="#5e5e5e"/>
<circle cx="214" cy="237" r="4" fill="#6a6a6a"/>
<circle cx="221" cy="303" r="8" fill="#6a6a6a"/>
<circle cx="326" cy="261" r="6" fill="#6a6a6a"/>
<circle cx="347" cy="339" r="6" fill="#6a6a6a"/>
<circle cx="162" cy="249" r="7" fill="#6a6a6a"/>
<circle cx="246" cy="282" r="6" fill="#6a6a6a"/>
<circle cx="325" cy="322" r="7" fill="#5e5e5e"/>
<circle cx="371" cy="345" r="7" fill="#959595"/>
<circle cx="223" cy="259" r="7" fill="#5e5e5e"/>
<circle cx="218" cy="374" r="6" fill="#5e5e5e"/>
<circle cx="118" cy="325" r="8" fill="#5e5e5e"/>
<circle cx="357" cy="411" r="8" fill="#959595"/>
<circle cx="380" cy="260" r="6" fill="#959595"/>
<circle cx="143" cy="306" r="4" fill="#5e5e5e"/>
<circle cx="307" cy="434" r="3" fill="#5e5e5e"/>
<circle cx="199" cy="284" r="5" fill="#959595"/>
<circle cx="339" cy="385" r="4" fill="#959595"/>
<circle cx="203" cy="230" r="7" fill="#6a6a6a"/>
<circle cx="240" cy="431" r="4" fill="#959595"/>
<circle cx="270" cy="326" r="7" fill="#959595"/>
<circle cx="123" cy="374" r="6" fill="#6a6a6a"/>
<circle cx="267" cy="433" r="6" fill="#5e5e5e"/>
<circle cx="211" cy="417" r="8" fill="#5e5e5e"/>
<circle cx="338" cy="402" r="8" fill="#6a6a6a"/>
<circle cx="254" cy="256" r="6" fill="#6a6a6a"/>
<circle cx="403" cy="267" r="8" fill="#6a6a6a"/>
<circle cx="252" cy="290" r="7" fill="#6a6a6a"/>
<circle cx="228" cy="271" r="3" fill="#959595"/>
<circle cx="229" cy="270" r="3" fill="#959595"/>
<circle cx="105" cy="344" r="5" fill="#5e5e5e"/>
<circle cx="234" cy="223" r="5" fill="#6a6a6a"/>
<circle cx="209" cy="224" r="5" fill="#5e5e5e"/>
<circle cx="184" cy="354" r="5" fill="#5e5e5e"/>
<circle cx="187" cy="341" r="8" fill="#6a6a6a"/>
<circle cx="146" cy="274" r="4" fill="#959595"/>
<circle cx="243" cy="422" r="8" fill="#959595"/>
<circle cx="244" cy="322" r="6" fill="#6a6a6a"/>
<circle cx="336" cy="355" r="5" fill="#5e5e5e"/>
<circle cx="370" cy="372" r="7" fill="#959595"/>
<circle cx="433" cy="335" r="3" fill="#6a6a6a"/>
<ellipse cx="255" cy="165" rx="170" ry="85" fill="#626262"/>
<circle cx="278" cy="186" r="9" fill="#3e3e3e"/>
<circle cx="248" cy="226" r="7" fill="#4a4a4a"/>
<circle cx="152" cy="189" r="8" fill="#4a4a4a"/>
<circle cx="196" cy="195" r="7" fill="#3e3e3e"/>
<circle cx="401" cy="187" r="6" fill="#3e3e3e"/>
<circle cx="261" cy="229" r="8" fill="#4a4a4a"/>
<circle cx="313" cy="215" r="6" fill="#3e3e3e"/>
<circle cx="273" cy="194" r="5" fill="#2e2e2e"/>
<circle cx="195" cy="227" r="10" fill="#2e2e2e"/>
<circle cx="337" cy="105" r="6" fill="#2e2e2e"/>
<circle cx="259" cy="136" r="6" fill="#4a4a4a"/>
<circle cx="190" cy="148" r="5" fill="#2e2e2e"/>
<circle cx="380" cy="143" r="8" fill="#4a4a4a"/>
<circle cx="275" cy="105" r="5" fill="#2e2e2e"/>
<circle cx="225" cy="141" r="9" fill="#4a4a4a"/>
<circle cx="306" cy="158" r="7" fill="#3e3e3e"/>
<circle cx="285" cy="158" r="9" fill="#3e3e3e"/>
<circle cx="113" cy="162" r="6" fill="#3e3e3e"/>
<circle cx="95" cy="172" r="7" fill="#3e3e3e"/>
<circle cx="331" cy="162" r="8" fill="#4a4a4a"/>
<circle cx="397" cy="130" r="6" fill="#4a4a4a"/>
<circle cx="224" cy="161" r="8" fill="#3e3e3e"/>
<circle cx="218" cy="206" r="6" fill="#3e3e3e"/>
<circle cx="392" cy="136" r="10" fill="#4a4a4a"/>
<circle cx="147" cy="201" r="6" fill="#3e3e3e"/>
<circle cx="233" cy="215" r="10" fill="#3e3e3e"/>
<circle cx="338" cy="179" r="7" fill="#4a4a4a"/>
<circle cx="296" cy="200" r="5" fill="#2e2e2e"/>
<circle cx="353" cy="221" r="4" fill="#2e2e2e"/>
<circle cx="156" cy="115" r="10" fill="#2e2e2e"/>
<circle cx="111" cy="194" r="4" fill="#3e3e3e"/>
<circle cx="226" cy="232" r="9" fill="#2e2e2e"/>
<circle cx="241" cy="210" r="8" fill="#2e2e2e"/>
<circle cx="351" cy="121" r="5" fill="#3e3e3e"/>
<circle cx="255" cy="134" r="4" fill="#4a4a4a"/>
<circle cx="294" cy="137" r="5" fill="#3e3e3e"/>
<circle cx="122" cy="147" r="9" fill="#3e3e3e"/>
<circle cx="157" cy="106" r="5" fill="#3e3e3e"/>
<circle cx="265" cy="107" r="7" fill="#3e3e3e"/>
<circle cx="242" cy="187" r="5" fill="#2e2e2e"/>
<circle cx="151" cy="203" r="5" fill="#4a4a4a"/>
<circle cx="238" cy="146" r="6" fill="#4a4a4a"/>
<circle cx="179" cy="207" r="6" fill="#3e3e3e"/>
<circle cx="303" cy="238" r="6" fill="#3e3e3e"/>
<circle cx="352" cy="168" r="9" fill="#3e3e3e"/>
<circle cx="293" cy="205" r="9" fill="#3e3e3e"/>
<circle cx="152" cy="117" r="9" fill="#3e3e3e"/>
<circle cx="373" cy="198" r="6" fill="#3e3e3e"/>
<circle cx="389" cy="185" r="5" fill="#4a4a4a"/>
<circle cx="323" cy="146" r="7" fill="#4a4a4a"/>
<circle cx="222" cy="101" r="9" fill="#2e2e2e"/>
<circle cx="182" cy="217" r="5" fill="#2e2e2e"/>
<circle cx="217" cy="161" r="5" fill="#3e3e3e"/>
<circle cx="133" cy="123" r="9" fill="#4a4a4a"/>
<circle cx="227" cy="109" r="9" fill="#4a4a4a"/>
<circle cx="265" cy="146" r="8" fill="#3e3e3e"/>
<circle cx="253" cy="166" r="6" fill="#4a4a4a"/>
<circle cx="414" cy="154" r="8" fill="#4a4a4a"/>
<circle cx="168" cy="126" r="6" fill="#3e3e3e"/>
<circle cx="190" cy="217" r="10" fill="#3e3e3e"/>
<circle cx="355" cy="116" r="7" fill="#2e2e2e"/>
<circle cx="173" cy="154" r="7" fill="#3e3e3e"/>
<circle cx="206" cy="104" r="4" fill="#3e3e3e"/>
<circle cx="170" cy="201" r="8" fill="#4a4a4a"/>
<circle cx="285" cy="217" r="6" fill="#2e2e2e"/>
<circle cx="185" cy="103" r="9" fill="#2e2e2e"/>
<circle cx="111" cy="152" r="6" fill="#2e2e2e"/>
<circle cx="233" cy="167" r="6" fill="#3e3e3e"/>
<circle cx="206" cy="239" r="8" fill="#4a4a4a"/>
<circle cx="272" cy="203" r="8" fill="#3e3e3e"/>
<circle cx="238" cy="134" r="6" fill="#4a4a4a"/>
<circle cx="200" cy="114" r="10" fill="#4a4a4a"/>
<circle cx="192" cy="200" r="7" fill="#3e3e3e"/>
<circle cx="206" cy="205" r="6" fill="#4a4a4a"/>
<circle cx="284" cy="135" r="8" fill="#2e2e2e"/>
<circle cx="227" cy="202" r="9" fill="#2e2e2e"/>
<circle cx="307" cy="151" r="5" fill="#4a4a4a"/>
<circle cx="376" cy="180" r="7" fill="#2e2e2e"/>
<circle cx="314" cy="163" r="5" fill="#4a4a4a"/>
<circle cx="299" cy="116" r="6" fill="#4a4a4a"/>
<circle cx="182" cy="183" r="7" fill="#4a4a4a"/>
<circle cx="204" cy="235" r="5" fill="#4a4a4a"/>
<circle cx="147" cy="108" r="8" fill="#4a4a4a"/>
<circle cx="298" cy="189" r="8" fill="#4a4a4a"/>
<circle cx="388" cy="180" r="7" fill="#3e3e3e"/>
<circle cx="215" cy="213" r="6" fill="#3e3e3e"/>
<circle cx="390" cy="196" r="7" fill="#3e3e3e"/>
<circle cx="364" cy="203" r="7" fill="#4a4a4a"/>
<circle cx="272" cy="218" r="5" fill="#2e2e2e"/>
<circle cx="270" cy="206" r="7" fill="#4a4a4a"/>
<circle cx="285" cy="127" r="6" fill="#4a4a4a"/>
<circle cx="206" cy="190" r="5" fill="#2e2e2e"/>
<circle cx="211" cy="107" r="7" fill="#2e2e2e"/>
<circle cx="360" cy="174" r="8" fill="#2e2e2e"/>
<circle cx="100" cy="173" r="6" fill="#3e3e3e"/>
<circle cx="215" cy="140" r="7" fill="#4a4a4a"/>
<circle cx="200" cy="112" r="4" fill="#3e3e3e"/>
<circle cx="271" cy="89" r="7" fill="#2e2e2e"/>
<circle cx="278" cy="154" r="9" fill="#3e3e3e"/>
<circle cx="221" cy="210" r="7" fill="#2e2e2e"/>
<circle cx="287" cy="221" r="7" fill="#3e3e3e"/>
<circle cx="216" cy="197" r="9" fill="#4a4a4a"/>
<circle cx="202" cy="145" r="8" fill="#2e2e2e"/>
<circle cx="192" cy="143" r="9" fill="#2e2e2e"/>
<circle cx="339" cy="230" r="8" fill="#3e3e3e"/>
<circle cx="164" cy="195" r="4" fill="#2e2e2e"/>
<circle cx="269" cy="222" r="7" fill="#4a4a4a"/>
<circle cx="361" cy="191" r="9" fill="#4a4a4a"/>
<circle cx="359" cy="212" r="10" fill="#2e2e2e"/>
<circle cx="361" cy="188" r="10" fill="#3e3e3e"/>
<circle cx="223" cy="115" r="7" fill="#3e3e3e"/>
<circle cx="237" cy="231" r="9" fill="#3e3e3e"/>
<circle cx="345" cy="155" r="6" fill="#4a4a4a"/>
<circle cx="96" cy="163" r="9" fill="#4a4a4a"/>
<circle cx="174" cy="107" r="10" fill="#3e3e3e"/>
<circle cx="232" cy="244" r="5" fill="#3e3e3e"/>
<circle cx="337" cy="126" r="10" fill="#2e2e2e"/>
<circle cx="352" cy="141" r="4" fill="#2e2e2e"/>
<circle cx="283" cy="204" r="4" fill="#3e3e3e"/>
<circle cx="337" cy="100" r="6" fill="#4a4a4a"/>
<circle cx="199" cy="158" r="7" fill="#4a4a4a"/>
<circle cx="294" cy="107" r="9" fill="#4a4a4a"/>
<circle cx="318" cy="148" r="8" fill="#4a4a4a"/>
<circle cx="345" cy="159" r="9" fill="#3e3e3e"/>
<circle cx="276" cy="239" r="9" fill="#4a4a4a"/>
<circle cx="254" cy="149" r="8" fill="#2e2e2e"/>
<circle cx="332" cy="106" r="8" fill="#2e2e2e"/>
<circle cx="388" cy="144" r="10" fill="#4a4a4a"/>
<circle cx="145" cy="172" r="6" fill="#3e3e3e"/>
<circle cx="118" cy="139" r="6" fill="#3e3e3e"/>
<circle cx="214" cy="232" r="6" fill="#3e3e3e"/>
<circle cx="213" cy="229" r="6" fill="#2e2e2e"/>
<circle cx="319" cy="139" r="5" fill="#2e2e2e"/>
<circle cx="210" cy="103" r="9" fill="#3e3e3e"/>
<circle cx="352" cy="180" r="9" fill="#3e3e3e"/>
<circle cx="334" cy="209" r="6" fill="#2e2e2e"/>
<circle cx="251" cy="106" r="6" fill="#2e2e2e"/>
<circle cx="405" cy="141" r="9" fill="#4a4a4a"/>
<circle cx="232" cy="139" r="8" fill="#2e2e2e"/>
<circle cx="226" cy="197" r="10" fill="#3e3e3e"/>
<circle cx="311" cy="170" r="5" fill="#4a4a4a"/>
<circle cx="184" cy="129" r="6" fill="#3e3e3e"/>
<circle cx="338" cy="101" r="5" fill="#3e3e3e"/>
<circle cx="409" cy="162" r="9" fill="#4a4a4a"/>
<circle cx="156" cy="186" r="5" fill="#4a4a4a"/>
<circle cx="212" cy="186" r="9" fill="#4a4a4a"/>
<circle cx="114" cy="147" r="6" fill="#2e2e2e"/>
<circle cx="346" cy="112" r="10" fill="#4a4a4a"/>
<circle cx="148" cy="205" r="7" fill="#4a4a4a"/>
<circle cx="130" cy="187" r="9" fill="#3e3e3e"/>
<circle cx="216" cy="92" r="9" fill="#2e2e2e"/>
<circle cx="230" cy="217" r="5" fill="#3e3e3e"/>
<circle cx="244" cy="157" r="9" fill="#3e3e3e"/>
<circle cx="192" cy="94" r="4" fill="#4a4a4a"/>
<circle cx="184" cy="194" r="10" fill="#4a4a4a"/>
<circle cx="168" cy="224" r="9" fill="#2e2e2e"/>
<circle cx="250" cy="88" r="9" fill="#4a4a4a"/>
<circle cx="357" cy="112" r="6" fill="#4a4a4a"/>
<circle cx="153" cy="159" r="7" fill="#2e2e2e"/>
<circle cx="253" cy="245" r="6" fill="#2e2e2e"/>
<circle cx="396" cy="200" r="10" fill="#4a4a4a"/>
<circle cx="162" cy="113" r="9" fill="#4a4a4a"/>
<circle cx="193" cy="128" r="6" fill="#3e3e3e"/>
<circle cx="238" cy="201" r="8" fill="#4a4a4a"/>
<circle cx="333" cy="217" r="6" fill="#4a4a4a"/>
<circle cx="215" cy="152" r="5" fill="#4a4a4a"/>
<circle cx="124" cy="118" r="9" fill="#3e3e3e"/>
<circle cx="267" cy="171" r="9" fill="#2e2e2e"/>
<circle cx="354" cy="191" r="8" fill="#2e2e2e"/>
<circle cx="225" cy="229" r="10" fill="#2e2e2e"/>
<circle cx="126" cy="124" r="8" fill="#3e3e3e"/>
<circle cx="296" cy="143" r="9" fill="#3e3e3e"/>
<circle cx="211" cy="240" r="6" fill="#4a4a4a"/>
<circle cx="292" cy="102" r="8" fill="#3e3e3e"/>
<circle cx="181" cy="154" r="8" fill="#3e3e3e"/>
<circle cx="270" cy="86" r="6" fill="#4a4a4a"/>
<circle cx="352" cy="210" r="8" fill="#4a4a4a"/>
<circle cx="124" cy="165" r="9" fill="#3e3e3e"/>
<circle cx="146" cy="152" r="8" fill="#2e2e2e"/>
<circle cx="146" cy="132" r="7" fill="#4a4a4a"/>
<circle cx="233" cy="135" r="6" fill="#4a4a4a"/>
<circle cx="112" cy="150" r="9" fill="#2e2e2e"/>
<circle cx="405" cy="139" r="5" fill="#4a4a4a"/>
<circle cx="268" cy="145" r="8" fill="#3e3e3e"/>
<circle cx="133" cy="197" r="6" fill="#2e2e2e"/>
<circle cx="140" cy="173" r="4" fill="#3e3e3e"/>
<circle cx="270" cy="156" r="7" fill="#4a4a4a"/>
<circle cx="325" cy="200" r="5" fill="#3e3e3e"/>
<circle cx="358" cy="175" r="7" fill="#2e2e2e"/>
<circle cx="308" cy="128" r="9" fill="#2e2e2e"/>
<circle cx="266" cy="116" r="8" fill="#4a4a4a"/>
<circle cx="287" cy="88" r="6" fill="#3e3e3e"/>
<circle cx="139" cy="203" r="5" fill="#4a4a4a"/>
<circle cx="280" cy="161" r="9" fill="#4a4a4a"/>
<circle cx="415" cy="160" r="10" fill="#4a4a4a"/>
<circle cx="200" cy="160" r="7" fill="#2e2e2e"/>
<circle cx="188" cy="166" r="7" fill="#3e3e3e"/>
<circle cx="274" cy="168" r="8" fill="#3e3e3e"/>
<circle cx="294" cy="90" r="8" fill="#3e3e3e"/>
<circle cx="413" cy="167" r="5" fill="#2e2e2e"/>
<circle cx="178" cy="109" r="9" fill="#3e3e3e"/>
<circle cx="261" cy="174" r="6" fill="#2e2e2e"/>
<circle cx="343" cy="201" r="5" fill="#2e2e2e"/>
<circle cx="184" cy="228" r="8" fill="#4a4a4a"/>
<circle cx="165" cy="154" r="7" fill="#4a4a4a"/>
<circle cx="414" cy="183" r="8" fill="#2e2e2e"/>
<circle cx="340" cy="120" r="7" fill="#2e2e2e"/>
<circle cx="374" cy="139" r="10" fill="#4a4a4a"/>
<circle cx="161" cy="121" r="6" fill="#3e3e3e"/>
<circle cx="342" cy="168" r="7" fill="#2e2e2e"/>
<circle cx="293" cy="215" r="8" fill="#3e3e3e"/>
<circle cx="150" cy="168" r="8" fill="#2e2e2e"/>
<circle cx="361" cy="110" r="6" fill="#2e2e2e"/>
<circle cx="365" cy="163" r="9" fill="#3e3e3e"/>
<circle cx="206" cy="222" r="5" fill="#3e3e3e"/>
<circle cx="278" cy="158" r="7" fill="#2e2e2e"/>
<circle cx="314" cy="144" r="6" fill="#2e2e2e"/>
<circle cx="126" cy="145" r="4" fill="#4a4a4a"/>
<circle cx="320" cy="182" r="9" fill="#3e3e3e"/>
<circle cx="405" cy="189" r="10" fill="#4a4a4a"/>
<circle cx="331" cy="193" r="4" fill="#2e2e2e"/>
<circle cx="385" cy="168" r="9" fill="#2e2e2e"/>
<circle cx="401" cy="145" r="6" fill="#4a4a4a"/>
<circle cx="370" cy="130" r="9" fill="#2e2e2e"/>
<circle cx="385" cy="164" r="6" fill="#4a4a4a"/>
<circle cx="169" cy="198" r="8" fill="#4a4a4a"/>
<circle cx="307" cy="144" r="5" fill="#3e3e3e"/>
<circle cx="205" cy="157" r="10" fill="#4a4a4a"/>
<circle cx="290" cy="240" r="8" fill="#4a4a4a"/>
<circle cx="140" cy="219" r="7" fill="#4a4a4a"/>
<circle cx="238" cy="212" r="9" fill="#4a4a4a"/>
<circle cx="246" cy="111" r="6" fill="#3e3e3e"/>
<circle cx="303" cy="100" r="10" fill="#2e2e2e"/>
<circle cx="167" cy="160" r="5" fill="#2e2e2e"/>
<circle cx="199" cy="148" r="9" fill="#2e2e2e"/>
<circle cx="239" cy="136" r="7" fill="#2e2e2e"/>
<circle cx="379" cy="117" r="8" fill="#4a4a4a"/>
<circle cx="334" cy="209" r="8" fill="#2e2e2e"/>
<circle cx="347" cy="104" r="6" fill="#4a4a4a"/>
<circle cx="309" cy="132" r="10" fill="#4a4a4a"/>
<circle cx="265" cy="179" r="7" fill="#8a8a8a"/>
<circle cx="381" cy="143" r="8" fill="#959595"/>
<circle cx="405" cy="140" r="6" fill="#8a8a8a"/>
<circle cx="122" cy="141" r="4" fill="#8a8a8a"/>
<circle cx="338" cy="99" r="4" fill="#959595"/>
<circle cx="334" cy="198" r="4" fill="#959595"/>
<circle cx="398" cy="179" r="7" fill="#959595"/>
<circle cx="216" cy="119" r="6" fill="#8a8a8a"/>
<circle cx="290" cy="177" r="6" fill="#959595"/>
<circle cx="168" cy="194" r="4" fill="#8a8a8a"/>
<circle cx="358" cy="130" r="4" fill="#959595"/>
<circle cx="148" cy="210" r="8" fill="#959595"/>
<circle cx="229" cy="159" r="5" fill="#959595"/>
<circle cx="136" cy="110" r="5" fill="#959595"/>
<circle cx="261" cy="179" r="5" fill="#8a8a8a"/>
<circle cx="225" cy="220" r="7" fill="#959595"/>
<circle cx="409" cy="183" r="7" fill="#8a8a8a"/>
<circle cx="225" cy="113" r="5" fill="#959595"/>
<circle cx="203" cy="143" r="5" fill="#959595"/>
<circle cx="259" cy="211" r="5" fill="#8a8a8a"/>
<circle cx="255" cy="241" r="7" fill="#959595"/>
<circle cx="342" cy="125" r="7" fill="#8a8a8a"/>
<circle cx="244" cy="114" r="7" fill="#959595"/>
<circle cx="243" cy="180" r="7" fill="#959595"/>
<circle cx="335" cy="157" r="7" fill="#959595"/>
<circle cx="296" cy="186" r="5" fill="#8a8a8a"/>
<circle cx="221" cy="236" r="5" fill="#8a8a8a"/>
<circle cx="365" cy="158" r="5" fill="#959595"/>
<circle cx="236" cy="128" r="6" fill="#8a8a8a"/>
<circle cx="311" cy="109" r="6" fill="#959595"/>
<circle cx="312" cy="130" r="8" fill="#959595"/>
<circle cx="250" cy="222" r="5" fill="#959595"/>
<circle cx="203" cy="210" r="5" fill="#959595"/>
<circle cx="315" cy="91" r="5" fill="#8a8a8a"/>
<circle cx="216" cy="159" r="4" fill="#8a8a8a"/>
<circle cx="281" cy="182" r="6" fill="#8a8a8a"/>
<circle cx="401" cy="176" r="7" fill="#959595"/>
<circle cx="342" cy="148" r="7" fill="#959595"/>
<circle cx="416" cy="170" r="7" fill="#959595"/>
<circle cx="205" cy="120" r="7" fill="#959595"/>
<circle cx="214" cy="232" r="7" fill="#8a8a8a"/>
<circle cx="322" cy="194" r="5" fill="#8a8a8a"/>
<circle cx="177" cy="142" r="5" fill="#959595"/>
<circle cx="212" cy="222" r="6" fill="#8a8a8a"/>
<circle cx="276" cy="133" r="6" fill="#959595"/>
<circle cx="206" cy="123" r="4" fill="#8a8a8a"/>
<circle cx="167" cy="144" r="7" fill="#8a8a8a"/>
<circle cx="313" cy="119" r="6" fill="#959595"/>
<circle cx="311" cy="95" r="6" fill="#959595"/>
<circle cx="283" cy="174" r="6" fill="#959595"/>
<circle cx="216" cy="144" r="7" fill="#959595"/>
<circle cx="259" cy="206" r="6" fill="#8a8a8a"/>
<circle cx="282" cy="213" r="4" fill="#8a8a8a"/>
<circle cx="317" cy="177" r="7" fill="#8a8a8a"/>
<circle cx="208" cy="236" r="4" fill="#8a8a8a"/>
<circle cx="366" cy="125" r="5" fill="#8a8a8a"/>
<circle cx="413" cy="170" r="6" fill="#8a8a8a"/>
<circle cx="222" cy="127" r="5" fill="#959595"/>
<circle cx="115" cy="148" r="8" fill="#959595"/>
<circle cx="304" cy="171" r="4" fill="#8a8a8a"/>
<circle cx="264" cy="224" r="8" fill="#8a8a8a"/>
<circle cx="207" cy="148" r="4" fill="#8a8a8a"/>
<circle cx="355" cy="205" r="4" fill="#8a8a8a"/>
<circle cx="229" cy="215" r="6" fill="#959595"/>
<circle cx="351" cy="199" r="4" fill="#959595"/>
<circle cx="311" cy="142" r="6" fill="#8a8a8a"/>
<circle cx="396" cy="153" r="6" fill="#959595"/>
<circle cx="265" cy="121" r="6" fill="#8a8a8a"/>
<circle cx="381" cy="173" r="4" fill="#959595"/>
<circle cx="406" cy="169" r="8" fill="#8a8a8a"/>
<circle cx="346" cy="125" r="8" fill="#959595"/>
<circle cx="211" cy="190" r="5" fill="#959595"/>
<circle cx="199" cy="176" r="4" fill="#959595"/>
<circle cx="230" cy="141" r="7" fill="#8a8a8a"/>
<circle cx="220" cy="237" r="6" fill="#959595"/>
<circle cx="260" cy="118" r="4" fill="#959595"/>
<circle cx="401" cy="134" r="7" fill="#959595"/>
<circle cx="261" cy="199" r="5" fill="#959595"/>
<circle cx="223" cy="111" r="7" fill="#8a8a8a"/>
<circle cx="317" cy="121" r="5" fill="#8a8a8a"/>
<circle cx="138" cy="186" r="6" fill="#3a3a3a"/>
<circle cx="133" cy="236" r="6" fill="#3a3a3a"/>
<circle cx="168" cy="252" r="7" fill="#8a8a8a"/>
<circle cx="167" cy="246" r="5" fill="#3a3a3a"/>
<circle cx="99" cy="235" r="7" fill="#8a8a8a"/>
<circle cx="134" cy="273" r="4" fill="#3a3a3a"/>
<circle cx="121" cy="181" r="4" fill="#8a8a8a"/>
<circle cx="77" cy="274" r="4" fill="#8a8a8a"/>
<circle cx="123" cy="318" r="4" fill="#3a3a3a"/>
<circle cx="160" cy="209" r="7" fill="#3a3a3a"/>
<circle cx="121" cy="335" r="6" fill="#8a8a8a"/>
<circle cx="97" cy="207" r="5" fill="#8a8a8a"/>
<circle cx="132" cy="179" r="6" fill="#3a3a3a"/>
<circle cx="97" cy="213" r="6" fill="#3a3a3a"/>
<circle cx="104" cy="175" r="8" fill="#3a3a3a"/>
<circle cx="128" cy="283" r="7" fill="#8a8a8a"/>
<circle cx="117" cy="274" r="6" fill="#8a8a8a"/>
<circle cx="87" cy="274" r="6" fill="#3a3a3a"/>
<circle cx="106" cy="182" r="7" fill="#3a3a3a"/>
<circle cx="145" cy="242" r="5" fill="#3a3a3a"/>
<circle cx="79" cy="226" r="5" fill="#3a3a3a"/>
<circle cx="140" cy="332" r="7" fill="#8a8a8a"/>
<circle cx="146" cy="220" r="6" fill="#3a3a3a"/>
<circle cx="142" cy="322" r="7" fill="#8a8a8a"/>
<circle cx="128" cy="327" r="5" fill="#8a8a8a"/>
<circle cx="153" cy="234" r="5" fill="#8a8a8a"/>
<circle cx="119" cy="182" r="6" fill="#3a3a3a"/>
<circle cx="135" cy="273" r="4" fill="#8a8a8a"/>
<circle cx="164" cy="277" r="4" fill="#3a3a3a"/>
<circle cx="84" cy="236" r="8" fill="#3a3a3a"/>
<circle cx="87" cy="212" r="5" fill="#3a3a3a"/>
<circle cx="87" cy="318" r="7" fill="#8a8a8a"/>
<circle cx="118" cy="188" r="8" fill="#8a8a8a"/>
<circle cx="125" cy="341" r="5" fill="#8a8a8a"/>
<circle cx="125" cy="341" r="5" fill="#3a3a3a"/>
<circle cx="129" cy="272" r="6" fill="#8a8a8a"/>
<circle cx="153" cy="274" r="6" fill="#3a3a3a"/>
<circle cx="119" cy="251" r="5" fill="#3a3a3a"/>
<circle cx="140" cy="230" r="7" fill="#3a3a3a"/>
<circle cx="152" cy="255" r="4" fill="#3a3a3a"/>
<circle cx="413" cy="239" r="7" fill="#3a3a3a"/>
<circle cx="388" cy="244" r="4" fill="#3a3a3a"/>
<circle cx="408" cy="222" r="7" fill="#8a8a8a"/>
<circle cx="398" cy="324" r="6" fill="#3a3a3a"/>
<circle cx="399" cy="240" r="5" fill="#8a8a8a"/>
<circle cx="389" cy="256" r="7" fill="#3a3a3a"/>
<circle cx="396" cy="189" r="6" fill="#3a3a3a"/>
<circle cx="387" cy="316" r="6" fill="#8a8a8a"/>
<circle cx="371" cy="212" r="7" fill="#8a8a8a"/>
<circle cx="362" cy="254" r="6" fill="#8a8a8a"/>
<circle cx="432" cy="238" r="8" fill="#8a8a8a"/>
<circle cx="422" cy="254" r="8" fill="#8a8a8a"/>
<circle cx="433" cy="264" r="4" fill="#8a8a8a"/>
<circle cx="368" cy="241" r="7" fill="#3a3a3a"/>
<circle cx="409" cy="177" r="6" fill="#3a3a3a"/>
<circle cx="402" cy="290" r="6" fill="#8a8a8a"/>
<circle cx="373" cy="225" r="5" fill="#3a3a3a"/>
<circle cx="425" cy="244" r="6" fill="#3a3a3a"/>
<circle cx="380" cy="191" r="5" fill="#8a8a8a"/>
<circle cx="419" cy="230" r="4" fill="#3a3a3a"/>
<circle cx="403" cy="241" r="6" fill="#3a3a3a"/>
<circle cx="425" cy="212" r="6" fill="#8a8a8a"/>
<circle cx="395" cy="200" r="6" fill="#3a3a3a"/>
<circle cx="408" cy="222" r="5" fill="#3a3a3a"/>
<circle cx="357" cy="262" r="8" fill="#3a3a3a"/>
<circle cx="411" cy="181" r="5" fill="#3a3a3a"/>
<circle cx="388" cy="238" r="4" fill="#8a8a8a"/>
<circle cx="398" cy="207" r="7" fill="#3a3a3a"/>
<circle cx="407" cy="213" r="5" fill="#8a8a8a"/>
<circle cx="386" cy="294" r="7" fill="#3a3a3a"/>
<circle cx="360" cy="272" r="6" fill="#8a8a8a"/>
<circle cx="388" cy="214" r="7" fill="#8a8a8a"/>
<circle cx="366" cy="239" r="8" fill="#8a8a8a"/>
<circle cx="376" cy="263" r="8" fill="#8a8a8a"/>
<circle cx="403" cy="191" r="8" fill="#8a8a8a"/>
<circle cx="378" cy="207" r="6" fill="#3a3a3a"/>
<circle cx="382" cy="213" r="5" fill="#8a8a8a"/>
<circle cx="401" cy="212" r="8" fill="#3a3a3a"/>
<circle cx="422" cy="181" r="8" fill="#8a8a8a"/>
<circle cx="435" cy="275" r="7" fill="#3a3a3a"/>
<circle cx="272" cy="385" r="6" fill="#7a7a7a"/>
<circle cx="278" cy="384" r="6" fill="#959595"/>
<circle cx="307" cy="397" r="7" fill="#7a7a7a"/>
<circle cx="209" cy="430" r="3" fill="#959595"/>
<circle cx="212" cy="226" r="6" fill="#7a7a7a"/>
<circle cx="112" cy="295" r="5" fill="#959595"/>
<circle cx="394" cy="340" r="6" fill="#959595"/>
<circle cx="195" cy="356" r="3" fill="#959595"/>
<circle cx="256" cy="386" r="7" fill="#7a7a7a"/>
<circle cx="313" cy="341" r="3" fill="#959595"/>
<circle cx="223" cy="264" r="5" fill="#7a7a7a"/>
<circle cx="173" cy="348" r="4" fill="#7a7a7a"/>
<circle cx="145" cy="248" r="7" fill="#7a7a7a"/>
<circle cx="313" cy="331" r="6" fill="#959595"/>
<circle cx="271" cy="383" r="6" fill="#959595"/>
<circle cx="366" cy="382" r="4" fill="#7a7a7a"/>
<circle cx="202" cy="326" r="5" fill="#7a7a7a"/>
<circle cx="202" cy="340" r="5" fill="#959595"/>
<circle cx="409" cy="304" r="5" fill="#959595"/>
<circle cx="120" cy="373" r="6" fill="#959595"/>
<circle cx="314" cy="338" r="7" fill="#7a7a7a"/>
<circle cx="168" cy="401" r="4" fill="#7a7a7a"/>
<circle cx="229" cy="233" r="4" fill="#7a7a7a"/>
<circle cx="146" cy="398" r="6" fill="#959595"/>
<circle cx="194" cy="390" r="5" fill="#7a7a7a"/>
<circle cx="351" cy="369" r="7" fill="#7a7a7a"/>
<circle cx="156" cy="380" r="6" fill="#959595"/>
<circle cx="239" cy="261" r="7" fill="#7a7a7a"/>
<circle cx="235" cy="354" r="6" fill="#7a7a7a"/>
<circle cx="335" cy="405" r="4" fill="#7a7a7a"/>
<circle cx="211" cy="300" r="5" fill="#7a7a7a"/>
<circle cx="240" cy="436" r="4" fill="#7a7a7a"/>
<circle cx="218" cy="389" r="5" fill="#7a7a7a"/>
<circle cx="373" cy="405" r="5" fill="#959595"/>
<circle cx="174" cy="249" r="6" fill="#959595"/>
<circle cx="251" cy="287" r="4" fill="#959595"/>
<circle cx="123" cy="349" r="3" fill="#959595"/>
<circle cx="260" cy="343" r="7" fill="#7a7a7a"/>
<circle cx="158" cy="294" r="5" fill="#959595"/>
<circle cx="217" cy="313" r="3" fill="#959595"/>
<circle cx="108" cy="376" r="7" fill="#7a7a7a"/>
<circle cx="115" cy="303" r="7" fill="#7a7a7a"/>
<circle cx="341" cy="345" r="6" fill="#959595"/>
<circle cx="407" cy="281" r="4" fill="#959595"/>
<circle cx="211" cy="375" r="6" fill="#959595"/>
<circle cx="387" cy="300" r="5" fill="#7a7a7a"/>
<circle cx="305" cy="269" r="3" fill="#7a7a7a"/>
<circle cx="176" cy="271" r="5" fill="#7a7a7a"/>
<circle cx="401" cy="285" r="4" fill="#959595"/>
<circle cx="351" cy="290" r="7" fill="#7a7a7a"/>
<circle cx="224" cy="289" r="4" fill="#959595"/>
<circle cx="415" cy="302" r="6" fill="#7a7a7a"/>
<circle cx="145" cy="284" r="7" fill="#7a7a7a"/>
<circle cx="347" cy="356" r="3" fill="#959595"/>
<circle cx="149" cy="258" r="4" fill="#959595"/>
<circle cx="374" cy="296" r="5" fill="#7a7a7a"/>
<circle cx="247" cy="322" r="4" fill="#7a7a7a"/>
<circle cx="249" cy="250" r="6" fill="#959595"/>
<circle cx="183" cy="232" r="5" fill="#7a7a7a"/>
<circle cx="347" cy="356" r="7" fill="#7a7a7a"/>
<circle cx="133" cy="377" r="5" fill="#7a7a7a"/>
<circle cx="358" cy="388" r="4" fill="#7a7a7a"/>
<circle cx="196" cy="276" r="6" fill="#959595"/>
<circle cx="309" cy="338" r="5" fill="#959595"/>
<circle cx="216" cy="277" r="7" fill="#959595"/>
<circle cx="226" cy="280" r="6" fill="#959595"/>
<circle cx="257" cy="307" r="4" fill="#959595"/>
<circle cx="203" cy="317" r="6" fill="#7a7a7a"/>
<circle cx="354" cy="390" r="5" fill="#7a7a7a"/>
<circle cx="220" cy="423" r="3" fill="#959595"/>
<circle cx="285" cy="405" r="6" fill="#7a7a7a"/>
<circle cx="272" cy="425" r="6" fill="#7a7a7a"/>
<circle cx="317" cy="359" r="7" fill="#7a7a7a"/>
<circle cx="188" cy="397" r="5" fill="#7a7a7a"/>
<circle cx="170" cy="337" r="6" fill="#959595"/>
<circle cx="244" cy="390" r="4" fill="#7a7a7a"/>
<circle cx="339" cy="406" r="4" fill="#959595"/>
<circle cx="361" cy="333" r="3" fill="#959595"/>
<circle cx="250" cy="385" r="6" fill="#7a7a7a"/>
<circle cx="91" cy="343" r="6" fill="#7a7a7a"/>
<ellipse cx="290" cy="205" rx="48" ry="44" fill="#0e0e0e"/>
<ellipse cx="220" cy="295" rx="32" ry="20" fill="#111"/>
<ellipse cx="155" cy="335" rx="35" ry="30" fill="#151515"/>
<circle cx="95" cy="320" r="20" fill="#1a1a1a"/>
<circle cx="210" cy="390" r="30" fill="#121212"/>
<circle cx="300" cy="370" r="15" fill="#1a1a1a"/>
<text x="258" y="328" font-size="48" font-weight="bold" fill="#111">N</text>
</g></g>
</g>
<rect x="192.00" y="100.80" width="81.30" height="81.20" fill="none" stroke="#1e1e1e" stroke-width="1.4"/>
<g clip-path="url(#cp02)"><g filter="url(#gr02)"><g transform="translate(18 183) scale(0.165371)">
<rect x="0" y="0" width="520" height="520" fill="#7e7e7e"/>
<circle cx="189" cy="98" r="4" fill="#949494"/>
<circle cx="307" cy="374" r="5" fill="#949494"/>
<circle cx="471" cy="418" r="3" fill="#a4a4a4"/>
<circle cx="357" cy="464" r="5" fill="#a4a4a4"/>
<circle cx="151" cy="115" r="6" fill="#4e4e4e"/>
<circle cx="32" cy="313" r="5" fill="#5e5e5e"/>
<circle cx="465" cy="90" r="6" fill="#949494"/>
<circle cx="35" cy="362" r="3" fill="#a4a4a4"/>
<circle cx="-8" cy="151" r="5" fill="#a4a4a4"/>
<circle cx="221" cy="438" r="3" fill="#949494"/>
<circle cx="48" cy="361" r="5" fill="#949494"/>
<circle cx="476" cy="98" r="3" fill="#4e4e4e"/>
<circle cx="235" cy="397" r="5" fill="#5e5e5e"/>
<circle cx="284" cy="488" r="6" fill="#5e5e5e"/>
<circle cx="66" cy="444" r="6" fill="#4e4e4e"/>
<circle cx="497" cy="208" r="6" fill="#4e4e4e"/>
<circle cx="325" cy="211" r="6" fill="#a4a4a4"/>
<circle cx="92" cy="178" r="5" fill="#949494"/>
<circle cx="361" cy="285" r="7" fill="#a4a4a4"/>
<circle cx="126" cy="498" r="4" fill="#949494"/>
<circle cx="433" cy="137" r="5" fill="#4e4e4e"/>
<circle cx="89" cy="59" r="3" fill="#a4a4a4"/>
<circle cx="241" cy="104" r="7" fill="#a4a4a4"/>
<circle cx="256" cy="33" r="5" fill="#4e4e4e"/>
<circle cx="454" cy="228" r="6" fill="#a4a4a4"/>
<circle cx="292" cy="259" r="7" fill="#5e5e5e"/>
<circle cx="314" cy="525" r="6" fill="#a4a4a4"/>
<circle cx="207" cy="544" r="7" fill="#4e4e4e"/>
<circle cx="266" cy="317" r="4" fill="#949494"/>
<circle cx="145" cy="51" r="6" fill="#a4a4a4"/>
<circle cx="458" cy="481" r="4" fill="#949494"/>
<circle cx="142" cy="438" r="6" fill="#a4a4a4"/>
<circle cx="19" cy="242" r="5" fill="#949494"/>
<circle cx="69" cy="245" r="3" fill="#949494"/>
<circle cx="243" cy="302" r="5" fill="#4e4e4e"/>
<circle cx="414" cy="338" r="5" fill="#949494"/>
<circle cx="153" cy="180" r="4" fill="#4e4e4e"/>
<circle cx="93" cy="484" r="5" fill="#a4a4a4"/>
<circle cx="-24" cy="314" r="5" fill="#a4a4a4"/>
<circle cx="454" cy="123" r="3" fill="#a4a4a4"/>
<circle cx="191" cy="72" r="5" fill="#a4a4a4"/>
<circle cx="254" cy="301" r="6" fill="#a4a4a4"/>
<circle cx="182" cy="126" r="3" fill="#949494"/>
<circle cx="143" cy="444" r="5" fill="#5e5e5e"/>
<circle cx="362" cy="411" r="4" fill="#a4a4a4"/>
<circle cx="11" cy="182" r="4" fill="#949494"/>
<circle cx="64" cy="55" r="3" fill="#4e4e4e"/>
<circle cx="149" cy="502" r="4" fill="#4e4e4e"/>
<circle cx="375" cy="498" r="7" fill="#5e5e5e"/>
<circle cx="276" cy="521" r="4" fill="#a4a4a4"/>
<circle cx="412" cy="484" r="6" fill="#949494"/>
<circle cx="250" cy="111" r="6" fill="#5e5e5e"/>
<circle cx="304" cy="57" r="7" fill="#4e4e4e"/>
<circle cx="412" cy="273" r="4" fill="#5e5e5e"/>
<circle cx="129" cy="110" r="6" fill="#5e5e5e"/>
<circle cx="132" cy="0" r="4" fill="#5e5e5e"/>
<circle cx="288" cy="391" r="4" fill="#a4a4a4"/>
<circle cx="184" cy="433" r="5" fill="#949494"/>
<circle cx="212" cy="93" r="6" fill="#4e4e4e"/>
<circle cx="138" cy="182" r="4" fill="#949494"/>
<circle cx="374" cy="266" r="5" fill="#949494"/>
<circle cx="474" cy="333" r="7" fill="#4e4e4e"/>
<circle cx="341" cy="234" r="3" fill="#4e4e4e"/>
<circle cx="301" cy="231" r="5" fill="#5e5e5e"/>
<circle cx="435" cy="346" r="7" fill="#949494"/>
<circle cx="191" cy="242" r="4" fill="#4e4e4e"/>
<circle cx="499" cy="272" r="5" fill="#5e5e5e"/>
<circle cx="341" cy="439" r="5" fill="#4e4e4e"/>
<circle cx="107" cy="94" r="3" fill="#4e4e4e"/>
<circle cx="522" cy="156" r="4" fill="#a4a4a4"/>
<circle cx="37" cy="111" r="4" fill="#4e4e4e"/>
<circle cx="4" cy="383" r="3" fill="#5e5e5e"/>
<circle cx="349" cy="14" r="7" fill="#5e5e5e"/>
<circle cx="106" cy="5" r="7" fill="#4e4e4e"/>
<circle cx="72" cy="235" r="5" fill="#5e5e5e"/>
<circle cx="247" cy="135" r="4" fill="#949494"/>
<circle cx="258" cy="227" r="7" fill="#949494"/>
<circle cx="335" cy="142" r="7" fill="#4e4e4e"/>
<circle cx="228" cy="134" r="5" fill="#a4a4a4"/>
<circle cx="512" cy="98" r="4" fill="#4e4e4e"/>
<circle cx="284" cy="133" r="6" fill="#5e5e5e"/>
<circle cx="342" cy="332" r="5" fill="#949494"/>
<circle cx="515" cy="316" r="5" fill="#a4a4a4"/>
<circle cx="404" cy="328" r="4" fill="#a4a4a4"/>
<circle cx="290" cy="16" r="6" fill="#a4a4a4"/>
<circle cx="165" cy="457" r="4" fill="#949494"/>
<circle cx="495" cy="134" r="5" fill="#949494"/>
<circle cx="412" cy="401" r="4" fill="#5e5e5e"/>
<circle cx="71" cy="369" r="6" fill="#4e4e4e"/>
<circle cx="429" cy="305" r="7" fill="#4e4e4e"/>
<circle cx="319" cy="437" r="4" fill="#a4a4a4"/>
<circle cx="362" cy="226" r="5" fill="#4e4e4e"/>
<circle cx="103" cy="249" r="6" fill="#4e4e4e"/>
<circle cx="76" cy="145" r="3" fill="#5e5e5e"/>
<circle cx="440" cy="357" r="5" fill="#4e4e4e"/>
<circle cx="154" cy="468" r="7" fill="#a4a4a4"/>
<circle cx="-25" cy="220" r="5" fill="#4e4e4e"/>
<circle cx="384" cy="235" r="3" fill="#a4a4a4"/>
<circle cx="255" cy="198" r="5" fill="#4e4e4e"/>
<circle cx="240" cy="74" r="4" fill="#a4a4a4"/>
<circle cx="24" cy="419" r="7" fill="#949494"/>
<circle cx="419" cy="54" r="6" fill="#a4a4a4"/>
<circle cx="282" cy="32" r="4" fill="#5e5e5e"/>
<circle cx="518" cy="116" r="6" fill="#5e5e5e"/>
<circle cx="126" cy="230" r="5" fill="#949494"/>
<circle cx="168" cy="136" r="7" fill="#4e4e4e"/>
<circle cx="-18" cy="245" r="5" fill="#949494"/>
<circle cx="162" cy="117" r="3" fill="#5e5e5e"/>
<circle cx="316" cy="415" r="5" fill="#a4a4a4"/>
<circle cx="516" cy="415" r="4" fill="#949494"/>
<circle cx="353" cy="423" r="4" fill="#a4a4a4"/>
<circle cx="249" cy="1" r="3" fill="#5e5e5e"/>
<circle cx="52" cy="344" r="5" fill="#4e4e4e"/>
<circle cx="346" cy="132" r="5" fill="#4e4e4e"/>
<circle cx="239" cy="63" r="6" fill="#5e5e5e"/>
<circle cx="322" cy="226" r="7" fill="#949494"/>
<circle cx="-10" cy="215" r="4" fill="#5e5e5e"/>
<circle cx="426" cy="501" r="5" fill="#5e5e5e"/>
<circle cx="238" cy="161" r="5" fill="#a4a4a4"/>
<circle cx="321" cy="491" r="6" fill="#5e5e5e"/>
<circle cx="9" cy="173" r="7" fill="#a4a4a4"/>
<circle cx="445" cy="430" r="7" fill="#a4a4a4"/>
<circle cx="195" cy="414" r="6" fill="#5e5e5e"/>
<circle cx="305" cy="505" r="5" fill="#4e4e4e"/>
<circle cx="135" cy="254" r="6" fill="#5e5e5e"/>
<circle cx="-29" cy="186" r="3" fill="#5e5e5e"/>
<circle cx="276" cy="385" r="6" fill="#949494"/>
<circle cx="278" cy="317" r="6" fill="#4e4e4e"/>
<circle cx="293" cy="200" r="5" fill="#4e4e4e"/>
<circle cx="351" cy="136" r="6" fill="#4e4e4e"/>
<circle cx="110" cy="76" r="6" fill="#a4a4a4"/>
<circle cx="357" cy="244" r="3" fill="#4e4e4e"/>
<circle cx="508" cy="97" r="7" fill="#949494"/>
<circle cx="498" cy="256" r="5" fill="#a4a4a4"/>
<circle cx="280" cy="382" r="6" fill="#a4a4a4"/>
<circle cx="312" cy="111" r="5" fill="#5e5e5e"/>
<circle cx="195" cy="88" r="6" fill="#5e5e5e"/>
<circle cx="496" cy="86" r="5" fill="#a4a4a4"/>
<circle cx="499" cy="295" r="7" fill="#949494"/>
<circle cx="474" cy="298" r="7" fill="#949494"/>
<circle cx="383" cy="214" r="4" fill="#949494"/>
<circle cx="123" cy="493" r="4" fill="#949494"/>
<circle cx="170" cy="378" r="5" fill="#a4a4a4"/>
<circle cx="225" cy="98" r="6" fill="#4e4e4e"/>
<circle cx="188" cy="530" r="5" fill="#5e5e5e"/>
<circle cx="443" cy="323" r="5" fill="#a4a4a4"/>
<circle cx="406" cy="468" r="7" fill="#a4a4a4"/>
<circle cx="530" cy="161" r="5" fill="#949494"/>
<circle cx="459" cy="332" r="7" fill="#949494"/>
<circle cx="-27" cy="284" r="4" fill="#5e5e5e"/>
<circle cx="186" cy="386" r="6" fill="#a4a4a4"/>
<circle cx="220" cy="206" r="4" fill="#4e4e4e"/>
<circle cx="399" cy="7" r="7" fill="#a4a4a4"/>
<circle cx="86" cy="194" r="6" fill="#949494"/>
<circle cx="65" cy="444" r="6" fill="#4e4e4e"/>
<circle cx="184" cy="275" r="5" fill="#a4a4a4"/>
<circle cx="442" cy="415" r="3" fill="#5e5e5e"/>
<circle cx="159" cy="508" r="4" fill="#a4a4a4"/>
<circle cx="507" cy="333" r="5" fill="#4e4e4e"/>
<circle cx="94" cy="227" r="5" fill="#949494"/>
<circle cx="200" cy="125" r="6" fill="#949494"/>
<circle cx="157" cy="31" r="4" fill="#949494"/>
<circle cx="231" cy="9" r="6" fill="#949494"/>
<circle cx="92" cy="327" r="6" fill="#949494"/>
<circle cx="205" cy="243" r="3" fill="#4e4e4e"/>
<circle cx="68" cy="343" r="5" fill="#4e4e4e"/>
<circle cx="313" cy="161" r="3" fill="#a4a4a4"/>
<circle cx="157" cy="147" r="5" fill="#949494"/>
<circle cx="98" cy="132" r="7" fill="#5e5e5e"/>
<circle cx="187" cy="110" r="7" fill="#a4a4a4"/>
<circle cx="363" cy="427" r="5" fill="#949494"/>
<circle cx="256" cy="395" r="3" fill="#4e4e4e"/>
<circle cx="391" cy="523" r="3" fill="#5e5e5e"/>
<circle cx="12" cy="355" r="3" fill="#4e4e4e"/>
<circle cx="97" cy="445" r="3" fill="#4e4e4e"/>
<circle cx="537" cy="279" r="5" fill="#4e4e4e"/>
<circle cx="436" cy="371" r="5" fill="#a4a4a4"/>
<circle cx="315" cy="163" r="4" fill="#4e4e4e"/>
<circle cx="427" cy="137" r="6" fill="#4e4e4e"/>
<circle cx="383" cy="-9" r="4" fill="#5e5e5e"/>
<circle cx="410" cy="180" r="3" fill="#949494"/>
<circle cx="133" cy="493" r="3" fill="#4e4e4e"/>
<circle cx="226" cy="30" r="5" fill="#5e5e5e"/>
<circle cx="142" cy="168" r="5" fill="#4e4e4e"/>
<circle cx="472" cy="113" r="3" fill="#5e5e5e"/>
<circle cx="550" cy="277" r="5" fill="#4e4e4e"/>
<circle cx="512" cy="262" r="6" fill="#4e4e4e"/>
<circle cx="333" cy="163" r="4" fill="#a4a4a4"/>
<circle cx="164" cy="414" r="3" fill="#a4a4a4"/>
<circle cx="284" cy="531" r="6" fill="#5e5e5e"/>
<circle cx="419" cy="108" r="3" fill="#a4a4a4"/>
<circle cx="374" cy="323" r="5" fill="#949494"/>
<circle cx="221" cy="361" r="5" fill="#949494"/>
<circle cx="286" cy="259" r="3" fill="#a4a4a4"/>
<circle cx="489" cy="286" r="4" fill="#a4a4a4"/>
<circle cx="258" cy="237" r="6" fill="#5e5e5e"/>
<circle cx="283" cy="57" r="4" fill="#949494"/>
<circle cx="121" cy="369" r="7" fill="#949494"/>
<circle cx="188" cy="301" r="5" fill="#4e4e4e"/>
<circle cx="426" cy="508" r="6" fill="#4e4e4e"/>
<circle cx="112" cy="277" r="6" fill="#5e5e5e"/>
<circle cx="268" cy="273" r="5" fill="#949494"/>
<circle cx="142" cy="402" r="6" fill="#949494"/>
<circle cx="359" cy="87" r="6" fill="#5e5e5e"/>
<circle cx="136" cy="146" r="4" fill="#5e5e5e"/>
<circle cx="196" cy="139" r="5" fill="#a4a4a4"/>
<circle cx="301" cy="318" r="5" fill="#a4a4a4"/>
<circle cx="466" cy="346" r="5" fill="#949494"/>
<circle cx="141" cy="212" r="4" fill="#4e4e4e"/>
<circle cx="67" cy="216" r="6" fill="#4e4e4e"/>
<circle cx="418" cy="77" r="4" fill="#949494"/>
<circle cx="320" cy="156" r="4" fill="#4e4e4e"/>
<circle cx="143" cy="186" r="5" fill="#5e5e5e"/>
<circle cx="120" cy="301" r="6" fill="#4e4e4e"/>
<circle cx="14" cy="336" r="4" fill="#4e4e4e"/>
<circle cx="528" cy="220" r="6" fill="#4e4e4e"/>
<circle cx="1" cy="268" r="4" fill="#4e4e4e"/>
<circle cx="317" cy="50" r="3" fill="#5e5e5e"/>
<circle cx="420" cy="62" r="6" fill="#5e5e5e"/>
<circle cx="324" cy="93" r="4" fill="#4e4e4e"/>
<circle cx="333" cy="404" r="4" fill="#949494"/>
<circle cx="40" cy="143" r="4" fill="#949494"/>
<circle cx="237" cy="177" r="4" fill="#5e5e5e"/>
<circle cx="532" cy="280" r="6" fill="#4e4e4e"/>
<circle cx="205" cy="226" r="4" fill="#949494"/>
<circle cx="516" cy="117" r="6" fill="#5e5e5e"/>
<circle cx="281" cy="299" r="7" fill="#a4a4a4"/>
<circle cx="1" cy="396" r="5" fill="#4e4e4e"/>
<circle cx="517" cy="238" r="4" fill="#4e4e4e"/>
<circle cx="147" cy="487" r="5" fill="#5e5e5e"/>
<circle cx="451" cy="277" r="6" fill="#949494"/>
<circle cx="229" cy="365" r="3" fill="#a4a4a4"/>
<circle cx="121" cy="480" r="4" fill="#949494"/>
<circle cx="35" cy="275" r="4" fill="#4e4e4e"/>
<circle cx="228" cy="100" r="6" fill="#a4a4a4"/>
<circle cx="277" cy="366" r="4" fill="#4e4e4e"/>
<circle cx="551" cy="320" r="6" fill="#4e4e4e"/>
<circle cx="454" cy="481" r="6" fill="#a4a4a4"/>
<circle cx="502" cy="427" r="4" fill="#a4a4a4"/>
<circle cx="177" cy="418" r="3" fill="#949494"/>
<circle cx="225" cy="231" r="4" fill="#5e5e5e"/>
<circle cx="-8" cy="329" r="6" fill="#5e5e5e"/>
<circle cx="425" cy="255" r="7" fill="#949494"/>
<circle cx="101" cy="46" r="4" fill="#5e5e5e"/>
<circle cx="180" cy="223" r="5" fill="#949494"/>
<circle cx="524" cy="275" r="4" fill="#949494"/>
<circle cx="88" cy="286" r="3" fill="#5e5e5e"/>
<circle cx="25" cy="241" r="6" fill="#4e4e4e"/>
<circle cx="308" cy="83" r="5" fill="#949494"/>
<circle cx="334" cy="403" r="6" fill="#a4a4a4"/>
<circle cx="148" cy="204" r="5" fill="#a4a4a4"/>
<circle cx="135" cy="403" r="7" fill="#4e4e4e"/>
<circle cx="115" cy="179" r="4" fill="#5e5e5e"/>
<circle cx="437" cy="273" r="6" fill="#5e5e5e"/>
<circle cx="399" cy="344" r="4" fill="#a4a4a4"/>
<circle cx="457" cy="165" r="6" fill="#4e4e4e"/>
<circle cx="87" cy="275" r="7" fill="#a4a4a4"/>
<circle cx="248" cy="149" r="4" fill="#a4a4a4"/>
<circle cx="514" cy="275" r="7" fill="#949494"/>
<circle cx="273" cy="-28" r="7" fill="#5e5e5e"/>
<path d="M60,15 Q40,150 100,280 Q150,400 220,515" stroke="#3a3a3a" stroke-width="10" fill="none"/>
<path d="M330,15 Q420,80 520,110" stroke="#333" stroke-width="10" fill="none"/>
<path d="M15,290 Q120,360 140,440 Q180,500 330,470 Q420,460 470,480" stroke="#3a3a3a" stroke-width="9" fill="none"/>
<path d="M130,95 Q90,130 60,150" stroke="#444" stroke-width="7" fill="none"/>
<ellipse cx="425" cy="275" rx="32" ry="35" fill="#7c7c7c"/>
<path d="M520,310 Q440,320 440,390 Q450,470 520,480" fill="#a8a8a8" stroke="#2a2a2a" stroke-width="14"/>
<ellipse cx="225" cy="85" rx="20" ry="25" fill="#484848" stroke="#1c1c1c" stroke-width="8"/>
<ellipse cx="145" cy="195" rx="35" ry="48" fill="#484848" stroke="#1c1c1c" stroke-width="8"/>
<ellipse cx="115" cy="245" rx="18" ry="18" fill="#484848" stroke="#1c1c1c" stroke-width="8"/>
<ellipse cx="270" cy="155" rx="40" ry="36" fill="#484848" stroke="#1c1c1c" stroke-width="8"/>
<ellipse cx="365" cy="150" rx="50" ry="40" fill="#484848" stroke="#1c1c1c" stroke-width="8"/>
<ellipse cx="235" cy="240" rx="36" ry="36" fill="#484848" stroke="#1c1c1c" stroke-width="8"/>
<ellipse cx="330" cy="225" rx="36" ry="30" fill="#484848" stroke="#1c1c1c" stroke-width="8"/>
<ellipse cx="205" cy="285" rx="20" ry="20" fill="#484848" stroke="#1c1c1c" stroke-width="8"/>
<ellipse cx="295" cy="310" rx="36" ry="32" fill="#484848" stroke="#1c1c1c" stroke-width="8"/>
<ellipse cx="225" cy="335" rx="32" ry="25" fill="#484848" stroke="#1c1c1c" stroke-width="8"/>
<ellipse cx="220" cy="405" rx="36" ry="36" fill="#484848" stroke="#1c1c1c" stroke-width="8"/>
<line x1="211" y1="69" x2="239" y2="81" stroke="#6a6a6a" stroke-width="4"/>
<line x1="211" y1="79" x2="239" y2="91" stroke="#6a6a6a" stroke-width="4"/>
<line x1="211" y1="89" x2="239" y2="101" stroke="#6a6a6a" stroke-width="4"/>
<line x1="120" y1="165" x2="170" y2="186" stroke="#6a6a6a" stroke-width="4"/>
<line x1="120" y1="184" x2="170" y2="206" stroke="#6a6a6a" stroke-width="4"/>
<line x1="120" y1="204" x2="170" y2="225" stroke="#6a6a6a" stroke-width="4"/>
<line x1="102" y1="232" x2="128" y2="243" stroke="#6a6a6a" stroke-width="4"/>
<line x1="102" y1="240" x2="128" y2="250" stroke="#6a6a6a" stroke-width="4"/>
<line x1="102" y1="247" x2="128" y2="258" stroke="#6a6a6a" stroke-width="4"/>
<line x1="242" y1="129" x2="298" y2="153" stroke="#6a6a6a" stroke-width="4"/>
<line x1="242" y1="143" x2="298" y2="167" stroke="#6a6a6a" stroke-width="4"/>
<line x1="242" y1="157" x2="298" y2="181" stroke="#6a6a6a" stroke-width="4"/>
<line x1="330" y1="119" x2="400" y2="149" stroke="#6a6a6a" stroke-width="4"/>
<line x1="330" y1="135" x2="400" y2="165" stroke="#6a6a6a" stroke-width="4"/>
<line x1="330" y1="151" x2="400" y2="181" stroke="#6a6a6a" stroke-width="4"/>
<line x1="210" y1="215" x2="260" y2="236" stroke="#6a6a6a" stroke-width="4"/>
<line x1="210" y1="229" x2="260" y2="251" stroke="#6a6a6a" stroke-width="4"/>
<line x1="210" y1="244" x2="260" y2="265" stroke="#6a6a6a" stroke-width="4"/>
<line x1="305" y1="202" x2="355" y2="224" stroke="#6a6a6a" stroke-width="4"/>
<line x1="305" y1="214" x2="355" y2="236" stroke="#6a6a6a" stroke-width="4"/>
<line x1="305" y1="226" x2="355" y2="248" stroke="#6a6a6a" stroke-width="4"/>
<line x1="191" y1="271" x2="219" y2="283" stroke="#6a6a6a" stroke-width="4"/>
<line x1="191" y1="279" x2="219" y2="291" stroke="#6a6a6a" stroke-width="4"/>
<line x1="191" y1="287" x2="219" y2="299" stroke="#6a6a6a" stroke-width="4"/>
<line x1="270" y1="286" x2="320" y2="308" stroke="#6a6a6a" stroke-width="4"/>
<line x1="270" y1="299" x2="320" y2="321" stroke="#6a6a6a" stroke-width="4"/>
<line x1="270" y1="312" x2="320" y2="334" stroke="#6a6a6a" stroke-width="4"/>
<line x1="203" y1="315" x2="247" y2="335" stroke="#6a6a6a" stroke-width="4"/>
<line x1="203" y1="325" x2="247" y2="345" stroke="#6a6a6a" stroke-width="4"/>
<line x1="203" y1="335" x2="247" y2="355" stroke="#6a6a6a" stroke-width="4"/>
<line x1="195" y1="380" x2="245" y2="401" stroke="#6a6a6a" stroke-width="4"/>
<line x1="195" y1="394" x2="245" y2="416" stroke="#6a6a6a" stroke-width="4"/>
<line x1="195" y1="409" x2="245" y2="430" stroke="#6a6a6a" stroke-width="4"/>
</g></g>
<g filter="url(#soft)"><g transform="translate(18 183) scale(0.165371)">
<path d="M15,440 L90,440 L100,515 L15,515 Z" fill="#dedede" opacity="0.9"/>
<path d="M292,108 L300,62 L338,72 Z" fill="#fafafa"/>
<path d="M332,272 L345,228 L380,242 Z" fill="#fafafa"/>
</g></g>
</g>
<rect x="19.70" y="186.70" width="81.50" height="81.40" fill="none" stroke="#1e1e1e" stroke-width="1.4"/>
<g clip-path="url(#cp12)"><g filter="url(#gr12)"><g transform="translate(103 183) scale(0.165371)">
<rect x="0" y="0" width="520" height="520" fill="#747474"/>
<circle cx="106" cy="261" r="4" fill="#a0a0a0"/>
<circle cx="460" cy="114" r="6" fill="#909090"/>
<circle cx="399" cy="289" r="6" fill="#555"/>
<circle cx="192" cy="127" r="6" fill="#444"/>
<circle cx="115" cy="247" r="6" fill="#a0a0a0"/>
<circle cx="168" cy="140" r="5" fill="#a0a0a0"/>
<circle cx="24" cy="433" r="6" fill="#444"/>
<circle cx="239" cy="-30" r="5" fill="#909090"/>
<circle cx="182" cy="251" r="7" fill="#a0a0a0"/>
<circle cx="314" cy="554" r="5" fill="#909090"/>
<circle cx="458" cy="432" r="7" fill="#444"/>
<circle cx="274" cy="448" r="7" fill="#909090"/>
<circle cx="212" cy="12" r="5" fill="#909090"/>
<circle cx="296" cy="475" r="4" fill="#909090"/>
<circle cx="312" cy="88" r="7" fill="#444"/>
<circle cx="154" cy="145" r="6" fill="#909090"/>
<circle cx="549" cy="291" r="7" fill="#555"/>
<circle cx="112" cy="428" r="5" fill="#909090"/>
<circle cx="139" cy="487" r="6" fill="#a0a0a0"/>
<circle cx="366" cy="396" r="5" fill="#555"/>
<circle cx="307" cy="316" r="5" fill="#909090"/>
<circle cx="247" cy="-30" r="6" fill="#555"/>
<circle cx="44" cy="372" r="7" fill="#909090"/>
<circle cx="202" cy="474" r="5" fill="#555"/>
<circle cx="201" cy="551" r="7" fill="#555"/>
<circle cx="292" cy="205" r="6" fill="#555"/>
<circle cx="247" cy="35" r="7" fill="#909090"/>
<circle cx="480" cy="89" r="5" fill="#444"/>
<circle cx="195" cy="297" r="6" fill="#555"/>
<circle cx="-20" cy="155" r="7" fill="#555"/>
<circle cx="251" cy="281" r="6" fill="#a0a0a0"/>
<circle cx="169" cy="506" r="3" fill="#909090"/>
<circle cx="516" cy="314" r="3" fill="#909090"/>
<circle cx="72" cy="443" r="7" fill="#444"/>
<circle cx="328" cy="329" r="6" fill="#a0a0a0"/>
<circle cx="246" cy="41" r="6" fill="#909090"/>
<circle cx="211" cy="253" r="3" fill="#909090"/>
<circle cx="235" cy="5" r="7" fill="#444"/>
<circle cx="137" cy="7" r="4" fill="#a0a0a0"/>
<circle cx="354" cy="322" r="5" fill="#909090"/>
<circle cx="174" cy="437" r="7" fill="#909090"/>
<circle cx="98" cy="362" r="5" fill="#a0a0a0"/>
<circle cx="61" cy="190" r="5" fill="#444"/>
<circle cx="56" cy="449" r="3" fill="#909090"/>
<circle cx="400" cy="242" r="3" fill="#a0a0a0"/>
<circle cx="140" cy="10" r="5" fill="#555"/>
<circle cx="-5" cy="398" r="4" fill="#444"/>
<circle cx="417" cy="369" r="5" fill="#909090"/>
<circle cx="133" cy="341" r="6" fill="#555"/>
<circle cx="367" cy="-3" r="4" fill="#444"/>
<circle cx="142" cy="156" r="6" fill="#444"/>
<circle cx="222" cy="158" r="4" fill="#555"/>
<circle cx="248" cy="21" r="5" fill="#909090"/>
<circle cx="253" cy="495" r="6" fill="#a0a0a0"/>
<circle cx="-24" cy="201" r="5" fill="#a0a0a0"/>
<circle cx="66" cy="250" r="6" fill="#444"/>
<circle cx="416" cy="408" r="4" fill="#444"/>
<circle cx="-24" cy="200" r="4" fill="#909090"/>
<circle cx="98" cy="421" r="6" fill="#909090"/>
<circle cx="349" cy="-5" r="3" fill="#909090"/>
<circle cx="170" cy="524" r="4" fill="#555"/>
<circle cx="365" cy="79" r="5" fill="#909090"/>
<circle cx="337" cy="429" r="6" fill="#555"/>
<circle cx="93" cy="62" r="6" fill="#444"/>
<circle cx="331" cy="131" r="5" fill="#a0a0a0"/>
<circle cx="110" cy="466" r="5" fill="#a0a0a0"/>
<circle cx="387" cy="155" r="3" fill="#909090"/>
<circle cx="112" cy="336" r="4" fill="#a0a0a0"/>
<circle cx="132" cy="111" r="7" fill="#555"/>
<circle cx="193" cy="390" r="5" fill="#444"/>
<circle cx="162" cy="244" r="6" fill="#909090"/>
<circle cx="40" cy="184" r="6" fill="#444"/>
<circle cx="302" cy="124" r="5" fill="#909090"/>
<circle cx="144" cy="499" r="7" fill="#444"/>
<circle cx="329" cy="424" r="6" fill="#555"/>
<circle cx="551" cy="232" r="4" fill="#a0a0a0"/>
<circle cx="7" cy="213" r="7" fill="#909090"/>
<circle cx="140" cy="470" r="4" fill="#a0a0a0"/>
<circle cx="182" cy="284" r="5" fill="#a0a0a0"/>
<circle cx="331" cy="145" r="5" fill="#444"/>
<circle cx="182" cy="407" r="5" fill="#444"/>
<circle cx="309" cy="437" r="5" fill="#909090"/>
<circle cx="78" cy="150" r="4" fill="#a0a0a0"/>
<circle cx="151" cy="449" r="5" fill="#555"/>
<circle cx="274" cy="543" r="5" fill="#555"/>
<circle cx="520" cy="289" r="4" fill="#909090"/>
<circle cx="263" cy="519" r="6" fill="#555"/>
<circle cx="436" cy="280" r="5" fill="#555"/>
<circle cx="79" cy="240" r="7" fill="#a0a0a0"/>
<circle cx="273" cy="-36" r="5" fill="#555"/>
<circle cx="-32" cy="196" r="6" fill="#444"/>
<circle cx="263" cy="96" r="5" fill="#909090"/>
<circle cx="318" cy="403" r="4" fill="#444"/>
<circle cx="423" cy="173" r="4" fill="#444"/>
<circle cx="243" cy="233" r="7" fill="#444"/>
<circle cx="95" cy="305" r="4" fill="#909090"/>
<circle cx="252" cy="45" r="5" fill="#444"/>
<circle cx="97" cy="417" r="4" fill="#555"/>
<circle cx="362" cy="500" r="4" fill="#555"/>
<circle cx="142" cy="32" r="5" fill="#444"/>
<circle cx="523" cy="403" r="6" fill="#444"/>
<circle cx="122" cy="460" r="5" fill="#444"/>
<circle cx="221" cy="472" r="6" fill="#909090"/>
<circle cx="201" cy="131" r="3" fill="#444"/>
<circle cx="453" cy="179" r="5" fill="#a0a0a0"/>
<circle cx="122" cy="244" r="4" fill="#a0a0a0"/>
<circle cx="191" cy="112" r="7" fill="#a0a0a0"/>
<circle cx="338" cy="155" r="6" fill="#555"/>
<circle cx="210" cy="135" r="7" fill="#909090"/>
<circle cx="314" cy="200" r="5" fill="#909090"/>
<circle cx="344" cy="208" r="4" fill="#444"/>
<circle cx="393" cy="129" r="6" fill="#909090"/>
<circle cx="101" cy="416" r="4" fill="#555"/>
<circle cx="184" cy="176" r="7" fill="#444"/>
<circle cx="494" cy="97" r="5" fill="#555"/>
<circle cx="38" cy="230" r="4" fill="#444"/>
<circle cx="331" cy="-31" r="4" fill="#909090"/>
<circle cx="427" cy="106" r="4" fill="#a0a0a0"/>
<circle cx="93" cy="73" r="6" fill="#555"/>
<circle cx="359" cy="288" r="4" fill="#444"/>
<circle cx="92" cy="336" r="5" fill="#555"/>
<circle cx="114" cy="496" r="3" fill="#909090"/>
<circle cx="265" cy="521" r="5" fill="#444"/>
<circle cx="428" cy="219" r="6" fill="#909090"/>
<circle cx="220" cy="81" r="5" fill="#909090"/>
<circle cx="164" cy="109" r="7" fill="#a0a0a0"/>
<circle cx="110" cy="505" r="7" fill="#444"/>
<circle cx="30" cy="97" r="5" fill="#444"/>
<circle cx="206" cy="267" r="7" fill="#a0a0a0"/>
<circle cx="294" cy="388" r="7" fill="#555"/>
<circle cx="316" cy="402" r="3" fill="#909090"/>
<circle cx="254" cy="381" r="6" fill="#444"/>
<circle cx="306" cy="299" r="4" fill="#555"/>
<circle cx="390" cy="206" r="7" fill="#555"/>
<circle cx="258" cy="500" r="5" fill="#555"/>
<circle cx="335" cy="476" r="4" fill="#a0a0a0"/>
<circle cx="57" cy="387" r="4" fill="#909090"/>
<circle cx="18" cy="279" r="7" fill="#555"/>
<circle cx="223" cy="-15" r="7" fill="#a0a0a0"/>
<circle cx="136" cy="53" r="5" fill="#555"/>
<circle cx="161" cy="62" r="6" fill="#444"/>
<circle cx="232" cy="465" r="3" fill="#444"/>
<circle cx="345" cy="76" r="6" fill="#909090"/>
<circle cx="91" cy="502" r="4" fill="#a0a0a0"/>
<circle cx="167" cy="478" r="4" fill="#a0a0a0"/>
<circle cx="105" cy="229" r="3" fill="#444"/>
<circle cx="216" cy="153" r="6" fill="#909090"/>
<circle cx="71" cy="254" r="4" fill="#909090"/>
<circle cx="375" cy="308" r="7" fill="#a0a0a0"/>
<circle cx="524" cy="262" r="5" fill="#909090"/>
<circle cx="429" cy="174" r="7" fill="#a0a0a0"/>
<circle cx="252" cy="358" r="6" fill="#444"/>
<circle cx="139" cy="485" r="5" fill="#555"/>
<circle cx="224" cy="91" r="5" fill="#909090"/>
<circle cx="530" cy="241" r="5" fill="#a0a0a0"/>
<circle cx="129" cy="276" r="4" fill="#555"/>
<circle cx="502" cy="403" r="5" fill="#444"/>
<circle cx="242" cy="384" r="4" fill="#a0a0a0"/>
<circle cx="305" cy="25" r="3" fill="#a0a0a0"/>
<circle cx="231" cy="318" r="5" fill="#a0a0a0"/>
<circle cx="171" cy="273" r="5" fill="#909090"/>
<circle cx="256" cy="537" r="7" fill="#909090"/>
<circle cx="-20" cy="216" r="4" fill="#555"/>
<circle cx="-2" cy="200" r="3" fill="#444"/>
<circle cx="321" cy="123" r="7" fill="#444"/>
<circle cx="220" cy="279" r="6" fill="#a0a0a0"/>
<circle cx="236" cy="218" r="6" fill="#909090"/>
<circle cx="441" cy="121" r="7" fill="#555"/>
<circle cx="121" cy="220" r="3" fill="#909090"/>
<circle cx="444" cy="137" r="4" fill="#909090"/>
<circle cx="142" cy="382" r="7" fill="#444"/>
<circle cx="423" cy="412" r="4" fill="#a0a0a0"/>
<circle cx="117" cy="185" r="6" fill="#a0a0a0"/>
<circle cx="221" cy="8" r="4" fill="#909090"/>
<circle cx="-24" cy="219" r="5" fill="#555"/>
<circle cx="209" cy="160" r="4" fill="#444"/>
<circle cx="550" cy="224" r="5" fill="#555"/>
<circle cx="236" cy="352" r="6" fill="#444"/>
<circle cx="177" cy="294" r="3" fill="#909090"/>
<circle cx="36" cy="301" r="4" fill="#444"/>
<circle cx="411" cy="294" r="6" fill="#444"/>
<circle cx="146" cy="503" r="5" fill="#a0a0a0"/>
<circle cx="66" cy="204" r="6" fill="#909090"/>
<circle cx="450" cy="226" r="7" fill="#909090"/>
<circle cx="113" cy="353" r="3" fill="#444"/>
<circle cx="176" cy="74" r="5" fill="#555"/>
<circle cx="268" cy="354" r="7" fill="#444"/>
<circle cx="132" cy="498" r="6" fill="#a0a0a0"/>
<circle cx="199" cy="507" r="3" fill="#909090"/>
<circle cx="167" cy="295" r="6" fill="#444"/>
<circle cx="85" cy="363" r="5" fill="#555"/>
<circle cx="279" cy="369" r="5" fill="#909090"/>
<circle cx="168" cy="146" r="3" fill="#909090"/>
<circle cx="436" cy="369" r="7" fill="#555"/>
<circle cx="188" cy="264" r="4" fill="#555"/>
<circle cx="42" cy="65" r="4" fill="#555"/>
<circle cx="123" cy="274" r="3" fill="#a0a0a0"/>
<circle cx="308" cy="452" r="4" fill="#909090"/>
<circle cx="161" cy="70" r="5" fill="#a0a0a0"/>
<circle cx="240" cy="156" r="5" fill="#909090"/>
<circle cx="106" cy="434" r="7" fill="#555"/>
<circle cx="249" cy="431" r="4" fill="#444"/>
<circle cx="155" cy="200" r="4" fill="#a0a0a0"/>
<circle cx="404" cy="317" r="6" fill="#909090"/>
<circle cx="202" cy="95" r="6" fill="#909090"/>
<circle cx="395" cy="158" r="5" fill="#909090"/>
<circle cx="335" cy="378" r="5" fill="#909090"/>
<circle cx="343" cy="180" r="5" fill="#a0a0a0"/>
<circle cx="137" cy="218" r="3" fill="#444"/>
<circle cx="373" cy="466" r="5" fill="#909090"/>
<circle cx="356" cy="239" r="6" fill="#a0a0a0"/>
<circle cx="-6" cy="312" r="5" fill="#909090"/>
<circle cx="274" cy="510" r="5" fill="#a0a0a0"/>
<circle cx="470" cy="129" r="4" fill="#555"/>
<circle cx="365" cy="113" r="4" fill="#444"/>
<circle cx="445" cy="429" r="4" fill="#444"/>
<circle cx="83" cy="247" r="5" fill="#a0a0a0"/>
<circle cx="208" cy="443" r="6" fill="#444"/>
<circle cx="36" cy="397" r="3" fill="#909090"/>
<circle cx="271" cy="17" r="5" fill="#444"/>
<circle cx="-25" cy="327" r="6" fill="#555"/>
<circle cx="115" cy="37" r="6" fill="#909090"/>
<circle cx="349" cy="-17" r="4" fill="#a0a0a0"/>
<circle cx="29" cy="266" r="3" fill="#444"/>
<circle cx="305" cy="466" r="6" fill="#444"/>
<circle cx="115" cy="39" r="6" fill="#a0a0a0"/>
<circle cx="313" cy="544" r="6" fill="#555"/>
<circle cx="104" cy="204" r="6" fill="#909090"/>
<circle cx="42" cy="307" r="6" fill="#a0a0a0"/>
<circle cx="349" cy="404" r="6" fill="#a0a0a0"/>
<circle cx="426" cy="60" r="5" fill="#444"/>
<circle cx="256" cy="298" r="4" fill="#555"/>
<circle cx="293" cy="61" r="7" fill="#909090"/>
<circle cx="393" cy="167" r="7" fill="#a0a0a0"/>
<circle cx="-0" cy="302" r="5" fill="#909090"/>
<circle cx="218" cy="381" r="4" fill="#909090"/>
<circle cx="196" cy="266" r="4" fill="#909090"/>
<circle cx="79" cy="138" r="5" fill="#444"/>
<circle cx="306" cy="301" r="6" fill="#a0a0a0"/>
<circle cx="-10" cy="144" r="6" fill="#a0a0a0"/>
<circle cx="275" cy="359" r="6" fill="#909090"/>
<circle cx="143" cy="433" r="5" fill="#909090"/>
<circle cx="431" cy="252" r="4" fill="#a0a0a0"/>
<circle cx="122" cy="361" r="4" fill="#909090"/>
<circle cx="290" cy="178" r="3" fill="#555"/>
<circle cx="174" cy="57" r="4" fill="#909090"/>
<circle cx="295" cy="394" r="4" fill="#444"/>
<circle cx="305" cy="140" r="6" fill="#555"/>
<circle cx="484" cy="457" r="3" fill="#a0a0a0"/>
<circle cx="426" cy="502" r="4" fill="#909090"/>
<circle cx="333" cy="332" r="4" fill="#a0a0a0"/>
<circle cx="94" cy="330" r="4" fill="#444"/>
<circle cx="176" cy="467" r="6" fill="#555"/>
<circle cx="-17" cy="321" r="3" fill="#a0a0a0"/>
<circle cx="159" cy="119" r="4" fill="#444"/>
<circle cx="313" cy="266" r="4" fill="#555"/>
<circle cx="210" cy="141" r="4" fill="#a0a0a0"/>
<circle cx="166" cy="388" r="3" fill="#555"/>
<circle cx="312" cy="62" r="3" fill="#555"/>
<circle cx="62" cy="301" r="6" fill="#909090"/>
<circle cx="353" cy="10" r="4" fill="#555"/>
<circle cx="2" cy="337" r="6" fill="#555"/>
<circle cx="475" cy="74" r="4" fill="#909090"/>
<circle cx="263" cy="331" r="5" fill="#a0a0a0"/>
<circle cx="270" cy="55" r="5" fill="#555"/>
<circle cx="187" cy="414" r="3" fill="#444"/>
<circle cx="394" cy="77" r="4" fill="#444"/>
<circle cx="227" cy="113" r="7" fill="#555"/>
<circle cx="344" cy="-27" r="6" fill="#555"/>
<circle cx="217" cy="534" r="5" fill="#444"/>
<circle cx="428" cy="204" r="6" fill="#555"/>
<circle cx="345" cy="13" r="4" fill="#555"/>
<circle cx="117" cy="290" r="3" fill="#a0a0a0"/>
<circle cx="63" cy="402" r="6" fill="#444"/>
<circle cx="267" cy="140" r="4" fill="#a0a0a0"/>
<circle cx="-14" cy="246" r="6" fill="#a0a0a0"/>
<circle cx="144" cy="355" r="7" fill="#a0a0a0"/>
<circle cx="66" cy="407" r="6" fill="#555"/>
<circle cx="352" cy="376" r="5" fill="#555"/>
<circle cx="374" cy="142" r="6" fill="#444"/>
<circle cx="465" cy="273" r="4" fill="#444"/>
<circle cx="137" cy="302" r="4" fill="#a0a0a0"/>
<circle cx="473" cy="308" r="6" fill="#a0a0a0"/>
<circle cx="343" cy="378" r="6" fill="#909090"/>
<circle cx="149" cy="351" r="6" fill="#a0a0a0"/>
<circle cx="470" cy="76" r="4" fill="#555"/>
<circle cx="410" cy="204" r="5" fill="#444"/>
<circle cx="333" cy="215" r="6" fill="#555"/>
<circle cx="65" cy="415" r="5" fill="#a0a0a0"/>
<circle cx="473" cy="298" r="6" fill="#909090"/>
<circle cx="517" cy="141" r="5" fill="#a0a0a0"/>
<circle cx="317" cy="317" r="6" fill="#a0a0a0"/>
<circle cx="80" cy="71" r="3" fill="#909090"/>
<circle cx="342" cy="439" r="4" fill="#555"/>
<circle cx="518" cy="157" r="5" fill="#a0a0a0"/>
<circle cx="463" cy="239" r="6" fill="#555"/>
<circle cx="369" cy="349" r="4" fill="#909090"/>
<circle cx="367" cy="289" r="7" fill="#909090"/>
<circle cx="61" cy="431" r="3" fill="#909090"/>
<circle cx="529" cy="196" r="4" fill="#444"/>
<path d="M420,40 L520,40 L520,210 L450,200 Q420,120 420,40 Z" fill="#4a4a4a"/>
<circle cx="493" cy="117" r="9" fill="#777"/>
<circle cx="474" cy="110" r="5" fill="#222"/>
<circle cx="437" cy="77" r="5" fill="#777"/>
<circle cx="462" cy="177" r="8" fill="#777"/>
<circle cx="515" cy="132" r="7" fill="#777"/>
<circle cx="474" cy="63" r="7" fill="#222"/>
<circle cx="448" cy="92" r="8" fill="#777"/>
<circle cx="501" cy="145" r="6" fill="#222"/>
<circle cx="440" cy="73" r="8" fill="#777"/>
<circle cx="466" cy="67" r="5" fill="#222"/>
<circle cx="429" cy="141" r="5" fill="#222"/>
<circle cx="475" cy="109" r="7" fill="#222"/>
<circle cx="505" cy="171" r="6" fill="#222"/>
<circle cx="501" cy="78" r="7" fill="#777"/>
<circle cx="473" cy="147" r="4" fill="#222"/>
<circle cx="424" cy="140" r="4" fill="#777"/>
<circle cx="472" cy="65" r="8" fill="#777"/>
<circle cx="470" cy="147" r="5" fill="#777"/>
<circle cx="435" cy="64" r="4" fill="#222"/>
<circle cx="452" cy="73" r="5" fill="#222"/>
<circle cx="446" cy="161" r="8" fill="#222"/>
<circle cx="443" cy="92" r="6" fill="#777"/>
<circle cx="450" cy="67" r="6" fill="#222"/>
<circle cx="468" cy="171" r="4" fill="#222"/>
<circle cx="492" cy="88" r="6" fill="#777"/>
<circle cx="488" cy="129" r="7" fill="#777"/>
<circle cx="447" cy="145" r="7" fill="#222"/>
<circle cx="468" cy="74" r="8" fill="#777"/>
<circle cx="510" cy="137" r="4" fill="#777"/>
<circle cx="504" cy="67" r="4" fill="#222"/>
<circle cx="441" cy="144" r="6" fill="#222"/>
<circle cx="489" cy="173" r="4" fill="#222"/>
<circle cx="499" cy="164" r="5" fill="#777"/>
<circle cx="472" cy="200" r="9" fill="#777"/>
<circle cx="479" cy="133" r="5" fill="#222"/>
<circle cx="441" cy="66" r="7" fill="#777"/>
<circle cx="462" cy="65" r="9" fill="#777"/>
<circle cx="441" cy="177" r="7" fill="#777"/>
<circle cx="485" cy="162" r="4" fill="#777"/>
<circle cx="514" cy="150" r="6" fill="#222"/>
<ellipse cx="180" cy="75" rx="35" ry="25" fill="#3a3a3a" stroke="#1a1a1a" stroke-width="8"/>
<ellipse cx="150" cy="160" rx="58" ry="58" fill="#8c8c8c" stroke="#1a1a1a" stroke-width="12"/>
<ellipse cx="280" cy="175" rx="68" ry="62" fill="#7a7a7a" stroke="#1a1a1a" stroke-width="12"/>
<ellipse cx="165" cy="325" rx="68" ry="46" fill="#6a6a6a" stroke="#1a1a1a" stroke-width="12"/>
<ellipse cx="105" cy="400" rx="48" ry="42" fill="#6e6e6e" stroke="#1a1a1a" stroke-width="12"/>
<ellipse cx="375" cy="250" rx="36" ry="26" fill="#6a6a6a" stroke="#1a1a1a" stroke-width="12"/>
<ellipse cx="250" cy="470" rx="50" ry="30" fill="#6a6a6a" stroke="#1a1a1a" stroke-width="12"/>
<line x1="111" y1="292" x2="219" y2="312" stroke="#333" stroke-width="5"/>
<line x1="111" y1="308" x2="219" y2="328" stroke="#333" stroke-width="5"/>
<line x1="111" y1="324" x2="219" y2="344" stroke="#333" stroke-width="5"/>
<line x1="111" y1="340" x2="219" y2="360" stroke="#333" stroke-width="5"/>
<line x1="67" y1="369" x2="143" y2="389" stroke="#333" stroke-width="5"/>
<line x1="67" y1="384" x2="143" y2="404" stroke="#333" stroke-width="5"/>
<line x1="67" y1="398" x2="143" y2="418" stroke="#333" stroke-width="5"/>
<line x1="67" y1="413" x2="143" y2="433" stroke="#333" stroke-width="5"/>
<line x1="226" y1="134" x2="334" y2="154" stroke="#333" stroke-width="5"/>
<line x1="226" y1="156" x2="334" y2="176" stroke="#333" stroke-width="5"/>
<line x1="226" y1="177" x2="334" y2="197" stroke="#333" stroke-width="5"/>
<line x1="226" y1="199" x2="334" y2="219" stroke="#333" stroke-width="5"/>
<circle cx="135" cy="165" r="25" fill="#c0c0c0"/>
<circle cx="450" cy="175" r="25" fill="#2a2a2a"/>
<path d="M0,120 Q40,200 20,260" stroke="#333" stroke-width="8" fill="none"/>
</g></g>
<g filter="url(#soft)"><g transform="translate(103 183) scale(0.165371)">
<ellipse cx="290" cy="310" rx="30" ry="28" fill="#e8e8e8"/>
<ellipse cx="425" cy="335" rx="30" ry="28" fill="#e8e8e8"/>
<ellipse cx="25" cy="355" rx="30" ry="45" fill="#e8e8e8"/>
<ellipse cx="275" cy="395" rx="25" ry="22" fill="#e8e8e8"/>
<ellipse cx="310" cy="440" rx="60" ry="30" fill="#e8e8e8"/>
<ellipse cx="230" cy="485" rx="45" ry="28" fill="#e8e8e8"/>
<ellipse cx="410" cy="485" rx="40" ry="25" fill="#e8e8e8"/>
<path d="M200,100 L240,105 L212,145 Z" fill="#111"/>
<path d="M332,80 L365,100 L328,135 Z" fill="#111"/>
<path d="M312,405 L330,440 L346,405" stroke="#111" stroke-width="7" fill="none"/>
<path d="M270,420 Q300,460 360,445 M190,470 Q230,450 270,470" stroke="#222" stroke-width="6" fill="none"/>
</g></g>
</g>
<rect x="106.00" y="186.70" width="81.40" height="81.40" fill="none" stroke="#1e1e1e" stroke-width="1.4"/>
<g clip-path="url(#cp22)"><g filter="url(#gr22)"><g transform="translate(189 183) scale(0.165371)">
<rect x="0" y="0" width="520" height="520" fill="#6e6e6e"/>
<circle cx="257" cy="294" r="6" fill="#505050"/>
<circle cx="136" cy="442" r="3" fill="#505050"/>
<circle cx="176" cy="203" r="4" fill="#a0a0a0"/>
<circle cx="262" cy="15" r="4" fill="#404040"/>
<circle cx="220" cy="47" r="6" fill="#505050"/>
<circle cx="503" cy="403" r="6" fill="#8e8e8e"/>
<circle cx="547" cy="331" r="6" fill="#a0a0a0"/>
<circle cx="429" cy="329" r="5" fill="#a0a0a0"/>
<circle cx="191" cy="470" r="7" fill="#8e8e8e"/>
<circle cx="67" cy="240" r="6" fill="#8e8e8e"/>
<circle cx="90" cy="333" r="5" fill="#404040"/>
<circle cx="456" cy="121" r="7" fill="#a0a0a0"/>
<circle cx="41" cy="196" r="3" fill="#505050"/>
<circle cx="350" cy="337" r="5" fill="#505050"/>
<circle cx="402" cy="393" r="6" fill="#a0a0a0"/>
<circle cx="542" cy="262" r="7" fill="#404040"/>
<circle cx="483" cy="386" r="6" fill="#a0a0a0"/>
<circle cx="199" cy="351" r="4" fill="#8e8e8e"/>
<circle cx="206" cy="252" r="4" fill="#a0a0a0"/>
<circle cx="69" cy="61" r="5" fill="#505050"/>
<circle cx="315" cy="14" r="5" fill="#a0a0a0"/>
<circle cx="62" cy="472" r="5" fill="#8e8e8e"/>
<circle cx="100" cy="240" r="7" fill="#8e8e8e"/>
<circle cx="429" cy="395" r="5" fill="#404040"/>
<circle cx="412" cy="444" r="6" fill="#505050"/>
<circle cx="416" cy="252" r="5" fill="#404040"/>
<circle cx="-8" cy="166" r="5" fill="#505050"/>
<circle cx="427" cy="484" r="5" fill="#8e8e8e"/>
<circle cx="375" cy="521" r="5" fill="#505050"/>
<circle cx="350" cy="330" r="7" fill="#505050"/>
<circle cx="146" cy="377" r="7" fill="#a0a0a0"/>
<circle cx="111" cy="309" r="6" fill="#a0a0a0"/>
<circle cx="265" cy="429" r="5" fill="#505050"/>
<circle cx="404" cy="229" r="5" fill="#505050"/>
<circle cx="22" cy="187" r="5" fill="#a0a0a0"/>
<circle cx="83" cy="452" r="5" fill="#505050"/>
<circle cx="348" cy="449" r="6" fill="#8e8e8e"/>
<circle cx="235" cy="51" r="6" fill="#404040"/>
<circle cx="281" cy="-22" r="7" fill="#a0a0a0"/>
<circle cx="231" cy="62" r="4" fill="#505050"/>
<circle cx="89" cy="248" r="4" fill="#8e8e8e"/>
<circle cx="-38" cy="260" r="4" fill="#505050"/>
<circle cx="310" cy="225" r="5" fill="#a0a0a0"/>
<circle cx="148" cy="55" r="5" fill="#505050"/>
<circle cx="136" cy="45" r="4" fill="#8e8e8e"/>
<circle cx="405" cy="445" r="4" fill="#a0a0a0"/>
<circle cx="289" cy="444" r="3" fill="#404040"/>
<circle cx="225" cy="163" r="7" fill="#8e8e8e"/>
<circle cx="507" cy="132" r="3" fill="#a0a0a0"/>
<circle cx="68" cy="342" r="3" fill="#505050"/>
<circle cx="289" cy="351" r="5" fill="#404040"/>
<circle cx="531" cy="298" r="5" fill="#404040"/>
<circle cx="450" cy="488" r="3" fill="#a0a0a0"/>
<circle cx="99" cy="36" r="6" fill="#8e8e8e"/>
<circle cx="146" cy="-10" r="4" fill="#a0a0a0"/>
<circle cx="343" cy="322" r="6" fill="#404040"/>
<circle cx="103" cy="303" r="7" fill="#a0a0a0"/>
<circle cx="154" cy="238" r="4" fill="#505050"/>
<circle cx="296" cy="96" r="3" fill="#a0a0a0"/>
<circle cx="449" cy="213" r="6" fill="#a0a0a0"/>
<circle cx="113" cy="20" r="7" fill="#a0a0a0"/>
<circle cx="333" cy="203" r="4" fill="#505050"/>
<circle cx="248" cy="260" r="7" fill="#505050"/>
<circle cx="33" cy="116" r="4" fill="#a0a0a0"/>
<circle cx="341" cy="472" r="7" fill="#404040"/>
<circle cx="162" cy="380" r="4" fill="#505050"/>
<circle cx="178" cy="278" r="5" fill="#a0a0a0"/>
<circle cx="91" cy="303" r="5" fill="#8e8e8e"/>
<circle cx="288" cy="124" r="4" fill="#404040"/>
<circle cx="190" cy="10" r="5" fill="#505050"/>
<circle cx="414" cy="166" r="5" fill="#505050"/>
<circle cx="226" cy="537" r="5" fill="#505050"/>
<circle cx="199" cy="325" r="6" fill="#a0a0a0"/>
<circle cx="188" cy="231" r="5" fill="#8e8e8e"/>
<circle cx="109" cy="504" r="5" fill="#404040"/>
<circle cx="424" cy="35" r="6" fill="#8e8e8e"/>
<circle cx="286" cy="160" r="5" fill="#404040"/>
<circle cx="427" cy="490" r="3" fill="#404040"/>
<circle cx="85" cy="47" r="3" fill="#404040"/>
<circle cx="137" cy="428" r="4" fill="#a0a0a0"/>
<circle cx="207" cy="334" r="4" fill="#505050"/>
<circle cx="110" cy="271" r="4" fill="#505050"/>
<circle cx="294" cy="388" r="6" fill="#a0a0a0"/>
<circle cx="160" cy="364" r="4" fill="#404040"/>
<circle cx="395" cy="334" r="3" fill="#505050"/>
<circle cx="517" cy="215" r="3" fill="#8e8e8e"/>
<circle cx="163" cy="541" r="6" fill="#505050"/>
<circle cx="151" cy="231" r="6" fill="#404040"/>
<circle cx="276" cy="331" r="6" fill="#8e8e8e"/>
<circle cx="214" cy="8" r="6" fill="#a0a0a0"/>
<circle cx="434" cy="100" r="6" fill="#a0a0a0"/>
<circle cx="335" cy="228" r="4" fill="#505050"/>
<circle cx="375" cy="251" r="5" fill="#8e8e8e"/>
<circle cx="330" cy="337" r="6" fill="#a0a0a0"/>
<circle cx="118" cy="343" r="4" fill="#505050"/>
<circle cx="400" cy="142" r="5" fill="#404040"/>
<circle cx="191" cy="521" r="4" fill="#404040"/>
<circle cx="423" cy="129" r="5" fill="#505050"/>
<circle cx="99" cy="327" r="5" fill="#a0a0a0"/>
<circle cx="301" cy="243" r="5" fill="#404040"/>
<circle cx="243" cy="-29" r="4" fill="#a0a0a0"/>
<circle cx="473" cy="137" r="6" fill="#404040"/>
<circle cx="57" cy="212" r="6" fill="#8e8e8e"/>
<circle cx="474" cy="396" r="6" fill="#505050"/>
<circle cx="390" cy="463" r="6" fill="#a0a0a0"/>
<circle cx="438" cy="238" r="4" fill="#8e8e8e"/>
<circle cx="368" cy="94" r="3" fill="#a0a0a0"/>
<circle cx="446" cy="196" r="4" fill="#8e8e8e"/>
<circle cx="87" cy="174" r="4" fill="#505050"/>
<circle cx="20" cy="254" r="4" fill="#8e8e8e"/>
<circle cx="182" cy="-8" r="4" fill="#404040"/>
<circle cx="271" cy="145" r="7" fill="#a0a0a0"/>
<circle cx="271" cy="519" r="3" fill="#404040"/>
<circle cx="441" cy="471" r="3" fill="#8e8e8e"/>
<circle cx="446" cy="200" r="6" fill="#8e8e8e"/>
<circle cx="438" cy="33" r="7" fill="#a0a0a0"/>
<circle cx="434" cy="208" r="4" fill="#a0a0a0"/>
<circle cx="122" cy="525" r="6" fill="#404040"/>
<circle cx="498" cy="441" r="3" fill="#a0a0a0"/>
<circle cx="483" cy="356" r="7" fill="#8e8e8e"/>
<circle cx="284" cy="214" r="6" fill="#a0a0a0"/>
<circle cx="451" cy="136" r="4" fill="#8e8e8e"/>
<circle cx="107" cy="298" r="4" fill="#404040"/>
<circle cx="170" cy="441" r="3" fill="#8e8e8e"/>
<circle cx="45" cy="385" r="6" fill="#505050"/>
<circle cx="29" cy="128" r="7" fill="#8e8e8e"/>
<circle cx="450" cy="241" r="5" fill="#8e8e8e"/>
<circle cx="194" cy="530" r="4" fill="#505050"/>
<circle cx="167" cy="311" r="4" fill="#a0a0a0"/>
<circle cx="317" cy="4" r="4" fill="#404040"/>
<circle cx="384" cy="322" r="5" fill="#8e8e8e"/>
<circle cx="412" cy="474" r="5" fill="#8e8e8e"/>
<circle cx="383" cy="486" r="5" fill="#8e8e8e"/>
<circle cx="151" cy="428" r="4" fill="#505050"/>
<circle cx="150" cy="266" r="5" fill="#a0a0a0"/>
<circle cx="219" cy="437" r="6" fill="#404040"/>
<circle cx="318" cy="-9" r="5" fill="#505050"/>
<circle cx="282" cy="169" r="3" fill="#404040"/>
<circle cx="73" cy="240" r="3" fill="#404040"/>
<circle cx="253" cy="343" r="6" fill="#404040"/>
<circle cx="97" cy="124" r="4" fill="#404040"/>
<circle cx="29" cy="437" r="6" fill="#404040"/>
<circle cx="123" cy="146" r="3" fill="#404040"/>
<circle cx="541" cy="347" r="5" fill="#8e8e8e"/>
<circle cx="188" cy="33" r="3" fill="#505050"/>
<circle cx="427" cy="367" r="5" fill="#404040"/>
<circle cx="8" cy="247" r="4" fill="#505050"/>
<circle cx="422" cy="320" r="6" fill="#a0a0a0"/>
<circle cx="137" cy="49" r="4" fill="#404040"/>
<circle cx="89" cy="463" r="4" fill="#404040"/>
<circle cx="144" cy="167" r="6" fill="#404040"/>
<circle cx="321" cy="173" r="6" fill="#505050"/>
<circle cx="351" cy="478" r="6" fill="#a0a0a0"/>
<circle cx="376" cy="73" r="6" fill="#505050"/>
<circle cx="-2" cy="308" r="5" fill="#8e8e8e"/>
<circle cx="35" cy="403" r="4" fill="#404040"/>
<circle cx="253" cy="197" r="4" fill="#505050"/>
<circle cx="308" cy="292" r="6" fill="#a0a0a0"/>
<circle cx="344" cy="389" r="5" fill="#a0a0a0"/>
<circle cx="152" cy="33" r="7" fill="#404040"/>
<circle cx="199" cy="400" r="3" fill="#404040"/>
<circle cx="24" cy="337" r="7" fill="#8e8e8e"/>
<circle cx="141" cy="417" r="3" fill="#8e8e8e"/>
<circle cx="334" cy="199" r="7" fill="#a0a0a0"/>
<circle cx="15" cy="353" r="7" fill="#a0a0a0"/>
<circle cx="53" cy="423" r="6" fill="#404040"/>
<circle cx="359" cy="291" r="7" fill="#a0a0a0"/>
<circle cx="289" cy="113" r="7" fill="#8e8e8e"/>
<circle cx="198" cy="174" r="5" fill="#505050"/>
<circle cx="250" cy="297" r="4" fill="#a0a0a0"/>
<circle cx="354" cy="177" r="6" fill="#8e8e8e"/>
<circle cx="229" cy="199" r="7" fill="#505050"/>
<circle cx="11" cy="205" r="5" fill="#505050"/>
<circle cx="14" cy="125" r="6" fill="#8e8e8e"/>
<circle cx="229" cy="150" r="4" fill="#404040"/>
<circle cx="534" cy="228" r="6" fill="#8e8e8e"/>
<circle cx="215" cy="326" r="4" fill="#404040"/>
<circle cx="362" cy="456" r="5" fill="#8e8e8e"/>
<circle cx="70" cy="402" r="5" fill="#8e8e8e"/>
<circle cx="236" cy="406" r="6" fill="#a0a0a0"/>
<circle cx="389" cy="139" r="3" fill="#8e8e8e"/>
<circle cx="371" cy="417" r="4" fill="#a0a0a0"/>
<circle cx="-29" cy="182" r="6" fill="#505050"/>
<circle cx="513" cy="300" r="6" fill="#a0a0a0"/>
<circle cx="89" cy="329" r="4" fill="#505050"/>
<circle cx="498" cy="315" r="5" fill="#404040"/>
<circle cx="99" cy="361" r="6" fill="#404040"/>
<circle cx="-18" cy="268" r="7" fill="#a0a0a0"/>
<circle cx="147" cy="147" r="7" fill="#8e8e8e"/>
<circle cx="400" cy="350" r="5" fill="#a0a0a0"/>
<circle cx="67" cy="73" r="4" fill="#404040"/>
<circle cx="459" cy="371" r="3" fill="#a0a0a0"/>
<circle cx="270" cy="353" r="5" fill="#a0a0a0"/>
<circle cx="441" cy="484" r="4" fill="#8e8e8e"/>
<circle cx="146" cy="502" r="3" fill="#505050"/>
<circle cx="129" cy="320" r="5" fill="#505050"/>
<circle cx="319" cy="287" r="4" fill="#8e8e8e"/>
<circle cx="505" cy="281" r="5" fill="#505050"/>
<circle cx="515" cy="360" r="3" fill="#404040"/>
<circle cx="446" cy="348" r="6" fill="#a0a0a0"/>
<circle cx="310" cy="335" r="6" fill="#8e8e8e"/>
<circle cx="437" cy="345" r="5" fill="#404040"/>
<circle cx="197" cy="307" r="6" fill="#a0a0a0"/>
<circle cx="346" cy="88" r="7" fill="#a0a0a0"/>
<circle cx="120" cy="142" r="4" fill="#404040"/>
<circle cx="259" cy="59" r="4" fill="#a0a0a0"/>
<circle cx="324" cy="334" r="4" fill="#a0a0a0"/>
<circle cx="314" cy="297" r="4" fill="#505050"/>
<circle cx="1" cy="386" r="6" fill="#8e8e8e"/>
<circle cx="267" cy="481" r="6" fill="#a0a0a0"/>
<circle cx="531" cy="228" r="4" fill="#a0a0a0"/>
<circle cx="235" cy="296" r="5" fill="#404040"/>
<circle cx="482" cy="231" r="6" fill="#8e8e8e"/>
<circle cx="186" cy="168" r="5" fill="#404040"/>
<circle cx="60" cy="440" r="6" fill="#a0a0a0"/>
<circle cx="526" cy="254" r="5" fill="#404040"/>
<circle cx="424" cy="307" r="5" fill="#404040"/>
<circle cx="255" cy="273" r="6" fill="#a0a0a0"/>
<circle cx="83" cy="126" r="4" fill="#505050"/>
<circle cx="321" cy="247" r="5" fill="#505050"/>
<circle cx="367" cy="133" r="6" fill="#404040"/>
<circle cx="474" cy="363" r="5" fill="#404040"/>
<circle cx="91" cy="379" r="4" fill="#a0a0a0"/>
<circle cx="403" cy="4" r="5" fill="#8e8e8e"/>
<circle cx="366" cy="410" r="4" fill="#8e8e8e"/>
<circle cx="185" cy="253" r="6" fill="#404040"/>
<circle cx="206" cy="374" r="6" fill="#a0a0a0"/>
<circle cx="405" cy="49" r="6" fill="#8e8e8e"/>
<circle cx="450" cy="120" r="4" fill="#404040"/>
<circle cx="24" cy="338" r="6" fill="#404040"/>
<circle cx="456" cy="223" r="5" fill="#8e8e8e"/>
<circle cx="284" cy="119" r="3" fill="#8e8e8e"/>
<circle cx="334" cy="208" r="3" fill="#404040"/>
<circle cx="53" cy="408" r="4" fill="#a0a0a0"/>
<circle cx="403" cy="73" r="5" fill="#a0a0a0"/>
<circle cx="407" cy="116" r="6" fill="#404040"/>
<circle cx="87" cy="493" r="3" fill="#8e8e8e"/>
<circle cx="221" cy="19" r="5" fill="#8e8e8e"/>
<circle cx="533" cy="205" r="6" fill="#505050"/>
<circle cx="409" cy="187" r="5" fill="#a0a0a0"/>
<circle cx="29" cy="346" r="6" fill="#a0a0a0"/>
<circle cx="232" cy="298" r="5" fill="#a0a0a0"/>
<circle cx="279" cy="482" r="5" fill="#8e8e8e"/>
<circle cx="212" cy="465" r="6" fill="#8e8e8e"/>
<circle cx="360" cy="130" r="5" fill="#505050"/>
<circle cx="42" cy="416" r="6" fill="#404040"/>
<circle cx="137" cy="375" r="5" fill="#a0a0a0"/>
<circle cx="440" cy="333" r="3" fill="#8e8e8e"/>
<circle cx="480" cy="356" r="6" fill="#8e8e8e"/>
<circle cx="423" cy="200" r="4" fill="#a0a0a0"/>
<circle cx="-20" cy="204" r="6" fill="#8e8e8e"/>
<circle cx="365" cy="535" r="7" fill="#a0a0a0"/>
<circle cx="145" cy="467" r="6" fill="#8e8e8e"/>
<circle cx="538" cy="234" r="4" fill="#404040"/>
<circle cx="368" cy="92" r="5" fill="#404040"/>
<circle cx="385" cy="520" r="6" fill="#505050"/>
<circle cx="417" cy="382" r="5" fill="#8e8e8e"/>
<circle cx="446" cy="345" r="6" fill="#8e8e8e"/>
<circle cx="310" cy="208" r="7" fill="#8e8e8e"/>
<circle cx="393" cy="33" r="4" fill="#8e8e8e"/>
<circle cx="318" cy="82" r="6" fill="#a0a0a0"/>
<circle cx="277" cy="70" r="6" fill="#505050"/>
<circle cx="179" cy="28" r="5" fill="#404040"/>
<circle cx="292" cy="499" r="3" fill="#8e8e8e"/>
<circle cx="-6" cy="236" r="4" fill="#8e8e8e"/>
<circle cx="470" cy="438" r="6" fill="#8e8e8e"/>
<circle cx="63" cy="480" r="6" fill="#404040"/>
<circle cx="326" cy="187" r="4" fill="#505050"/>
<circle cx="158" cy="85" r="5" fill="#a0a0a0"/>
<circle cx="325" cy="399" r="6" fill="#404040"/>
<circle cx="101" cy="295" r="6" fill="#404040"/>
<circle cx="414" cy="93" r="5" fill="#8e8e8e"/>
<circle cx="460" cy="258" r="4" fill="#404040"/>
<circle cx="287" cy="429" r="3" fill="#404040"/>
<circle cx="430" cy="315" r="6" fill="#505050"/>
<circle cx="26" cy="349" r="3" fill="#404040"/>
<circle cx="63" cy="402" r="5" fill="#505050"/>
<circle cx="167" cy="204" r="6" fill="#505050"/>
<circle cx="215" cy="150" r="7" fill="#a0a0a0"/>
<circle cx="442" cy="106" r="6" fill="#404040"/>
<circle cx="71" cy="457" r="3" fill="#404040"/>
<circle cx="350" cy="463" r="4" fill="#404040"/>
<circle cx="35" cy="445" r="6" fill="#a0a0a0"/>
<circle cx="317" cy="366" r="6" fill="#505050"/>
<circle cx="167" cy="366" r="5" fill="#505050"/>
<circle cx="551" cy="225" r="4" fill="#505050"/>
<circle cx="455" cy="429" r="6" fill="#a0a0a0"/>
<circle cx="553" cy="239" r="3" fill="#505050"/>
<circle cx="-34" cy="268" r="6" fill="#8e8e8e"/>
<circle cx="353" cy="343" r="6" fill="#8e8e8e"/>
<circle cx="470" cy="85" r="5" fill="#a0a0a0"/>
<circle cx="342" cy="182" r="5" fill="#505050"/>
<circle cx="133" cy="298" r="4" fill="#8e8e8e"/>
<circle cx="323" cy="39" r="3" fill="#8e8e8e"/>
<circle cx="506" cy="312" r="4" fill="#a0a0a0"/>
<circle cx="379" cy="-1" r="6" fill="#a0a0a0"/>
<circle cx="509" cy="157" r="6" fill="#a0a0a0"/>
<circle cx="344" cy="119" r="3" fill="#8e8e8e"/>
<circle cx="146" cy="181" r="7" fill="#a0a0a0"/>
<circle cx="472" cy="56" r="5" fill="#8e8e8e"/>
<circle cx="2" cy="222" r="3" fill="#505050"/>
<circle cx="249" cy="560" r="4" fill="#505050"/>
<circle cx="96" cy="55" r="6" fill="#404040"/>
<circle cx="245" cy="250" r="3" fill="#a0a0a0"/>
<circle cx="472" cy="51" r="4" fill="#505050"/>
<circle cx="224" cy="159" r="3" fill="#404040"/>
<circle cx="364" cy="442" r="7" fill="#8e8e8e"/>
<circle cx="435" cy="307" r="6" fill="#505050"/>
<circle cx="251" cy="255" r="4" fill="#a0a0a0"/>
<circle cx="302" cy="237" r="6" fill="#8e8e8e"/>
<circle cx="238" cy="305" r="4" fill="#a0a0a0"/>
<circle cx="364" cy="350" r="4" fill="#505050"/>
<circle cx="288" cy="154" r="4" fill="#505050"/>
<circle cx="65" cy="474" r="5" fill="#8e8e8e"/>
<circle cx="219" cy="254" r="5" fill="#505050"/>
<circle cx="369" cy="302" r="5" fill="#404040"/>
<circle cx="417" cy="175" r="4" fill="#8e8e8e"/>
<circle cx="351" cy="454" r="5" fill="#a0a0a0"/>
<circle cx="298" cy="306" r="5" fill="#404040"/>
<circle cx="352" cy="323" r="6" fill="#8e8e8e"/>
<path d="M90,150 Q60,200 100,240 Q130,250 140,220" fill="#4a4a4a" stroke="#222" stroke-width="9"/>
<path d="M15,20 L40,20 Q50,150 30,250 L15,260 Z" fill="#333"/>
<ellipse cx="410" cy="90" rx="38" ry="17" fill="#3a3a3a" stroke="#111" stroke-width="7" transform="rotate(-25 410 90)"/>
<ellipse cx="400" cy="180" rx="22" ry="38" fill="#3a3a3a" stroke="#111" stroke-width="7" transform="rotate(20 400 180)"/>
<ellipse cx="400" cy="355" rx="35" ry="48" fill="#3a3a3a" stroke="#111" stroke-width="7"/>
<ellipse cx="460" cy="355" rx="25" ry="25" fill="#3a3a3a" stroke="#111" stroke-width="7"/>
<ellipse cx="340" cy="390" rx="20" ry="30" fill="#3a3a3a" stroke="#111" stroke-width="7"/>
<ellipse cx="400" cy="445" rx="20" ry="20" fill="#3a3a3a" stroke="#111" stroke-width="7"/>
<ellipse cx="190" cy="460" rx="22" ry="20" fill="#3a3a3a" stroke="#111" stroke-width="7"/>
<ellipse cx="190" cy="390" rx="20" ry="18" fill="#3a3a3a" stroke="#111" stroke-width="7"/>
<ellipse cx="30" cy="420" rx="15" ry="40" fill="#3a3a3a" stroke="#111" stroke-width="7"/>
<ellipse cx="470" cy="250" rx="12" ry="40" fill="#3a3a3a" stroke="#111" stroke-width="7"/>
<ellipse cx="100" cy="330" rx="18" ry="12" fill="#3a3a3a" stroke="#111" stroke-width="7"/>
<path d="M232,330 Q200,200 250,160 Q300,140 300,190 Q280,260 252,330" fill="#6a6a6a" stroke="#1e1e1e" stroke-width="14"/>
<path d="M300,200 Q380,220 430,300 M330,300 Q360,330 420,300 M100,300 Q130,350 90,420" stroke="#2a2a2a" stroke-width="7" fill="none"/>
</g></g>
<g filter="url(#soft)"><g transform="translate(189 183) scale(0.165371)">
<circle cx="145" cy="110" r="30" fill="#c8c8c8" stroke="#555" stroke-width="3"/>
<circle cx="205" cy="95" r="25" fill="#c8c8c8" stroke="#555" stroke-width="3"/>
<circle cx="140" cy="50" r="20" fill="#c8c8c8" stroke="#555" stroke-width="3"/>
<circle cx="160" cy="325" r="30" fill="#c8c8c8" stroke="#555" stroke-width="3"/>
<circle cx="115" cy="280" r="20" fill="#c8c8c8" stroke="#555" stroke-width="3"/>
<circle cx="300" cy="60" r="22" fill="#c8c8c8" stroke="#555" stroke-width="3"/>
<circle cx="400" cy="320" r="14" fill="#c8c8c8" stroke="#555" stroke-width="3"/>
<path d="M440,110 L482,172 L445,162 Z" fill="#111"/>
<path d="M455,245 L480,300 L450,290 Z" fill="#111"/>
</g></g>
</g>
<rect x="192.00" y="186.70" width="81.30" height="81.40" fill="none" stroke="#1e1e1e" stroke-width="1.4"/>
<text x="216.0" y="581.2" font-size="8.9" text-anchor="middle" fill="#231f20">BAX<tspan font-size="6.6" dy="-3.4">&#8211;/&#8211;</tspan><tspan dy="3.4"> BAK</tspan><tspan font-size="6.6" dy="-3.4">&#8211;/&#8211;</tspan><tspan dy="3.4"> MCL1</tspan><tspan font-size="6.6" dy="-3.4">&#8211;/&#8211;</tspan><tspan dy="3.4"> MEFs</tspan></text>
<text x="106.8" y="598.0" font-size="8.6" text-anchor="middle" fill="#231f20">Total</text>
<text x="213.8" y="597.6" font-size="8.6" text-anchor="middle" fill="#231f20">Cytoplasmic fraction</text>
<text x="326.8" y="597.6" font-size="8.6" text-anchor="middle" fill="#231f20">Membrane fraction</text>
<line x1="53" y1="601.5" x2="160.3" y2="601.5" stroke="#231f20" stroke-width="1.4"/>
<line x1="164.5" y1="601.5" x2="268" y2="601.5" stroke="#231f20" stroke-width="1.4"/>
<line x1="275" y1="601.5" x2="381.2" y2="601.5" stroke="#231f20" stroke-width="1.4"/>
<text x="61.25" y="611.4" font-size="8.0" text-anchor="middle" fill="#231f20">0</text>
<text x="78" y="611.4" font-size="8.0" text-anchor="middle" fill="#231f20">4</text>
<text x="97" y="611.4" font-size="8.0" text-anchor="middle" fill="#231f20">12</text>
<text x="115.75" y="611.4" font-size="8.0" text-anchor="middle" fill="#231f20">24</text>
<text x="131.25" y="611.4" font-size="8.0" text-anchor="middle" fill="#231f20">36</text>
<text x="152" y="611.4" font-size="8.0" text-anchor="middle" fill="#231f20">48</text>
<text x="170" y="611.4" font-size="8.0" text-anchor="middle" fill="#231f20">0</text>
<text x="187.5" y="611.4" font-size="8.0" text-anchor="middle" fill="#231f20">4</text>
<text x="202.5" y="611.4" font-size="8.0" text-anchor="middle" fill="#231f20">12</text>
<text x="222.5" y="611.4" font-size="8.0" text-anchor="middle" fill="#231f20">24</text>
<text x="242.5" y="611.4" font-size="8.0" text-anchor="middle" fill="#231f20">36</text>
<text x="258.5" y="611.4" font-size="8.0" text-anchor="middle" fill="#231f20">48</text>
<text x="281" y="611.4" font-size="8.0" text-anchor="middle" fill="#231f20">0</text>
<text x="297.5" y="611.4" font-size="8.0" text-anchor="middle" fill="#231f20">4</text>
<text x="315" y="611.4" font-size="8.0" text-anchor="middle" fill="#231f20">12</text>
<text x="335" y="611.4" font-size="8.0" text-anchor="middle" fill="#231f20">24</text>
<text x="352.5" y="611.4" font-size="8.0" text-anchor="middle" fill="#231f20">36</text>
<text x="370" y="611.4" font-size="8.0" text-anchor="middle" fill="#231f20">48</text>
<text x="387.7" y="611.4" font-size="8.6" fill="#231f20">h irono</text>
<text x="19.3" y="615.0" font-size="8.6" fill="#231f20">kDa</text>
<text x="35.0" y="627.35" font-size="8.6" text-anchor="end" fill="#231f20">20</text>
<line x1="39.8" y1="624.75" x2="45" y2="624.75" stroke="#231f20" stroke-width="1.1"/>
<text x="387.7" y="627.85" font-size="8.8" fill="#231f20">Anti-BAX</text>
<text x="35.0" y="655.3000000000001" font-size="8.6" text-anchor="end" fill="#231f20">37</text>
<line x1="39.8" y1="652.7" x2="45" y2="652.7" stroke="#231f20" stroke-width="1.1"/>
<text x="387.7" y="655.8000000000001" font-size="8.8" fill="#231f20">Anti-COX1</text>
<text x="35.0" y="681.75" font-size="8.6" text-anchor="end" fill="#231f20">75</text>
<line x1="39.8" y1="679.15" x2="45" y2="679.15" stroke="#231f20" stroke-width="1.1"/>
<text x="387.7" y="682.25" font-size="8.8" fill="#231f20">Anti-HSP70</text>
<text x="35.0" y="704.9" font-size="8.6" text-anchor="end" fill="#231f20">37</text>
<line x1="39.8" y1="702.3" x2="45" y2="702.3" stroke="#231f20" stroke-width="1.1"/>
<text x="387.7" y="705.4" font-size="8.8" fill="#231f20">Anti-VDAC1</text>
<defs><filter id="bb" x="-30%" y="-100%" width="160%" height="300%"><feGaussianBlur stdDeviation="0.9 0.7"/></filter><filter id="bb2" x="-30%" y="-100%" width="160%" height="300%"><feGaussianBlur stdDeviation="1.3 1.0"/></filter></defs>
<rect x="45" y="614.5" width="339.5" height="20.5" fill="#fafafa"/>
<rect x="45" y="641" width="339.5" height="23.4" fill="#f7f7f7"/>
<rect x="45" y="669.3" width="339.5" height="19.7" fill="#f8f8f8"/>
<rect x="45" y="693" width="339.5" height="18.6" fill="#f0f0f0"/>
<rect x="51.10" y="651.30" width="14" height="7" rx="3.5" fill="#000" filter="url(#bb)"/>
<rect x="67.75" y="652.05" width="14" height="5.5" rx="2.75" fill="#4a4a4a" filter="url(#bb)"/>
<rect x="87.40" y="652.30" width="14" height="5" rx="2.5" fill="#8a8a8a" filter="url(#bb)"/>
<rect x="105.50" y="652.30" width="14" height="5" rx="2.5" fill="#c4c4c4" filter="url(#bb)"/>
<rect x="121.75" y="652.55" width="14" height="4.5" rx="2.25" fill="#d6d6d6" filter="url(#bb)"/>
<rect x="142.40" y="652.55" width="14" height="4.5" rx="2.25" fill="#cfcfcf" filter="url(#bb)"/>
<rect x="160.00" y="652.80" width="14" height="4" rx="2.0" fill="#f0f0f0" filter="url(#bb)"/>
<rect x="182.00" y="652.80" width="14" height="4" rx="2.0" fill="#f4f4f4" filter="url(#bb)"/>
<rect x="195.50" y="652.80" width="14" height="4" rx="2.0" fill="#f2f2f2" filter="url(#bb)"/>
<rect x="215.00" y="652.80" width="14" height="4" rx="2.0" fill="#f3f3f3" filter="url(#bb)"/>
<rect x="233.40" y="652.80" width="14" height="4" rx="2.0" fill="#f3f3f3" filter="url(#bb)"/>
<rect x="250.75" y="652.80" width="14" height="4" rx="2.0" fill="#f2f2f2" filter="url(#bb)"/>
<rect x="273.00" y="651.30" width="14" height="7" rx="3.5" fill="#000" filter="url(#bb)"/>
<rect x="291.75" y="651.30" width="14" height="7" rx="3.5" fill="#000" filter="url(#bb)"/>
<rect x="309.40" y="652.05" width="14" height="5.5" rx="2.75" fill="#707070" filter="url(#bb)"/>
<rect x="328.25" y="652.30" width="14" height="5" rx="2.5" fill="#5a5a5a" filter="url(#bb)"/>
<rect x="346.50" y="652.05" width="14" height="5.5" rx="2.75" fill="#777" filter="url(#bb)"/>
<rect x="363.75" y="652.05" width="14" height="5.5" rx="2.75" fill="#999" filter="url(#bb)"/>
<rect x="275.00" y="647.50" width="10" height="2" rx="1.0" fill="#d8d8d8" filter="url(#bb)"/>
<rect x="293.75" y="647.50" width="10" height="2" rx="1.0" fill="#d8d8d8" filter="url(#bb)"/>
<rect x="311.40" y="647.50" width="10" height="2" rx="1.0" fill="#d8d8d8" filter="url(#bb)"/>
<rect x="330.25" y="647.50" width="10" height="2" rx="1.0" fill="#d8d8d8" filter="url(#bb)"/>
<rect x="348.50" y="647.50" width="10" height="2" rx="1.0" fill="#d8d8d8" filter="url(#bb)"/>
<rect x="365.75" y="647.50" width="10" height="2" rx="1.0" fill="#d8d8d8" filter="url(#bb)"/>
<rect x="51.10" y="677.35" width="14" height="4.1000000000000005" rx="2.0500000000000003" fill="#111" filter="url(#bb)"/>
<rect x="67.75" y="678.05" width="14" height="3.9" rx="1.95" fill="#1c1c1c" filter="url(#bb)"/>
<rect x="87.40" y="678.15" width="14" height="3.6999999999999997" rx="1.8499999999999999" fill="#2a2a2a" filter="url(#bb)"/>
<rect x="105.50" y="678.35" width="14" height="3.6999999999999997" rx="1.8499999999999999" fill="#2c2c2c" filter="url(#bb)"/>
<rect x="121.75" y="677.95" width="14" height="3.6999999999999997" rx="1.8499999999999999" fill="#3a3a3a" filter="url(#bb)"/>
<rect x="142.40" y="678.75" width="14" height="3.6999999999999997" rx="1.8499999999999999" fill="#2a2a2a" filter="url(#bb)"/>
<rect x="160.00" y="678.45" width="14" height="5.7" rx="2.85" fill="#000" filter="url(#bb)"/>
<rect x="182.00" y="679.85" width="14" height="2.9" rx="1.45" fill="#e6e6e6" filter="url(#bb)"/>
<rect x="195.50" y="678.45" width="14" height="5.1000000000000005" rx="2.5500000000000003" fill="#0a0a0a" filter="url(#bb)"/>
<rect x="215.00" y="678.75" width="14" height="4.5" rx="2.25" fill="#1a1a1a" filter="url(#bb)"/>
<rect x="233.40" y="678.65" width="14" height="3.9" rx="1.95" fill="#4a4a4a" filter="url(#bb)"/>
<rect x="250.75" y="678.65" width="14" height="3.9" rx="1.95" fill="#505050" filter="url(#bb)"/>
<rect x="273.00" y="679.05" width="14" height="3.5" rx="1.75" fill="#8a8a8a" filter="url(#bb)"/>
<rect x="291.75" y="679.35" width="14" height="2.9" rx="1.45" fill="#cdcdcd" filter="url(#bb)"/>
<rect x="309.40" y="678.75" width="14" height="3.5" rx="1.75" fill="#8a8a8a" filter="url(#bb)"/>
<rect x="328.25" y="678.35" width="14" height="3.6999999999999997" rx="1.8499999999999999" fill="#777" filter="url(#bb)"/>
<rect x="346.50" y="678.05" width="14" height="3.9" rx="1.95" fill="#555" filter="url(#bb)"/>
<rect x="363.75" y="677.65" width="14" height="3.9" rx="1.95" fill="#333" filter="url(#bb)"/>
<rect x="50.85" y="699.30" width="14.5" height="4.2" rx="2.1" fill="#2a2a2a" filter="url(#bb)"/>
<rect x="67.50" y="700.10" width="14.5" height="4.2" rx="2.1" fill="#333" filter="url(#bb)"/>
<rect x="87.15" y="699.50" width="14.5" height="4.2" rx="2.1" fill="#2a2a2a" filter="url(#bb)"/>
<rect x="105.25" y="700.30" width="14.5" height="4.2" rx="2.1" fill="#2a2a2a" filter="url(#bb)"/>
<rect x="121.50" y="699.90" width="14.5" height="4.2" rx="2.1" fill="#1c1c1c" filter="url(#bb)"/>
<rect x="142.15" y="700.50" width="14.5" height="4.2" rx="2.1" fill="#222" filter="url(#bb)"/>
<rect x="272.75" y="700.70" width="14.5" height="4.2" rx="2.1" fill="#111" filter="url(#bb)"/>
<rect x="291.50" y="700.50" width="14.5" height="4.2" rx="2.1" fill="#111" filter="url(#bb)"/>
<rect x="309.15" y="701.10" width="14.5" height="4.2" rx="2.1" fill="#111" filter="url(#bb)"/>
<rect x="328.00" y="700.90" width="14.5" height="4.2" rx="2.1" fill="#151515" filter="url(#bb)"/>
<rect x="346.25" y="700.70" width="14.5" height="4.2" rx="2.1" fill="#151515" filter="url(#bb)"/>
<rect x="363.50" y="700.30" width="14.5" height="4.2" rx="2.1" fill="#111" filter="url(#bb)"/>
<rect x="45.6" y="615.1" width="338.3" height="19.3" fill="none" stroke="#222" stroke-width="1.45"/>
<rect x="45.6" y="641.6" width="338.3" height="22.199999999999978" fill="none" stroke="#222" stroke-width="1.45"/>
<rect x="45.6" y="669.9" width="338.3" height="18.500000000000046" fill="none" stroke="#222" stroke-width="1.45"/>
<rect x="45.6" y="693.6" width="338.3" height="17.400000000000023" fill="none" stroke="#222" stroke-width="1.45"/>
</svg></body></html>
